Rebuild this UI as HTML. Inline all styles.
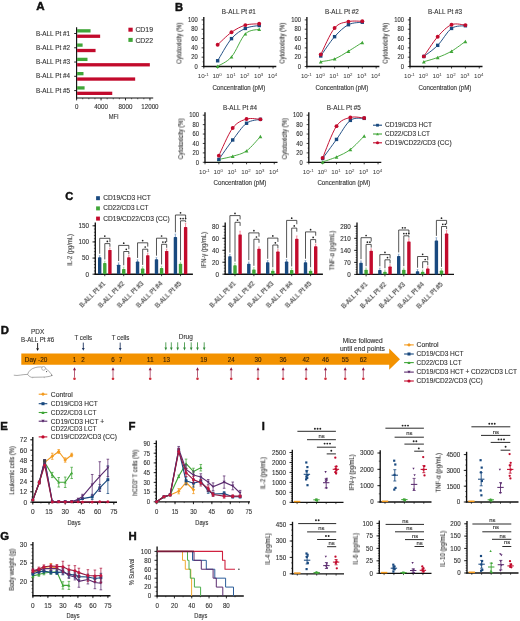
<!DOCTYPE html>
<html><head><meta charset="utf-8"><style>
html,body{margin:0;padding:0;background:#fff;width:520px;height:621px;overflow:hidden}
svg{display:block;filter:blur(0.3px)}
text{filter:url(#gs)}
text.nf{filter:none}
text{font-family:"Liberation Sans", sans-serif}
</style></head><body>
<svg width="520" height="621" viewBox="0 0 520 621">
<defs><filter id="gs" x="-5%" y="-5%" width="110%" height="110%"><feColorMatrix type="saturate" values="0"/></filter></defs>
<rect width="520" height="621" fill="#fff"/>
<text x="36.3" y="9.9" font-size="11.6" font-weight="bold" fill="#111" stroke="#111" stroke-width="0.45">A</text>
<line x1="76.6" y1="27.3" x2="76.6" y2="98.5" stroke="#111" stroke-width="1.15"/>
<line x1="76.1" y1="98" x2="153.2" y2="98" stroke="#111" stroke-width="1.15"/>
<line x1="76.6" y1="98" x2="76.6" y2="100.4" stroke="#111" stroke-width="0.9"/>
<line x1="82.71" y1="98" x2="82.71" y2="99.3" stroke="#111" stroke-width="0.6"/>
<line x1="88.82" y1="98" x2="88.82" y2="99.3" stroke="#111" stroke-width="0.6"/>
<line x1="94.94" y1="98" x2="94.94" y2="99.3" stroke="#111" stroke-width="0.6"/>
<line x1="101.05" y1="98" x2="101.05" y2="100.4" stroke="#111" stroke-width="0.9"/>
<line x1="107.16" y1="98" x2="107.16" y2="99.3" stroke="#111" stroke-width="0.6"/>
<line x1="113.27" y1="98" x2="113.27" y2="99.3" stroke="#111" stroke-width="0.6"/>
<line x1="119.39" y1="98" x2="119.39" y2="99.3" stroke="#111" stroke-width="0.6"/>
<line x1="125.5" y1="98" x2="125.5" y2="100.4" stroke="#111" stroke-width="0.9"/>
<line x1="131.61" y1="98" x2="131.61" y2="99.3" stroke="#111" stroke-width="0.6"/>
<line x1="137.72" y1="98" x2="137.72" y2="99.3" stroke="#111" stroke-width="0.6"/>
<line x1="143.84" y1="98" x2="143.84" y2="99.3" stroke="#111" stroke-width="0.6"/>
<line x1="149.95" y1="98" x2="149.95" y2="100.4" stroke="#111" stroke-width="0.9"/>
<text x="76.6" y="108.7" font-size="6.5" text-anchor="middle" fill="#333" stroke="#333" stroke-width="0.12" textLength="3.45" lengthAdjust="spacingAndGlyphs">0</text>
<text x="101.05" y="108.7" font-size="6.5" text-anchor="middle" fill="#333" stroke="#333" stroke-width="0.12" textLength="13.8" lengthAdjust="spacingAndGlyphs">4000</text>
<text x="125.5" y="108.7" font-size="6.5" text-anchor="middle" fill="#333" stroke="#333" stroke-width="0.12" textLength="13.8" lengthAdjust="spacingAndGlyphs">8000</text>
<text x="149.95" y="108.7" font-size="6.5" text-anchor="middle" fill="#333" stroke="#333" stroke-width="0.12" textLength="17.25" lengthAdjust="spacingAndGlyphs">12000</text>
<text x="113.7" y="119" font-size="6.6" text-anchor="middle" fill="#333" stroke="#333" stroke-width="0.12" textLength="10" lengthAdjust="spacingAndGlyphs">MFI</text>
<rect x="77.1" y="29.2" width="13.45" height="3.3" fill="#40a638"/>
<rect x="77.1" y="34.6" width="23.04" height="3.3" fill="#c20a2c"/>
<line x1="74.2" y1="33.5" x2="76.6" y2="33.5" stroke="#111" stroke-width="0.9"/>
<text x="70" y="35.6" font-size="6.3" text-anchor="end" fill="#333" stroke="#333" stroke-width="0.12" textLength="34" lengthAdjust="spacingAndGlyphs">B-ALL Pt #1</text>
<rect x="77.1" y="43.47" width="5.5" height="3.3" fill="#40a638"/>
<rect x="77.1" y="48.87" width="18.46" height="3.3" fill="#c20a2c"/>
<line x1="74.2" y1="47.77" x2="76.6" y2="47.77" stroke="#111" stroke-width="0.9"/>
<text x="70" y="49.87" font-size="6.3" text-anchor="end" fill="#333" stroke="#333" stroke-width="0.12" textLength="34" lengthAdjust="spacingAndGlyphs">B-ALL Pt #2</text>
<rect x="77.1" y="57.74" width="10.39" height="3.3" fill="#40a638"/>
<rect x="77.1" y="63.14" width="72.74" height="3.3" fill="#c20a2c"/>
<line x1="74.2" y1="62.04" x2="76.6" y2="62.04" stroke="#111" stroke-width="0.9"/>
<text x="70" y="64.14" font-size="6.3" text-anchor="end" fill="#333" stroke="#333" stroke-width="0.12" textLength="34" lengthAdjust="spacingAndGlyphs">B-ALL Pt #3</text>
<rect x="77.1" y="72.01" width="6.39" height="3.3" fill="#40a638"/>
<rect x="77.1" y="77.41" width="58.07" height="3.3" fill="#c20a2c"/>
<line x1="74.2" y1="76.31" x2="76.6" y2="76.31" stroke="#111" stroke-width="0.9"/>
<text x="70" y="78.41" font-size="6.3" text-anchor="end" fill="#333" stroke="#333" stroke-width="0.12" textLength="34" lengthAdjust="spacingAndGlyphs">B-ALL Pt #4</text>
<rect x="77.1" y="86.28" width="7.49" height="3.3" fill="#40a638"/>
<rect x="77.1" y="91.68" width="35.15" height="3.3" fill="#c20a2c"/>
<line x1="74.2" y1="90.58" x2="76.6" y2="90.58" stroke="#111" stroke-width="0.9"/>
<text x="70" y="92.68" font-size="6.3" text-anchor="end" fill="#333" stroke="#333" stroke-width="0.12" textLength="34" lengthAdjust="spacingAndGlyphs">B-ALL Pt #5</text>
<rect x="128.4" y="27.7" width="4.3" height="4" fill="#c20a2c"/>
<text x="135.4" y="32.3" font-size="6.6" text-anchor="start" fill="#333" stroke="#333" stroke-width="0.12" textLength="17.6" lengthAdjust="spacingAndGlyphs">CD19</text>
<rect x="128.4" y="37.9" width="4.3" height="4" fill="#40a638"/>
<text x="135.4" y="42.5" font-size="6.6" text-anchor="start" fill="#333" stroke="#333" stroke-width="0.12" textLength="17.6" lengthAdjust="spacingAndGlyphs">CD22</text>
<text x="175" y="10.7" font-size="11.2" font-weight="bold" fill="#111" stroke="#111" stroke-width="0.45">B</text>
<line x1="203.8" y1="16.9" x2="203.8" y2="67" stroke="#111" stroke-width="1.35"/>
<line x1="203.3" y1="66.5" x2="276.3" y2="66.5" stroke="#111" stroke-width="1.35"/>
<line x1="201.6" y1="66.5" x2="203.8" y2="66.5" stroke="#111" stroke-width="0.8"/>
<text x="197.8" y="68.75" font-size="6.4" text-anchor="end" fill="#333" stroke="#333" stroke-width="0.12" textLength="3.25" lengthAdjust="spacingAndGlyphs">0</text>
<line x1="202.6" y1="61.84" x2="203.8" y2="61.84" stroke="#111" stroke-width="0.6"/>
<line x1="201.6" y1="57.18" x2="203.8" y2="57.18" stroke="#111" stroke-width="0.8"/>
<text x="197.8" y="59.43" font-size="6.4" text-anchor="end" fill="#333" stroke="#333" stroke-width="0.12" textLength="6.5" lengthAdjust="spacingAndGlyphs">20</text>
<line x1="202.6" y1="52.52" x2="203.8" y2="52.52" stroke="#111" stroke-width="0.6"/>
<line x1="201.6" y1="47.86" x2="203.8" y2="47.86" stroke="#111" stroke-width="0.8"/>
<text x="197.8" y="50.11" font-size="6.4" text-anchor="end" fill="#333" stroke="#333" stroke-width="0.12" textLength="6.5" lengthAdjust="spacingAndGlyphs">40</text>
<line x1="202.6" y1="43.2" x2="203.8" y2="43.2" stroke="#111" stroke-width="0.6"/>
<line x1="201.6" y1="38.54" x2="203.8" y2="38.54" stroke="#111" stroke-width="0.8"/>
<text x="197.8" y="40.79" font-size="6.4" text-anchor="end" fill="#333" stroke="#333" stroke-width="0.12" textLength="6.5" lengthAdjust="spacingAndGlyphs">60</text>
<line x1="202.6" y1="33.88" x2="203.8" y2="33.88" stroke="#111" stroke-width="0.6"/>
<line x1="201.6" y1="29.22" x2="203.8" y2="29.22" stroke="#111" stroke-width="0.8"/>
<text x="197.8" y="31.47" font-size="6.4" text-anchor="end" fill="#333" stroke="#333" stroke-width="0.12" textLength="6.5" lengthAdjust="spacingAndGlyphs">80</text>
<line x1="202.6" y1="24.56" x2="203.8" y2="24.56" stroke="#111" stroke-width="0.6"/>
<line x1="201.6" y1="19.9" x2="203.8" y2="19.9" stroke="#111" stroke-width="0.8"/>
<text x="197.8" y="22.15" font-size="6.4" text-anchor="end" fill="#333" stroke="#333" stroke-width="0.12" textLength="9.75" lengthAdjust="spacingAndGlyphs">100</text>
<line x1="203.8" y1="66.5" x2="203.8" y2="68.5" stroke="#111" stroke-width="0.8"/>
<text x="203.2" y="78.4" font-size="6.2" text-anchor="middle" fill="#333">10<tspan font-size="4.34" dy="-2.48">-1</tspan></text>
<line x1="217.65" y1="66.5" x2="217.65" y2="68.5" stroke="#111" stroke-width="0.8"/>
<text x="217.05" y="78.4" font-size="6.2" text-anchor="middle" fill="#333">10<tspan font-size="4.34" dy="-2.48">0</tspan></text>
<line x1="231.5" y1="66.5" x2="231.5" y2="68.5" stroke="#111" stroke-width="0.8"/>
<text x="230.9" y="78.4" font-size="6.2" text-anchor="middle" fill="#333">10<tspan font-size="4.34" dy="-2.48">1</tspan></text>
<line x1="245.35" y1="66.5" x2="245.35" y2="68.5" stroke="#111" stroke-width="0.8"/>
<text x="244.75" y="78.4" font-size="6.2" text-anchor="middle" fill="#333">10<tspan font-size="4.34" dy="-2.48">2</tspan></text>
<line x1="259.2" y1="66.5" x2="259.2" y2="68.5" stroke="#111" stroke-width="0.8"/>
<text x="258.6" y="78.4" font-size="6.2" text-anchor="middle" fill="#333">10<tspan font-size="4.34" dy="-2.48">3</tspan></text>
<line x1="273.05" y1="66.5" x2="273.05" y2="68.5" stroke="#111" stroke-width="0.8"/>
<text x="272.45" y="78.4" font-size="6.2" text-anchor="middle" fill="#333">10<tspan font-size="4.34" dy="-2.48">4</tspan></text>
<text x="238.8" y="14.4" font-size="6.8" text-anchor="middle" fill="#333" stroke="#333" stroke-width="0.12" textLength="34" lengthAdjust="spacingAndGlyphs">B-ALL Pt #1</text>
<text x="238.8" y="89.5" font-size="6.6" text-anchor="middle" fill="#333" stroke="#333" stroke-width="0.12" textLength="52.8" lengthAdjust="spacingAndGlyphs">Concentration (pM)</text>
<text x="181.6" y="43.2" font-size="6.3" text-anchor="middle" fill="#333" stroke="#333" stroke-width="0.12" textLength="41" lengthAdjust="spacingAndGlyphs" transform="rotate(-90 181.6 43.2)">Cytotoxicity (%)</text>
<path d="M217.65,66.27 C219.96,64.71 226.88,62.3 231.5,56.9 C236.12,51.5 240.73,38.48 245.35,33.88 C249.97,29.28 256.89,30.07 259.2,29.31" fill="none" stroke="#40a638" stroke-width="0.95"/>
<path d="M217.65,60.77 C219.96,57.08 226.88,44.02 231.5,38.63 C236.12,33.24 240.73,30.62 245.35,28.43 C249.97,26.24 256.89,25.98 259.2,25.49" fill="none" stroke="#19497f" stroke-width="0.95"/>
<path d="M217.65,44.74 C219.96,42.66 226.88,35.52 231.5,32.25 C236.12,28.98 240.73,26.52 245.35,25.12 C249.97,23.71 256.89,24.03 259.2,23.81" fill="none" stroke="#c20a2c" stroke-width="0.95"/>
<polygon points="215.75,67.98 219.55,67.98 217.65,64.56" fill="#40a638"/>
<polygon points="229.6,58.61 233.4,58.61 231.5,55.19" fill="#40a638"/>
<polygon points="243.45,35.59 247.25,35.59 245.35,32.17" fill="#40a638"/>
<polygon points="257.3,31.02 261.1,31.02 259.2,27.6" fill="#40a638"/>
<rect x="215.95" y="59.07" width="3.4" height="3.4" fill="#19497f"/>
<rect x="229.8" y="36.93" width="3.4" height="3.4" fill="#19497f"/>
<rect x="243.65" y="26.73" width="3.4" height="3.4" fill="#19497f"/>
<rect x="257.5" y="23.79" width="3.4" height="3.4" fill="#19497f"/>
<circle cx="217.65" cy="44.74" r="1.95" fill="#c20a2c"/>
<circle cx="231.5" cy="32.25" r="1.95" fill="#c20a2c"/>
<circle cx="245.35" cy="25.12" r="1.95" fill="#c20a2c"/>
<circle cx="259.2" cy="23.81" r="1.95" fill="#c20a2c"/>
<line x1="306.9" y1="16.9" x2="306.9" y2="67" stroke="#111" stroke-width="1.35"/>
<line x1="306.4" y1="66.5" x2="379.4" y2="66.5" stroke="#111" stroke-width="1.35"/>
<line x1="304.7" y1="66.5" x2="306.9" y2="66.5" stroke="#111" stroke-width="0.8"/>
<text x="300.9" y="68.75" font-size="6.4" text-anchor="end" fill="#333" stroke="#333" stroke-width="0.12" textLength="3.25" lengthAdjust="spacingAndGlyphs">0</text>
<line x1="305.7" y1="61.84" x2="306.9" y2="61.84" stroke="#111" stroke-width="0.6"/>
<line x1="304.7" y1="57.18" x2="306.9" y2="57.18" stroke="#111" stroke-width="0.8"/>
<text x="300.9" y="59.43" font-size="6.4" text-anchor="end" fill="#333" stroke="#333" stroke-width="0.12" textLength="6.5" lengthAdjust="spacingAndGlyphs">20</text>
<line x1="305.7" y1="52.52" x2="306.9" y2="52.52" stroke="#111" stroke-width="0.6"/>
<line x1="304.7" y1="47.86" x2="306.9" y2="47.86" stroke="#111" stroke-width="0.8"/>
<text x="300.9" y="50.11" font-size="6.4" text-anchor="end" fill="#333" stroke="#333" stroke-width="0.12" textLength="6.5" lengthAdjust="spacingAndGlyphs">40</text>
<line x1="305.7" y1="43.2" x2="306.9" y2="43.2" stroke="#111" stroke-width="0.6"/>
<line x1="304.7" y1="38.54" x2="306.9" y2="38.54" stroke="#111" stroke-width="0.8"/>
<text x="300.9" y="40.79" font-size="6.4" text-anchor="end" fill="#333" stroke="#333" stroke-width="0.12" textLength="6.5" lengthAdjust="spacingAndGlyphs">60</text>
<line x1="305.7" y1="33.88" x2="306.9" y2="33.88" stroke="#111" stroke-width="0.6"/>
<line x1="304.7" y1="29.22" x2="306.9" y2="29.22" stroke="#111" stroke-width="0.8"/>
<text x="300.9" y="31.47" font-size="6.4" text-anchor="end" fill="#333" stroke="#333" stroke-width="0.12" textLength="6.5" lengthAdjust="spacingAndGlyphs">80</text>
<line x1="305.7" y1="24.56" x2="306.9" y2="24.56" stroke="#111" stroke-width="0.6"/>
<line x1="304.7" y1="19.9" x2="306.9" y2="19.9" stroke="#111" stroke-width="0.8"/>
<text x="300.9" y="22.15" font-size="6.4" text-anchor="end" fill="#333" stroke="#333" stroke-width="0.12" textLength="9.75" lengthAdjust="spacingAndGlyphs">100</text>
<line x1="306.9" y1="66.5" x2="306.9" y2="68.5" stroke="#111" stroke-width="0.8"/>
<text x="306.3" y="78.4" font-size="6.2" text-anchor="middle" fill="#333">10<tspan font-size="4.34" dy="-2.48">-1</tspan></text>
<line x1="320.75" y1="66.5" x2="320.75" y2="68.5" stroke="#111" stroke-width="0.8"/>
<text x="320.15" y="78.4" font-size="6.2" text-anchor="middle" fill="#333">10<tspan font-size="4.34" dy="-2.48">0</tspan></text>
<line x1="334.6" y1="66.5" x2="334.6" y2="68.5" stroke="#111" stroke-width="0.8"/>
<text x="334" y="78.4" font-size="6.2" text-anchor="middle" fill="#333">10<tspan font-size="4.34" dy="-2.48">1</tspan></text>
<line x1="348.45" y1="66.5" x2="348.45" y2="68.5" stroke="#111" stroke-width="0.8"/>
<text x="347.85" y="78.4" font-size="6.2" text-anchor="middle" fill="#333">10<tspan font-size="4.34" dy="-2.48">2</tspan></text>
<line x1="362.3" y1="66.5" x2="362.3" y2="68.5" stroke="#111" stroke-width="0.8"/>
<text x="361.7" y="78.4" font-size="6.2" text-anchor="middle" fill="#333">10<tspan font-size="4.34" dy="-2.48">3</tspan></text>
<line x1="376.15" y1="66.5" x2="376.15" y2="68.5" stroke="#111" stroke-width="0.8"/>
<text x="375.55" y="78.4" font-size="6.2" text-anchor="middle" fill="#333">10<tspan font-size="4.34" dy="-2.48">4</tspan></text>
<text x="341.9" y="14.4" font-size="6.8" text-anchor="middle" fill="#333" stroke="#333" stroke-width="0.12" textLength="34" lengthAdjust="spacingAndGlyphs">B-ALL Pt #2</text>
<text x="341.9" y="89.5" font-size="6.6" text-anchor="middle" fill="#333" stroke="#333" stroke-width="0.12" textLength="52.8" lengthAdjust="spacingAndGlyphs">Concentration (pM)</text>
<text x="284.7" y="43.2" font-size="6.3" text-anchor="middle" fill="#333" stroke="#333" stroke-width="0.12" textLength="41" lengthAdjust="spacingAndGlyphs" transform="rotate(-90 284.7 43.2)">Cytotoxicity (%)</text>
<path d="M320.75,61.7 C323.06,61.23 329.98,60.66 334.6,58.9 C339.22,57.15 343.83,53.91 348.45,51.17 C353.07,48.43 359.99,43.91 362.3,42.45" fill="none" stroke="#40a638" stroke-width="0.95"/>
<path d="M320.75,55.97 C323.06,52.75 329.98,41.89 334.6,36.68 C339.22,31.46 343.83,27.11 348.45,24.7 C353.07,22.29 359.99,22.64 362.3,22.23" fill="none" stroke="#19497f" stroke-width="0.95"/>
<path d="M320.75,54.57 C323.06,50.14 329.98,33.5 334.6,28.01 C339.22,22.52 343.83,22.74 348.45,21.62 C353.07,20.51 359.99,21.35 362.3,21.3" fill="none" stroke="#c20a2c" stroke-width="0.95"/>
<polygon points="318.85,63.41 322.65,63.41 320.75,59.99" fill="#40a638"/>
<polygon points="332.7,60.61 336.5,60.61 334.6,57.19" fill="#40a638"/>
<polygon points="346.55,52.88 350.35,52.88 348.45,49.46" fill="#40a638"/>
<polygon points="360.4,44.16 364.2,44.16 362.3,40.74" fill="#40a638"/>
<rect x="319.05" y="54.27" width="3.4" height="3.4" fill="#19497f"/>
<rect x="332.9" y="34.98" width="3.4" height="3.4" fill="#19497f"/>
<rect x="346.75" y="23" width="3.4" height="3.4" fill="#19497f"/>
<rect x="360.6" y="20.53" width="3.4" height="3.4" fill="#19497f"/>
<circle cx="320.75" cy="54.57" r="1.95" fill="#c20a2c"/>
<circle cx="334.6" cy="28.01" r="1.95" fill="#c20a2c"/>
<circle cx="348.45" cy="21.62" r="1.95" fill="#c20a2c"/>
<circle cx="362.3" cy="21.3" r="1.95" fill="#c20a2c"/>
<line x1="410" y1="16.9" x2="410" y2="67" stroke="#111" stroke-width="1.35"/>
<line x1="409.5" y1="66.5" x2="482.5" y2="66.5" stroke="#111" stroke-width="1.35"/>
<line x1="407.8" y1="66.5" x2="410" y2="66.5" stroke="#111" stroke-width="0.8"/>
<text x="404" y="68.75" font-size="6.4" text-anchor="end" fill="#333" stroke="#333" stroke-width="0.12" textLength="3.25" lengthAdjust="spacingAndGlyphs">0</text>
<line x1="408.8" y1="61.84" x2="410" y2="61.84" stroke="#111" stroke-width="0.6"/>
<line x1="407.8" y1="57.18" x2="410" y2="57.18" stroke="#111" stroke-width="0.8"/>
<text x="404" y="59.43" font-size="6.4" text-anchor="end" fill="#333" stroke="#333" stroke-width="0.12" textLength="6.5" lengthAdjust="spacingAndGlyphs">20</text>
<line x1="408.8" y1="52.52" x2="410" y2="52.52" stroke="#111" stroke-width="0.6"/>
<line x1="407.8" y1="47.86" x2="410" y2="47.86" stroke="#111" stroke-width="0.8"/>
<text x="404" y="50.11" font-size="6.4" text-anchor="end" fill="#333" stroke="#333" stroke-width="0.12" textLength="6.5" lengthAdjust="spacingAndGlyphs">40</text>
<line x1="408.8" y1="43.2" x2="410" y2="43.2" stroke="#111" stroke-width="0.6"/>
<line x1="407.8" y1="38.54" x2="410" y2="38.54" stroke="#111" stroke-width="0.8"/>
<text x="404" y="40.79" font-size="6.4" text-anchor="end" fill="#333" stroke="#333" stroke-width="0.12" textLength="6.5" lengthAdjust="spacingAndGlyphs">60</text>
<line x1="408.8" y1="33.88" x2="410" y2="33.88" stroke="#111" stroke-width="0.6"/>
<line x1="407.8" y1="29.22" x2="410" y2="29.22" stroke="#111" stroke-width="0.8"/>
<text x="404" y="31.47" font-size="6.4" text-anchor="end" fill="#333" stroke="#333" stroke-width="0.12" textLength="6.5" lengthAdjust="spacingAndGlyphs">80</text>
<line x1="408.8" y1="24.56" x2="410" y2="24.56" stroke="#111" stroke-width="0.6"/>
<line x1="407.8" y1="19.9" x2="410" y2="19.9" stroke="#111" stroke-width="0.8"/>
<text x="404" y="22.15" font-size="6.4" text-anchor="end" fill="#333" stroke="#333" stroke-width="0.12" textLength="9.75" lengthAdjust="spacingAndGlyphs">100</text>
<line x1="410" y1="66.5" x2="410" y2="68.5" stroke="#111" stroke-width="0.8"/>
<text x="409.4" y="78.4" font-size="6.2" text-anchor="middle" fill="#333">10<tspan font-size="4.34" dy="-2.48">-1</tspan></text>
<line x1="423.85" y1="66.5" x2="423.85" y2="68.5" stroke="#111" stroke-width="0.8"/>
<text x="423.25" y="78.4" font-size="6.2" text-anchor="middle" fill="#333">10<tspan font-size="4.34" dy="-2.48">0</tspan></text>
<line x1="437.7" y1="66.5" x2="437.7" y2="68.5" stroke="#111" stroke-width="0.8"/>
<text x="437.1" y="78.4" font-size="6.2" text-anchor="middle" fill="#333">10<tspan font-size="4.34" dy="-2.48">1</tspan></text>
<line x1="451.55" y1="66.5" x2="451.55" y2="68.5" stroke="#111" stroke-width="0.8"/>
<text x="450.95" y="78.4" font-size="6.2" text-anchor="middle" fill="#333">10<tspan font-size="4.34" dy="-2.48">2</tspan></text>
<line x1="465.4" y1="66.5" x2="465.4" y2="68.5" stroke="#111" stroke-width="0.8"/>
<text x="464.8" y="78.4" font-size="6.2" text-anchor="middle" fill="#333">10<tspan font-size="4.34" dy="-2.48">3</tspan></text>
<line x1="479.25" y1="66.5" x2="479.25" y2="68.5" stroke="#111" stroke-width="0.8"/>
<text x="478.65" y="78.4" font-size="6.2" text-anchor="middle" fill="#333">10<tspan font-size="4.34" dy="-2.48">4</tspan></text>
<text x="445" y="14.4" font-size="6.8" text-anchor="middle" fill="#333" stroke="#333" stroke-width="0.12" textLength="34" lengthAdjust="spacingAndGlyphs">B-ALL Pt #3</text>
<text x="445" y="89.5" font-size="6.6" text-anchor="middle" fill="#333" stroke="#333" stroke-width="0.12" textLength="52.8" lengthAdjust="spacingAndGlyphs">Concentration (pM)</text>
<text x="387.8" y="43.2" font-size="6.3" text-anchor="middle" fill="#333" stroke="#333" stroke-width="0.12" textLength="41" lengthAdjust="spacingAndGlyphs" transform="rotate(-90 387.8 43.2)">Cytotoxicity (%)</text>
<path d="M423.85,61.7 C426.16,60.99 433.08,59.21 437.7,57.46 C442.32,55.7 446.93,53.84 451.55,51.17 C456.17,48.5 463.09,43.05 465.4,41.43" fill="none" stroke="#40a638" stroke-width="0.95"/>
<path d="M423.85,56.48 C426.16,54.62 433.08,50.02 437.7,45.34 C442.32,40.67 446.93,31.7 451.55,28.43 C456.17,25.16 463.09,26.18 465.4,25.73" fill="none" stroke="#19497f" stroke-width="0.95"/>
<path d="M423.85,56.39 C426.16,53.1 433.08,41.96 437.7,36.68 C442.32,31.39 446.93,26.63 451.55,24.7 C456.17,22.77 463.09,25.05 465.4,25.12" fill="none" stroke="#c20a2c" stroke-width="0.95"/>
<polygon points="421.95,63.41 425.75,63.41 423.85,59.99" fill="#40a638"/>
<polygon points="435.8,59.17 439.6,59.17 437.7,55.75" fill="#40a638"/>
<polygon points="449.65,52.88 453.45,52.88 451.55,49.46" fill="#40a638"/>
<polygon points="463.5,43.14 467.3,43.14 465.4,39.72" fill="#40a638"/>
<rect x="422.15" y="54.78" width="3.4" height="3.4" fill="#19497f"/>
<rect x="436" y="43.64" width="3.4" height="3.4" fill="#19497f"/>
<rect x="449.85" y="26.73" width="3.4" height="3.4" fill="#19497f"/>
<rect x="463.7" y="24.03" width="3.4" height="3.4" fill="#19497f"/>
<circle cx="423.85" cy="56.39" r="1.95" fill="#c20a2c"/>
<circle cx="437.7" cy="36.68" r="1.95" fill="#c20a2c"/>
<circle cx="451.55" cy="24.7" r="1.95" fill="#c20a2c"/>
<circle cx="465.4" cy="25.12" r="1.95" fill="#c20a2c"/>
<line x1="205" y1="112.2" x2="205" y2="162.8" stroke="#111" stroke-width="1.35"/>
<line x1="204.5" y1="162.3" x2="277.5" y2="162.3" stroke="#111" stroke-width="1.35"/>
<line x1="202.8" y1="162.3" x2="205" y2="162.3" stroke="#111" stroke-width="0.8"/>
<text x="199" y="164.55" font-size="6.4" text-anchor="end" fill="#333" stroke="#333" stroke-width="0.12" textLength="3.25" lengthAdjust="spacingAndGlyphs">0</text>
<line x1="203.8" y1="157.59" x2="205" y2="157.59" stroke="#111" stroke-width="0.6"/>
<line x1="202.8" y1="152.88" x2="205" y2="152.88" stroke="#111" stroke-width="0.8"/>
<text x="199" y="155.13" font-size="6.4" text-anchor="end" fill="#333" stroke="#333" stroke-width="0.12" textLength="6.5" lengthAdjust="spacingAndGlyphs">20</text>
<line x1="203.8" y1="148.17" x2="205" y2="148.17" stroke="#111" stroke-width="0.6"/>
<line x1="202.8" y1="143.46" x2="205" y2="143.46" stroke="#111" stroke-width="0.8"/>
<text x="199" y="145.71" font-size="6.4" text-anchor="end" fill="#333" stroke="#333" stroke-width="0.12" textLength="6.5" lengthAdjust="spacingAndGlyphs">40</text>
<line x1="203.8" y1="138.75" x2="205" y2="138.75" stroke="#111" stroke-width="0.6"/>
<line x1="202.8" y1="134.04" x2="205" y2="134.04" stroke="#111" stroke-width="0.8"/>
<text x="199" y="136.29" font-size="6.4" text-anchor="end" fill="#333" stroke="#333" stroke-width="0.12" textLength="6.5" lengthAdjust="spacingAndGlyphs">60</text>
<line x1="203.8" y1="129.33" x2="205" y2="129.33" stroke="#111" stroke-width="0.6"/>
<line x1="202.8" y1="124.62" x2="205" y2="124.62" stroke="#111" stroke-width="0.8"/>
<text x="199" y="126.87" font-size="6.4" text-anchor="end" fill="#333" stroke="#333" stroke-width="0.12" textLength="6.5" lengthAdjust="spacingAndGlyphs">80</text>
<line x1="203.8" y1="119.91" x2="205" y2="119.91" stroke="#111" stroke-width="0.6"/>
<line x1="202.8" y1="115.2" x2="205" y2="115.2" stroke="#111" stroke-width="0.8"/>
<text x="199" y="117.45" font-size="6.4" text-anchor="end" fill="#333" stroke="#333" stroke-width="0.12" textLength="9.75" lengthAdjust="spacingAndGlyphs">100</text>
<line x1="205" y1="162.3" x2="205" y2="164.3" stroke="#111" stroke-width="0.8"/>
<text x="204.4" y="174.2" font-size="6.2" text-anchor="middle" fill="#333">10<tspan font-size="4.34" dy="-2.48">-1</tspan></text>
<line x1="218.85" y1="162.3" x2="218.85" y2="164.3" stroke="#111" stroke-width="0.8"/>
<text x="218.25" y="174.2" font-size="6.2" text-anchor="middle" fill="#333">10<tspan font-size="4.34" dy="-2.48">0</tspan></text>
<line x1="232.7" y1="162.3" x2="232.7" y2="164.3" stroke="#111" stroke-width="0.8"/>
<text x="232.1" y="174.2" font-size="6.2" text-anchor="middle" fill="#333">10<tspan font-size="4.34" dy="-2.48">1</tspan></text>
<line x1="246.55" y1="162.3" x2="246.55" y2="164.3" stroke="#111" stroke-width="0.8"/>
<text x="245.95" y="174.2" font-size="6.2" text-anchor="middle" fill="#333">10<tspan font-size="4.34" dy="-2.48">2</tspan></text>
<line x1="260.4" y1="162.3" x2="260.4" y2="164.3" stroke="#111" stroke-width="0.8"/>
<text x="259.8" y="174.2" font-size="6.2" text-anchor="middle" fill="#333">10<tspan font-size="4.34" dy="-2.48">3</tspan></text>
<line x1="274.25" y1="162.3" x2="274.25" y2="164.3" stroke="#111" stroke-width="0.8"/>
<text x="273.65" y="174.2" font-size="6.2" text-anchor="middle" fill="#333">10<tspan font-size="4.34" dy="-2.48">4</tspan></text>
<text x="240" y="109.7" font-size="6.8" text-anchor="middle" fill="#333" stroke="#333" stroke-width="0.12" textLength="34" lengthAdjust="spacingAndGlyphs">B-ALL Pt #4</text>
<text x="240" y="185.3" font-size="6.6" text-anchor="middle" fill="#333" stroke="#333" stroke-width="0.12" textLength="52.8" lengthAdjust="spacingAndGlyphs">Concentration (pM)</text>
<text x="182.8" y="138.75" font-size="6.3" text-anchor="middle" fill="#333" stroke="#333" stroke-width="0.12" textLength="41" lengthAdjust="spacingAndGlyphs" transform="rotate(-90 182.8 138.75)">Cytotoxicity (%)</text>
<path d="M218.85,159.43 C221.16,158.9 228.08,157.69 232.7,156.27 C237.32,154.85 241.93,154.19 246.55,150.9 C251.17,147.61 258.09,138.93 260.4,136.54" fill="none" stroke="#40a638" stroke-width="0.95"/>
<path d="M218.85,159.43 C221.16,156.18 228.08,146 232.7,139.97 C237.32,133.95 241.93,126.69 246.55,123.25 C251.17,119.82 258.09,120 260.4,119.34" fill="none" stroke="#19497f" stroke-width="0.95"/>
<path d="M218.85,155.66 C221.16,151.05 228.08,134.11 232.7,128.01 C237.32,121.91 241.93,120.51 246.55,119.06 C251.17,117.62 258.09,119.3 260.4,119.34" fill="none" stroke="#c20a2c" stroke-width="0.95"/>
<polygon points="216.95,161.14 220.75,161.14 218.85,157.72" fill="#40a638"/>
<polygon points="230.8,157.98 234.6,157.98 232.7,154.56" fill="#40a638"/>
<polygon points="244.65,152.61 248.45,152.61 246.55,149.19" fill="#40a638"/>
<polygon points="258.5,138.25 262.3,138.25 260.4,134.83" fill="#40a638"/>
<rect x="217.15" y="157.73" width="3.4" height="3.4" fill="#19497f"/>
<rect x="231" y="138.27" width="3.4" height="3.4" fill="#19497f"/>
<rect x="244.85" y="121.55" width="3.4" height="3.4" fill="#19497f"/>
<rect x="258.7" y="117.64" width="3.4" height="3.4" fill="#19497f"/>
<circle cx="218.85" cy="155.66" r="1.95" fill="#c20a2c"/>
<circle cx="232.7" cy="128.01" r="1.95" fill="#c20a2c"/>
<circle cx="246.55" cy="119.06" r="1.95" fill="#c20a2c"/>
<circle cx="260.4" cy="119.34" r="1.95" fill="#c20a2c"/>
<line x1="308.8" y1="112.2" x2="308.8" y2="162.8" stroke="#111" stroke-width="1.35"/>
<line x1="308.3" y1="162.3" x2="381.3" y2="162.3" stroke="#111" stroke-width="1.35"/>
<line x1="306.6" y1="162.3" x2="308.8" y2="162.3" stroke="#111" stroke-width="0.8"/>
<text x="302.8" y="164.55" font-size="6.4" text-anchor="end" fill="#333" stroke="#333" stroke-width="0.12" textLength="3.25" lengthAdjust="spacingAndGlyphs">0</text>
<line x1="307.6" y1="157.59" x2="308.8" y2="157.59" stroke="#111" stroke-width="0.6"/>
<line x1="306.6" y1="152.88" x2="308.8" y2="152.88" stroke="#111" stroke-width="0.8"/>
<text x="302.8" y="155.13" font-size="6.4" text-anchor="end" fill="#333" stroke="#333" stroke-width="0.12" textLength="6.5" lengthAdjust="spacingAndGlyphs">20</text>
<line x1="307.6" y1="148.17" x2="308.8" y2="148.17" stroke="#111" stroke-width="0.6"/>
<line x1="306.6" y1="143.46" x2="308.8" y2="143.46" stroke="#111" stroke-width="0.8"/>
<text x="302.8" y="145.71" font-size="6.4" text-anchor="end" fill="#333" stroke="#333" stroke-width="0.12" textLength="6.5" lengthAdjust="spacingAndGlyphs">40</text>
<line x1="307.6" y1="138.75" x2="308.8" y2="138.75" stroke="#111" stroke-width="0.6"/>
<line x1="306.6" y1="134.04" x2="308.8" y2="134.04" stroke="#111" stroke-width="0.8"/>
<text x="302.8" y="136.29" font-size="6.4" text-anchor="end" fill="#333" stroke="#333" stroke-width="0.12" textLength="6.5" lengthAdjust="spacingAndGlyphs">60</text>
<line x1="307.6" y1="129.33" x2="308.8" y2="129.33" stroke="#111" stroke-width="0.6"/>
<line x1="306.6" y1="124.62" x2="308.8" y2="124.62" stroke="#111" stroke-width="0.8"/>
<text x="302.8" y="126.87" font-size="6.4" text-anchor="end" fill="#333" stroke="#333" stroke-width="0.12" textLength="6.5" lengthAdjust="spacingAndGlyphs">80</text>
<line x1="307.6" y1="119.91" x2="308.8" y2="119.91" stroke="#111" stroke-width="0.6"/>
<line x1="306.6" y1="115.2" x2="308.8" y2="115.2" stroke="#111" stroke-width="0.8"/>
<text x="302.8" y="117.45" font-size="6.4" text-anchor="end" fill="#333" stroke="#333" stroke-width="0.12" textLength="9.75" lengthAdjust="spacingAndGlyphs">100</text>
<line x1="308.8" y1="162.3" x2="308.8" y2="164.3" stroke="#111" stroke-width="0.8"/>
<text x="308.2" y="174.2" font-size="6.2" text-anchor="middle" fill="#333">10<tspan font-size="4.34" dy="-2.48">-1</tspan></text>
<line x1="322.65" y1="162.3" x2="322.65" y2="164.3" stroke="#111" stroke-width="0.8"/>
<text x="322.05" y="174.2" font-size="6.2" text-anchor="middle" fill="#333">10<tspan font-size="4.34" dy="-2.48">0</tspan></text>
<line x1="336.5" y1="162.3" x2="336.5" y2="164.3" stroke="#111" stroke-width="0.8"/>
<text x="335.9" y="174.2" font-size="6.2" text-anchor="middle" fill="#333">10<tspan font-size="4.34" dy="-2.48">1</tspan></text>
<line x1="350.35" y1="162.3" x2="350.35" y2="164.3" stroke="#111" stroke-width="0.8"/>
<text x="349.75" y="174.2" font-size="6.2" text-anchor="middle" fill="#333">10<tspan font-size="4.34" dy="-2.48">2</tspan></text>
<line x1="364.2" y1="162.3" x2="364.2" y2="164.3" stroke="#111" stroke-width="0.8"/>
<text x="363.6" y="174.2" font-size="6.2" text-anchor="middle" fill="#333">10<tspan font-size="4.34" dy="-2.48">3</tspan></text>
<line x1="378.05" y1="162.3" x2="378.05" y2="164.3" stroke="#111" stroke-width="0.8"/>
<text x="377.45" y="174.2" font-size="6.2" text-anchor="middle" fill="#333">10<tspan font-size="4.34" dy="-2.48">4</tspan></text>
<text x="343.8" y="109.7" font-size="6.8" text-anchor="middle" fill="#333" stroke="#333" stroke-width="0.12" textLength="34" lengthAdjust="spacingAndGlyphs">B-ALL Pt #5</text>
<text x="343.8" y="185.3" font-size="6.6" text-anchor="middle" fill="#333" stroke="#333" stroke-width="0.12" textLength="52.8" lengthAdjust="spacingAndGlyphs">Concentration (pM)</text>
<text x="286.6" y="138.75" font-size="6.3" text-anchor="middle" fill="#333" stroke="#333" stroke-width="0.12" textLength="41" lengthAdjust="spacingAndGlyphs" transform="rotate(-90 286.6 138.75)">Cytotoxicity (%)</text>
<path d="M322.65,161.92 C324.96,161.09 331.88,159 336.5,156.93 C341.12,154.86 345.73,152.97 350.35,149.49 C354.97,146 361.89,138.26 364.2,136.02" fill="none" stroke="#40a638" stroke-width="0.95"/>
<path d="M322.65,158.53 C324.96,155.34 331.88,145.77 336.5,139.41 C341.12,133.05 345.73,123.89 350.35,120.38 C354.97,116.87 361.89,118.69 364.2,118.36" fill="none" stroke="#19497f" stroke-width="0.95"/>
<path d="M322.65,157.92 C324.96,152.62 331.88,132.87 336.5,126.13 C341.12,119.38 345.73,118.8 350.35,117.46 C354.97,116.12 361.89,117.97 364.2,118.07" fill="none" stroke="#c20a2c" stroke-width="0.95"/>
<polygon points="320.75,163.63 324.55,163.63 322.65,160.21" fill="#40a638"/>
<polygon points="334.6,158.64 338.4,158.64 336.5,155.22" fill="#40a638"/>
<polygon points="348.45,151.2 352.25,151.2 350.35,147.78" fill="#40a638"/>
<polygon points="362.3,137.73 366.1,137.73 364.2,134.31" fill="#40a638"/>
<rect x="320.95" y="156.83" width="3.4" height="3.4" fill="#19497f"/>
<rect x="334.8" y="137.71" width="3.4" height="3.4" fill="#19497f"/>
<rect x="348.65" y="118.68" width="3.4" height="3.4" fill="#19497f"/>
<rect x="362.5" y="116.66" width="3.4" height="3.4" fill="#19497f"/>
<circle cx="322.65" cy="157.92" r="1.95" fill="#c20a2c"/>
<circle cx="336.5" cy="126.13" r="1.95" fill="#c20a2c"/>
<circle cx="350.35" cy="117.46" r="1.95" fill="#c20a2c"/>
<circle cx="364.2" cy="118.07" r="1.95" fill="#c20a2c"/>
<line x1="373" y1="125.2" x2="382" y2="125.2" stroke="#19497f" stroke-width="1.1"/>
<rect x="376.1" y="123.8" width="2.8" height="2.8" fill="#19497f"/>
<text x="385" y="127.4" font-size="6.3" text-anchor="start" fill="#333" stroke="#333" stroke-width="0.12" textLength="47" lengthAdjust="spacingAndGlyphs">CD19/CD3 HCT</text>
<line x1="373" y1="134" x2="382" y2="134" stroke="#40a638" stroke-width="1.1"/>
<polygon points="376,135.35 379,135.35 377.5,132.65" fill="#40a638"/>
<text x="385" y="136.2" font-size="6.3" text-anchor="start" fill="#333" stroke="#333" stroke-width="0.12" textLength="45" lengthAdjust="spacingAndGlyphs">CD22/CD3 LCT</text>
<line x1="373" y1="142.8" x2="382" y2="142.8" stroke="#c20a2c" stroke-width="1.1"/>
<circle cx="377.5" cy="142.8" r="1.55" fill="#c20a2c"/>
<text x="385" y="145" font-size="6.3" text-anchor="start" fill="#333" stroke="#333" stroke-width="0.12" textLength="66.6" lengthAdjust="spacingAndGlyphs">CD19/CD22/CD3 (CC)</text>
<text x="65.2" y="200.1" font-size="11.2" font-weight="bold" fill="#111" stroke="#111" stroke-width="0.45">C</text>
<rect x="96.1" y="196.2" width="3.8" height="4" fill="#19497f"/>
<text x="103.3" y="200.2" font-size="6.6" text-anchor="start" fill="#333" stroke="#333" stroke-width="0.12" textLength="47.4" lengthAdjust="spacingAndGlyphs">CD19/CD3 HCT</text>
<rect x="96.1" y="206.4" width="3.8" height="4" fill="#40a638"/>
<text x="103.3" y="210.4" font-size="6.6" text-anchor="start" fill="#333" stroke="#333" stroke-width="0.12" textLength="45.2" lengthAdjust="spacingAndGlyphs">CD22/CD3 LCT</text>
<rect x="96.1" y="216.6" width="3.8" height="4" fill="#c20a2c"/>
<text x="103.3" y="220.6" font-size="6.6" text-anchor="start" fill="#333" stroke="#333" stroke-width="0.12" textLength="66.4" lengthAdjust="spacingAndGlyphs">CD19/CD22/CD3 (CC)</text>
<line x1="95.3" y1="222.6" x2="95.3" y2="274.7" stroke="#111" stroke-width="1.35"/>
<line x1="94.8" y1="274.2" x2="192.9" y2="274.2" stroke="#111" stroke-width="1.35"/>
<line x1="93.9" y1="274.2" x2="95.3" y2="274.2" stroke="#111" stroke-width="0.6"/>
<line x1="93.9" y1="270.97" x2="95.3" y2="270.97" stroke="#111" stroke-width="0.6"/>
<line x1="93.9" y1="267.75" x2="95.3" y2="267.75" stroke="#111" stroke-width="0.6"/>
<line x1="93.9" y1="264.52" x2="95.3" y2="264.52" stroke="#111" stroke-width="0.6"/>
<line x1="93.9" y1="261.29" x2="95.3" y2="261.29" stroke="#111" stroke-width="0.6"/>
<line x1="93.9" y1="258.07" x2="95.3" y2="258.07" stroke="#111" stroke-width="0.6"/>
<line x1="93.9" y1="254.84" x2="95.3" y2="254.84" stroke="#111" stroke-width="0.6"/>
<line x1="93.9" y1="251.61" x2="95.3" y2="251.61" stroke="#111" stroke-width="0.6"/>
<line x1="93.9" y1="248.39" x2="95.3" y2="248.39" stroke="#111" stroke-width="0.6"/>
<line x1="93.9" y1="245.16" x2="95.3" y2="245.16" stroke="#111" stroke-width="0.6"/>
<line x1="93.9" y1="241.93" x2="95.3" y2="241.93" stroke="#111" stroke-width="0.6"/>
<line x1="93.9" y1="238.71" x2="95.3" y2="238.71" stroke="#111" stroke-width="0.6"/>
<line x1="93.9" y1="235.48" x2="95.3" y2="235.48" stroke="#111" stroke-width="0.6"/>
<line x1="93.9" y1="232.25" x2="95.3" y2="232.25" stroke="#111" stroke-width="0.6"/>
<line x1="93.9" y1="229.03" x2="95.3" y2="229.03" stroke="#111" stroke-width="0.6"/>
<line x1="93.9" y1="225.8" x2="95.3" y2="225.8" stroke="#111" stroke-width="0.6"/>
<line x1="92.5" y1="274.2" x2="95.3" y2="274.2" stroke="#111" stroke-width="0.9"/>
<text x="89" y="276.5" font-size="6.6" text-anchor="end" fill="#333" stroke="#333" stroke-width="0.12" textLength="3.5" lengthAdjust="spacingAndGlyphs">0</text>
<line x1="92.5" y1="258.07" x2="95.3" y2="258.07" stroke="#111" stroke-width="0.9"/>
<text x="89" y="260.37" font-size="6.6" text-anchor="end" fill="#333" stroke="#333" stroke-width="0.12" textLength="7" lengthAdjust="spacingAndGlyphs">50</text>
<line x1="92.5" y1="241.93" x2="95.3" y2="241.93" stroke="#111" stroke-width="0.9"/>
<text x="89" y="244.23" font-size="6.6" text-anchor="end" fill="#333" stroke="#333" stroke-width="0.12" textLength="10.5" lengthAdjust="spacingAndGlyphs">100</text>
<line x1="92.5" y1="225.8" x2="95.3" y2="225.8" stroke="#111" stroke-width="0.9"/>
<text x="89" y="228.1" font-size="6.6" text-anchor="end" fill="#333" stroke="#333" stroke-width="0.12" textLength="10.5" lengthAdjust="spacingAndGlyphs">150</text>
<text x="72.1" y="249.9" font-size="6.3" text-anchor="middle" fill="#333" stroke="#333" stroke-width="0.12" textLength="31.6" lengthAdjust="spacingAndGlyphs" transform="rotate(-90 72.1 249.9)">IL-2 (pg/mL)</text>
<line x1="99.65" y1="255.56" x2="99.65" y2="258.36" stroke="#7a9cc4" stroke-width="0.9"/>
<line x1="98.8" y1="255.56" x2="100.5" y2="255.56" stroke="#7a9cc4" stroke-width="0.6"/>
<rect x="98" y="257.36" width="3.4" height="16.84" fill="#19497f" rx="0.7"/>
<line x1="104.75" y1="261.24" x2="104.75" y2="264.04" stroke="#98d492" stroke-width="0.9"/>
<line x1="103.9" y1="261.24" x2="105.6" y2="261.24" stroke="#98d492" stroke-width="0.6"/>
<rect x="103.1" y="263.04" width="3.4" height="11.16" fill="#40a638" rx="0.7"/>
<line x1="109.85" y1="247.96" x2="109.85" y2="250.9" stroke="#ee8494" stroke-width="0.9"/>
<line x1="109" y1="247.96" x2="110.7" y2="247.96" stroke="#ee8494" stroke-width="0.6"/>
<rect x="108.2" y="249.9" width="3.4" height="24.3" fill="#c20a2c" rx="0.7"/>
<line x1="104.8" y1="274.2" x2="104.8" y2="276.2" stroke="#111" stroke-width="0.8"/>
<text x="106.4" y="284.4" font-size="6.6" text-anchor="end" fill="#333" stroke="#333" stroke-width="0.12" textLength="34" lengthAdjust="spacingAndGlyphs" transform="rotate(-45 106.4 284.4)">B-ALL Pt #1</text>
<polyline points="99.7,253.76 99.7,238.3 109.9,238.3 109.9,242.1" fill="none" stroke="#2a2a2a" stroke-width="0.8" stroke-linejoin="round" stroke-linejoin="miter"/>
<polyline points="104.8,259.44 104.8,243.6 109.9,243.6 109.9,246.76" fill="none" stroke="#2a2a2a" stroke-width="0.8" stroke-linejoin="round" stroke-linejoin="miter"/>
<circle cx="104.8" cy="236.1" r="0.85" fill="#222"/>
<circle cx="107.35" cy="241.4" r="0.85" fill="#222"/>
<line x1="118.58" y1="262.85" x2="118.58" y2="265.65" stroke="#7a9cc4" stroke-width="0.9"/>
<line x1="117.73" y1="262.85" x2="119.43" y2="262.85" stroke="#7a9cc4" stroke-width="0.6"/>
<rect x="116.93" y="264.65" width="3.4" height="9.55" fill="#19497f" rx="0.7"/>
<line x1="123.68" y1="267.11" x2="123.68" y2="269.91" stroke="#98d492" stroke-width="0.9"/>
<line x1="122.83" y1="267.11" x2="124.53" y2="267.11" stroke="#98d492" stroke-width="0.6"/>
<rect x="122.03" y="268.91" width="3.4" height="5.29" fill="#40a638" rx="0.7"/>
<line x1="128.78" y1="255.46" x2="128.78" y2="258.26" stroke="#ee8494" stroke-width="0.9"/>
<line x1="127.93" y1="255.46" x2="129.63" y2="255.46" stroke="#ee8494" stroke-width="0.6"/>
<rect x="127.13" y="257.26" width="3.4" height="16.94" fill="#c20a2c" rx="0.7"/>
<line x1="123.73" y1="274.2" x2="123.73" y2="276.2" stroke="#111" stroke-width="0.8"/>
<text x="125.33" y="284.4" font-size="6.6" text-anchor="end" fill="#333" stroke="#333" stroke-width="0.12" textLength="34" lengthAdjust="spacingAndGlyphs" transform="rotate(-45 125.33 284.4)">B-ALL Pt #2</text>
<polyline points="118.63,261.05 118.63,245.4 128.83,245.4 128.83,249.2" fill="none" stroke="#2a2a2a" stroke-width="0.8" stroke-linejoin="round" stroke-linejoin="miter"/>
<polyline points="123.73,265.31 123.73,251.5 128.83,251.5 128.83,254.26" fill="none" stroke="#2a2a2a" stroke-width="0.8" stroke-linejoin="round" stroke-linejoin="miter"/>
<circle cx="123.73" cy="243.2" r="0.85" fill="#222"/>
<circle cx="126.28" cy="249.3" r="0.85" fill="#222"/>
<line x1="137.51" y1="259.75" x2="137.51" y2="262.55" stroke="#7a9cc4" stroke-width="0.9"/>
<line x1="136.66" y1="259.75" x2="138.36" y2="259.75" stroke="#7a9cc4" stroke-width="0.6"/>
<rect x="135.86" y="261.55" width="3.4" height="12.65" fill="#19497f" rx="0.7"/>
<line x1="142.61" y1="266.72" x2="142.61" y2="269.52" stroke="#98d492" stroke-width="0.9"/>
<line x1="141.76" y1="266.72" x2="143.46" y2="266.72" stroke="#98d492" stroke-width="0.6"/>
<rect x="140.96" y="268.52" width="3.4" height="5.68" fill="#40a638" rx="0.7"/>
<line x1="147.71" y1="253.36" x2="147.71" y2="256.16" stroke="#ee8494" stroke-width="0.9"/>
<line x1="146.86" y1="253.36" x2="148.56" y2="253.36" stroke="#ee8494" stroke-width="0.6"/>
<rect x="146.06" y="255.16" width="3.4" height="19.04" fill="#c20a2c" rx="0.7"/>
<line x1="142.66" y1="274.2" x2="142.66" y2="276.2" stroke="#111" stroke-width="0.8"/>
<text x="144.26" y="284.4" font-size="6.6" text-anchor="end" fill="#333" stroke="#333" stroke-width="0.12" textLength="34" lengthAdjust="spacingAndGlyphs" transform="rotate(-45 144.26 284.4)">B-ALL Pt #3</text>
<polyline points="137.56,257.95 137.56,242.8 147.76,242.8 147.76,246.6" fill="none" stroke="#2a2a2a" stroke-width="0.8" stroke-linejoin="round" stroke-linejoin="miter"/>
<polyline points="142.66,264.92 142.66,249.2 147.76,249.2 147.76,252.16" fill="none" stroke="#2a2a2a" stroke-width="0.8" stroke-linejoin="round" stroke-linejoin="miter"/>
<circle cx="142.66" cy="240.6" r="0.85" fill="#222"/>
<circle cx="145.21" cy="247" r="0.85" fill="#222"/>
<line x1="156.44" y1="257.46" x2="156.44" y2="260.26" stroke="#7a9cc4" stroke-width="0.9"/>
<line x1="155.59" y1="257.46" x2="157.29" y2="257.46" stroke="#7a9cc4" stroke-width="0.6"/>
<rect x="154.79" y="259.26" width="3.4" height="14.94" fill="#19497f" rx="0.7"/>
<line x1="161.54" y1="266.24" x2="161.54" y2="269.04" stroke="#98d492" stroke-width="0.9"/>
<line x1="160.69" y1="266.24" x2="162.39" y2="266.24" stroke="#98d492" stroke-width="0.6"/>
<rect x="159.89" y="268.04" width="3.4" height="6.16" fill="#40a638" rx="0.7"/>
<line x1="166.64" y1="249.04" x2="166.64" y2="251.9" stroke="#ee8494" stroke-width="0.9"/>
<line x1="165.79" y1="249.04" x2="167.49" y2="249.04" stroke="#ee8494" stroke-width="0.6"/>
<rect x="164.99" y="250.9" width="3.4" height="23.3" fill="#c20a2c" rx="0.7"/>
<line x1="161.59" y1="274.2" x2="161.59" y2="276.2" stroke="#111" stroke-width="0.8"/>
<text x="163.19" y="284.4" font-size="6.6" text-anchor="end" fill="#333" stroke="#333" stroke-width="0.12" textLength="34" lengthAdjust="spacingAndGlyphs" transform="rotate(-45 163.19 284.4)">B-ALL Pt #4</text>
<polyline points="156.49,255.66 156.49,238.2 166.69,238.2 166.69,242" fill="none" stroke="#2a2a2a" stroke-width="0.8" stroke-linejoin="round" stroke-linejoin="miter"/>
<polyline points="161.59,264.44 161.59,244.3 166.69,244.3 166.69,247.84" fill="none" stroke="#2a2a2a" stroke-width="0.8" stroke-linejoin="round" stroke-linejoin="miter"/>
<circle cx="161.59" cy="236" r="0.85" fill="#222"/>
<circle cx="162.89" cy="242.1" r="0.85" fill="#222"/>
<circle cx="165.39" cy="242.1" r="0.85" fill="#222"/>
<line x1="175.37" y1="234.12" x2="175.37" y2="238.09" stroke="#7a9cc4" stroke-width="0.9"/>
<line x1="174.52" y1="234.12" x2="176.22" y2="234.12" stroke="#7a9cc4" stroke-width="0.6"/>
<rect x="173.72" y="237.09" width="3.4" height="37.11" fill="#19497f" rx="0.7"/>
<line x1="180.47" y1="262.07" x2="180.47" y2="264.87" stroke="#98d492" stroke-width="0.9"/>
<line x1="179.62" y1="262.07" x2="181.32" y2="262.07" stroke="#98d492" stroke-width="0.6"/>
<rect x="178.82" y="263.87" width="3.4" height="10.33" fill="#40a638" rx="0.7"/>
<line x1="185.57" y1="223.32" x2="185.57" y2="228.09" stroke="#ee8494" stroke-width="0.9"/>
<line x1="184.72" y1="223.32" x2="186.42" y2="223.32" stroke="#ee8494" stroke-width="0.6"/>
<rect x="183.92" y="227.09" width="3.4" height="47.11" fill="#c20a2c" rx="0.7"/>
<line x1="180.52" y1="274.2" x2="180.52" y2="276.2" stroke="#111" stroke-width="0.8"/>
<text x="182.12" y="284.4" font-size="6.6" text-anchor="end" fill="#333" stroke="#333" stroke-width="0.12" textLength="34" lengthAdjust="spacingAndGlyphs" transform="rotate(-45 182.12 284.4)">B-ALL Pt #5</text>
<polyline points="175.42,232.32 175.42,215 185.62,215 185.62,218.8" fill="none" stroke="#2a2a2a" stroke-width="0.8" stroke-linejoin="round" stroke-linejoin="miter"/>
<polyline points="180.52,260.27 180.52,220.8 185.62,220.8 185.62,222.12" fill="none" stroke="#2a2a2a" stroke-width="0.8" stroke-linejoin="round" stroke-linejoin="miter"/>
<circle cx="180.52" cy="212.8" r="0.85" fill="#222"/>
<circle cx="180.57" cy="218.6" r="0.85" fill="#222"/>
<circle cx="183.07" cy="218.6" r="0.85" fill="#222"/>
<circle cx="185.57" cy="218.6" r="0.85" fill="#222"/>
<line x1="225.2" y1="222.6" x2="225.2" y2="274.7" stroke="#111" stroke-width="1.35"/>
<line x1="224.7" y1="274.2" x2="322.9" y2="274.2" stroke="#111" stroke-width="1.35"/>
<line x1="223.8" y1="274.2" x2="225.2" y2="274.2" stroke="#111" stroke-width="0.6"/>
<line x1="223.8" y1="271.21" x2="225.2" y2="271.21" stroke="#111" stroke-width="0.6"/>
<line x1="223.8" y1="268.21" x2="225.2" y2="268.21" stroke="#111" stroke-width="0.6"/>
<line x1="223.8" y1="265.22" x2="225.2" y2="265.22" stroke="#111" stroke-width="0.6"/>
<line x1="223.8" y1="262.23" x2="225.2" y2="262.23" stroke="#111" stroke-width="0.6"/>
<line x1="223.8" y1="259.23" x2="225.2" y2="259.23" stroke="#111" stroke-width="0.6"/>
<line x1="223.8" y1="256.24" x2="225.2" y2="256.24" stroke="#111" stroke-width="0.6"/>
<line x1="223.8" y1="253.24" x2="225.2" y2="253.24" stroke="#111" stroke-width="0.6"/>
<line x1="223.8" y1="250.25" x2="225.2" y2="250.25" stroke="#111" stroke-width="0.6"/>
<line x1="223.8" y1="247.26" x2="225.2" y2="247.26" stroke="#111" stroke-width="0.6"/>
<line x1="223.8" y1="244.26" x2="225.2" y2="244.26" stroke="#111" stroke-width="0.6"/>
<line x1="223.8" y1="241.27" x2="225.2" y2="241.27" stroke="#111" stroke-width="0.6"/>
<line x1="223.8" y1="238.28" x2="225.2" y2="238.28" stroke="#111" stroke-width="0.6"/>
<line x1="223.8" y1="235.28" x2="225.2" y2="235.28" stroke="#111" stroke-width="0.6"/>
<line x1="223.8" y1="232.29" x2="225.2" y2="232.29" stroke="#111" stroke-width="0.6"/>
<line x1="223.8" y1="229.29" x2="225.2" y2="229.29" stroke="#111" stroke-width="0.6"/>
<line x1="223.8" y1="226.3" x2="225.2" y2="226.3" stroke="#111" stroke-width="0.6"/>
<line x1="222.4" y1="274.2" x2="225.2" y2="274.2" stroke="#111" stroke-width="0.9"/>
<text x="218.9" y="276.5" font-size="6.6" text-anchor="end" fill="#333" stroke="#333" stroke-width="0.12" textLength="3.5" lengthAdjust="spacingAndGlyphs">0</text>
<line x1="222.4" y1="262.23" x2="225.2" y2="262.23" stroke="#111" stroke-width="0.9"/>
<text x="218.9" y="264.53" font-size="6.6" text-anchor="end" fill="#333" stroke="#333" stroke-width="0.12" textLength="7" lengthAdjust="spacingAndGlyphs">20</text>
<line x1="222.4" y1="250.25" x2="225.2" y2="250.25" stroke="#111" stroke-width="0.9"/>
<text x="218.9" y="252.55" font-size="6.6" text-anchor="end" fill="#333" stroke="#333" stroke-width="0.12" textLength="7" lengthAdjust="spacingAndGlyphs">40</text>
<line x1="222.4" y1="238.28" x2="225.2" y2="238.28" stroke="#111" stroke-width="0.9"/>
<text x="218.9" y="240.58" font-size="6.6" text-anchor="end" fill="#333" stroke="#333" stroke-width="0.12" textLength="7" lengthAdjust="spacingAndGlyphs">60</text>
<line x1="222.4" y1="226.3" x2="225.2" y2="226.3" stroke="#111" stroke-width="0.9"/>
<text x="218.9" y="228.6" font-size="6.6" text-anchor="end" fill="#333" stroke="#333" stroke-width="0.12" textLength="7" lengthAdjust="spacingAndGlyphs">80</text>
<text x="206" y="249.9" font-size="6.3" text-anchor="middle" fill="#333" stroke="#333" stroke-width="0.12" textLength="36" lengthAdjust="spacingAndGlyphs" transform="rotate(-90 206 249.9)">IFN-γ (pg/mL)</text>
<line x1="229.85" y1="254.44" x2="229.85" y2="257.24" stroke="#7a9cc4" stroke-width="0.9"/>
<line x1="229" y1="254.44" x2="230.7" y2="254.44" stroke="#7a9cc4" stroke-width="0.6"/>
<rect x="228.2" y="256.24" width="3.4" height="17.96" fill="#19497f" rx="0.7"/>
<line x1="234.95" y1="263.42" x2="234.95" y2="266.22" stroke="#98d492" stroke-width="0.9"/>
<line x1="234.1" y1="263.42" x2="235.8" y2="263.42" stroke="#98d492" stroke-width="0.6"/>
<rect x="233.3" y="265.22" width="3.4" height="8.98" fill="#40a638" rx="0.7"/>
<line x1="240.05" y1="231.2" x2="240.05" y2="235.38" stroke="#ee8494" stroke-width="0.9"/>
<line x1="239.2" y1="231.2" x2="240.9" y2="231.2" stroke="#ee8494" stroke-width="0.6"/>
<rect x="238.4" y="234.38" width="3.4" height="39.82" fill="#c20a2c" rx="0.7"/>
<line x1="235" y1="274.2" x2="235" y2="276.2" stroke="#111" stroke-width="0.8"/>
<text x="236.6" y="284.4" font-size="6.6" text-anchor="end" fill="#333" stroke="#333" stroke-width="0.12" textLength="34" lengthAdjust="spacingAndGlyphs" transform="rotate(-45 236.6 284.4)">B-ALL Pt #1</text>
<polyline points="229.9,252.64 229.9,215.6 240.1,215.6 240.1,219.4" fill="none" stroke="#2a2a2a" stroke-width="0.8" stroke-linejoin="round" stroke-linejoin="miter"/>
<polyline points="235,261.62 235,222.3 240.1,222.3 240.1,225.9" fill="none" stroke="#2a2a2a" stroke-width="0.8" stroke-linejoin="round" stroke-linejoin="miter"/>
<circle cx="235" cy="213.4" r="0.85" fill="#222"/>
<circle cx="237.55" cy="220.1" r="0.85" fill="#222"/>
<line x1="248.75" y1="261.98" x2="248.75" y2="264.78" stroke="#7a9cc4" stroke-width="0.9"/>
<line x1="247.9" y1="261.98" x2="249.6" y2="261.98" stroke="#7a9cc4" stroke-width="0.6"/>
<rect x="247.1" y="263.78" width="3.4" height="10.42" fill="#19497f" rx="0.7"/>
<line x1="253.85" y1="267.61" x2="253.85" y2="270.41" stroke="#98d492" stroke-width="0.9"/>
<line x1="253" y1="267.61" x2="254.7" y2="267.61" stroke="#98d492" stroke-width="0.6"/>
<rect x="252.2" y="269.41" width="3.4" height="4.79" fill="#40a638" rx="0.7"/>
<line x1="258.95" y1="246.85" x2="258.95" y2="249.87" stroke="#ee8494" stroke-width="0.9"/>
<line x1="258.1" y1="246.85" x2="259.8" y2="246.85" stroke="#ee8494" stroke-width="0.6"/>
<rect x="257.3" y="248.87" width="3.4" height="25.33" fill="#c20a2c" rx="0.7"/>
<line x1="253.9" y1="274.2" x2="253.9" y2="276.2" stroke="#111" stroke-width="0.8"/>
<text x="255.5" y="284.4" font-size="6.6" text-anchor="end" fill="#333" stroke="#333" stroke-width="0.12" textLength="34" lengthAdjust="spacingAndGlyphs" transform="rotate(-45 255.5 284.4)">B-ALL Pt #2</text>
<polyline points="248.8,260.18 248.8,232.9 259,232.9 259,236.7" fill="none" stroke="#2a2a2a" stroke-width="0.8" stroke-linejoin="round" stroke-linejoin="miter"/>
<polyline points="253.9,265.81 253.9,239.2 259,239.2 259,242.8" fill="none" stroke="#2a2a2a" stroke-width="0.8" stroke-linejoin="round" stroke-linejoin="miter"/>
<circle cx="253.9" cy="230.7" r="0.85" fill="#222"/>
<circle cx="256.45" cy="237" r="0.85" fill="#222"/>
<line x1="267.65" y1="260.54" x2="267.65" y2="263.34" stroke="#7a9cc4" stroke-width="0.9"/>
<line x1="266.8" y1="260.54" x2="268.5" y2="260.54" stroke="#7a9cc4" stroke-width="0.6"/>
<rect x="266" y="262.34" width="3.4" height="11.86" fill="#19497f" rx="0.7"/>
<line x1="272.75" y1="269.05" x2="272.75" y2="271.85" stroke="#98d492" stroke-width="0.9"/>
<line x1="271.9" y1="269.05" x2="273.6" y2="269.05" stroke="#98d492" stroke-width="0.6"/>
<rect x="271.1" y="270.85" width="3.4" height="3.35" fill="#40a638" rx="0.7"/>
<line x1="277.85" y1="249.63" x2="277.85" y2="252.45" stroke="#ee8494" stroke-width="0.9"/>
<line x1="277" y1="249.63" x2="278.7" y2="249.63" stroke="#ee8494" stroke-width="0.6"/>
<rect x="276.2" y="251.45" width="3.4" height="22.75" fill="#c20a2c" rx="0.7"/>
<line x1="272.8" y1="274.2" x2="272.8" y2="276.2" stroke="#111" stroke-width="0.8"/>
<text x="274.4" y="284.4" font-size="6.6" text-anchor="end" fill="#333" stroke="#333" stroke-width="0.12" textLength="34" lengthAdjust="spacingAndGlyphs" transform="rotate(-45 274.4 284.4)">B-ALL Pt #3</text>
<polyline points="267.7,258.74 267.7,238.1 277.9,238.1 277.9,241.9" fill="none" stroke="#2a2a2a" stroke-width="0.8" stroke-linejoin="round" stroke-linejoin="miter"/>
<polyline points="272.8,267.25 272.8,245 277.9,245 277.9,248.43" fill="none" stroke="#2a2a2a" stroke-width="0.8" stroke-linejoin="round" stroke-linejoin="miter"/>
<circle cx="272.8" cy="235.9" r="0.85" fill="#222"/>
<circle cx="275.35" cy="242.8" r="0.85" fill="#222"/>
<line x1="286.55" y1="259.65" x2="286.55" y2="262.45" stroke="#7a9cc4" stroke-width="0.9"/>
<line x1="285.7" y1="259.65" x2="287.4" y2="259.65" stroke="#7a9cc4" stroke-width="0.6"/>
<rect x="284.9" y="261.45" width="3.4" height="12.75" fill="#19497f" rx="0.7"/>
<line x1="291.65" y1="268.21" x2="291.65" y2="271.01" stroke="#98d492" stroke-width="0.9"/>
<line x1="290.8" y1="268.21" x2="292.5" y2="268.21" stroke="#98d492" stroke-width="0.6"/>
<rect x="290" y="270.01" width="3.4" height="4.19" fill="#40a638" rx="0.7"/>
<line x1="296.75" y1="235.92" x2="296.75" y2="239.75" stroke="#ee8494" stroke-width="0.9"/>
<line x1="295.9" y1="235.92" x2="297.6" y2="235.92" stroke="#ee8494" stroke-width="0.6"/>
<rect x="295.1" y="238.75" width="3.4" height="35.45" fill="#c20a2c" rx="0.7"/>
<line x1="291.7" y1="274.2" x2="291.7" y2="276.2" stroke="#111" stroke-width="0.8"/>
<text x="293.3" y="284.4" font-size="6.6" text-anchor="end" fill="#333" stroke="#333" stroke-width="0.12" textLength="34" lengthAdjust="spacingAndGlyphs" transform="rotate(-45 293.3 284.4)">B-ALL Pt #4</text>
<polyline points="286.6,257.85 286.6,220.4 296.8,220.4 296.8,224.2" fill="none" stroke="#2a2a2a" stroke-width="0.8" stroke-linejoin="round" stroke-linejoin="miter"/>
<polyline points="291.7,266.41 291.7,228.1 296.8,228.1 296.8,231.7" fill="none" stroke="#2a2a2a" stroke-width="0.8" stroke-linejoin="round" stroke-linejoin="miter"/>
<circle cx="291.7" cy="218.2" r="0.85" fill="#222"/>
<circle cx="294.25" cy="225.9" r="0.85" fill="#222"/>
<line x1="305.45" y1="260.54" x2="305.45" y2="263.34" stroke="#7a9cc4" stroke-width="0.9"/>
<line x1="304.6" y1="260.54" x2="306.3" y2="260.54" stroke="#7a9cc4" stroke-width="0.6"/>
<rect x="303.8" y="262.34" width="3.4" height="11.86" fill="#19497f" rx="0.7"/>
<line x1="310.55" y1="269.05" x2="310.55" y2="271.85" stroke="#98d492" stroke-width="0.9"/>
<line x1="309.7" y1="269.05" x2="311.4" y2="269.05" stroke="#98d492" stroke-width="0.6"/>
<rect x="308.9" y="270.85" width="3.4" height="3.35" fill="#40a638" rx="0.7"/>
<line x1="315.65" y1="244.07" x2="315.65" y2="247.3" stroke="#ee8494" stroke-width="0.9"/>
<line x1="314.8" y1="244.07" x2="316.5" y2="244.07" stroke="#ee8494" stroke-width="0.6"/>
<rect x="314" y="246.3" width="3.4" height="27.9" fill="#c20a2c" rx="0.7"/>
<line x1="310.6" y1="274.2" x2="310.6" y2="276.2" stroke="#111" stroke-width="0.8"/>
<text x="312.2" y="284.4" font-size="6.6" text-anchor="end" fill="#333" stroke="#333" stroke-width="0.12" textLength="34" lengthAdjust="spacingAndGlyphs" transform="rotate(-45 312.2 284.4)">B-ALL Pt #5</text>
<polyline points="305.5,258.74 305.5,231.9 315.7,231.9 315.7,235.7" fill="none" stroke="#2a2a2a" stroke-width="0.8" stroke-linejoin="round" stroke-linejoin="miter"/>
<polyline points="310.6,267.25 310.6,239.6 315.7,239.6 315.7,242.87" fill="none" stroke="#2a2a2a" stroke-width="0.8" stroke-linejoin="round" stroke-linejoin="miter"/>
<circle cx="310.6" cy="229.7" r="0.85" fill="#222"/>
<circle cx="313.15" cy="237.4" r="0.85" fill="#222"/>
<line x1="357" y1="222.6" x2="357" y2="274.9" stroke="#111" stroke-width="1.35"/>
<line x1="356.5" y1="274.4" x2="454" y2="274.4" stroke="#111" stroke-width="1.35"/>
<line x1="355.6" y1="274.4" x2="357" y2="274.4" stroke="#111" stroke-width="0.6"/>
<line x1="355.6" y1="272" x2="357" y2="272" stroke="#111" stroke-width="0.6"/>
<line x1="355.6" y1="269.59" x2="357" y2="269.59" stroke="#111" stroke-width="0.6"/>
<line x1="355.6" y1="267.19" x2="357" y2="267.19" stroke="#111" stroke-width="0.6"/>
<line x1="355.6" y1="264.78" x2="357" y2="264.78" stroke="#111" stroke-width="0.6"/>
<line x1="355.6" y1="262.38" x2="357" y2="262.38" stroke="#111" stroke-width="0.6"/>
<line x1="355.6" y1="259.97" x2="357" y2="259.97" stroke="#111" stroke-width="0.6"/>
<line x1="355.6" y1="257.56" x2="357" y2="257.56" stroke="#111" stroke-width="0.6"/>
<line x1="355.6" y1="255.16" x2="357" y2="255.16" stroke="#111" stroke-width="0.6"/>
<line x1="355.6" y1="252.75" x2="357" y2="252.75" stroke="#111" stroke-width="0.6"/>
<line x1="355.6" y1="250.35" x2="357" y2="250.35" stroke="#111" stroke-width="0.6"/>
<line x1="355.6" y1="247.94" x2="357" y2="247.94" stroke="#111" stroke-width="0.6"/>
<line x1="355.6" y1="245.54" x2="357" y2="245.54" stroke="#111" stroke-width="0.6"/>
<line x1="355.6" y1="243.13" x2="357" y2="243.13" stroke="#111" stroke-width="0.6"/>
<line x1="355.6" y1="240.73" x2="357" y2="240.73" stroke="#111" stroke-width="0.6"/>
<line x1="355.6" y1="238.32" x2="357" y2="238.32" stroke="#111" stroke-width="0.6"/>
<line x1="355.6" y1="235.92" x2="357" y2="235.92" stroke="#111" stroke-width="0.6"/>
<line x1="355.6" y1="233.52" x2="357" y2="233.52" stroke="#111" stroke-width="0.6"/>
<line x1="355.6" y1="231.11" x2="357" y2="231.11" stroke="#111" stroke-width="0.6"/>
<line x1="355.6" y1="228.71" x2="357" y2="228.71" stroke="#111" stroke-width="0.6"/>
<line x1="355.6" y1="226.3" x2="357" y2="226.3" stroke="#111" stroke-width="0.6"/>
<line x1="354.2" y1="274.4" x2="357" y2="274.4" stroke="#111" stroke-width="0.9"/>
<text x="350.7" y="276.7" font-size="6.6" text-anchor="end" fill="#333" stroke="#333" stroke-width="0.12" textLength="3.5" lengthAdjust="spacingAndGlyphs">0</text>
<line x1="354.2" y1="262.38" x2="357" y2="262.38" stroke="#111" stroke-width="0.9"/>
<text x="350.7" y="264.68" font-size="6.6" text-anchor="end" fill="#333" stroke="#333" stroke-width="0.12" textLength="7" lengthAdjust="spacingAndGlyphs">70</text>
<line x1="354.2" y1="250.35" x2="357" y2="250.35" stroke="#111" stroke-width="0.9"/>
<text x="350.7" y="252.65" font-size="6.6" text-anchor="end" fill="#333" stroke="#333" stroke-width="0.12" textLength="10.5" lengthAdjust="spacingAndGlyphs">140</text>
<line x1="354.2" y1="238.32" x2="357" y2="238.32" stroke="#111" stroke-width="0.9"/>
<text x="350.7" y="240.62" font-size="6.6" text-anchor="end" fill="#333" stroke="#333" stroke-width="0.12" textLength="10.5" lengthAdjust="spacingAndGlyphs">210</text>
<line x1="354.2" y1="226.3" x2="357" y2="226.3" stroke="#111" stroke-width="0.9"/>
<text x="350.7" y="228.6" font-size="6.6" text-anchor="end" fill="#333" stroke="#333" stroke-width="0.12" textLength="10.5" lengthAdjust="spacingAndGlyphs">280</text>
<text x="333.8" y="250.5" font-size="6.3" text-anchor="middle" fill="#333" stroke="#333" stroke-width="0.12" textLength="39.4" lengthAdjust="spacingAndGlyphs" transform="rotate(-90 333.8 250.5)">TNF-α (pg/mL)</text>
<line x1="360.95" y1="260.92" x2="360.95" y2="263.72" stroke="#7a9cc4" stroke-width="0.9"/>
<line x1="360.1" y1="260.92" x2="361.8" y2="260.92" stroke="#7a9cc4" stroke-width="0.6"/>
<rect x="359.3" y="262.72" width="3.4" height="11.68" fill="#19497f" rx="0.7"/>
<line x1="366.05" y1="267.96" x2="366.05" y2="270.76" stroke="#98d492" stroke-width="0.9"/>
<line x1="365.2" y1="267.96" x2="366.9" y2="267.96" stroke="#98d492" stroke-width="0.6"/>
<rect x="364.4" y="269.76" width="3.4" height="4.64" fill="#40a638" rx="0.7"/>
<line x1="371.15" y1="248.8" x2="371.15" y2="251.69" stroke="#ee8494" stroke-width="0.9"/>
<line x1="370.3" y1="248.8" x2="372" y2="248.8" stroke="#ee8494" stroke-width="0.6"/>
<rect x="369.5" y="250.69" width="3.4" height="23.71" fill="#c20a2c" rx="0.7"/>
<line x1="366.1" y1="274.4" x2="366.1" y2="276.4" stroke="#111" stroke-width="0.8"/>
<text x="367.7" y="284.6" font-size="6.6" text-anchor="end" fill="#333" stroke="#333" stroke-width="0.12" textLength="34" lengthAdjust="spacingAndGlyphs" transform="rotate(-45 367.7 284.6)">B-ALL Pt #1</text>
<polyline points="361,259.12 361,237.7 371.2,237.7 371.2,241.5" fill="none" stroke="#2a2a2a" stroke-width="0.8" stroke-linejoin="round" stroke-linejoin="miter"/>
<polyline points="366.1,266.16 366.1,244.4 371.2,244.4 371.2,247.6" fill="none" stroke="#2a2a2a" stroke-width="0.8" stroke-linejoin="round" stroke-linejoin="miter"/>
<circle cx="366.1" cy="235.5" r="0.85" fill="#222"/>
<circle cx="367.4" cy="242.2" r="0.85" fill="#222"/>
<circle cx="369.9" cy="242.2" r="0.85" fill="#222"/>
<line x1="379.8" y1="268.13" x2="379.8" y2="270.93" stroke="#7a9cc4" stroke-width="0.9"/>
<line x1="378.95" y1="268.13" x2="380.65" y2="268.13" stroke="#7a9cc4" stroke-width="0.6"/>
<rect x="378.15" y="269.93" width="3.4" height="4.47" fill="#19497f" rx="0.7"/>
<line x1="384.9" y1="270.02" x2="384.9" y2="272.82" stroke="#98d492" stroke-width="0.9"/>
<line x1="384.05" y1="270.02" x2="385.75" y2="270.02" stroke="#98d492" stroke-width="0.6"/>
<rect x="383.25" y="271.82" width="3.4" height="2.58" fill="#40a638" rx="0.7"/>
<line x1="390" y1="264.7" x2="390" y2="267.5" stroke="#ee8494" stroke-width="0.9"/>
<line x1="389.15" y1="264.7" x2="390.85" y2="264.7" stroke="#ee8494" stroke-width="0.6"/>
<rect x="388.35" y="266.5" width="3.4" height="7.9" fill="#c20a2c" rx="0.7"/>
<line x1="384.95" y1="274.4" x2="384.95" y2="276.4" stroke="#111" stroke-width="0.8"/>
<text x="386.55" y="284.6" font-size="6.6" text-anchor="end" fill="#333" stroke="#333" stroke-width="0.12" textLength="34" lengthAdjust="spacingAndGlyphs" transform="rotate(-45 386.55 284.6)">B-ALL Pt #2</text>
<polyline points="379.85,266.33 379.85,254.6 390.05,254.6 390.05,258.4" fill="none" stroke="#2a2a2a" stroke-width="0.8" stroke-linejoin="round" stroke-linejoin="miter"/>
<polyline points="384.95,268.22 384.95,259.8 390.05,259.8 390.05,263.4" fill="none" stroke="#2a2a2a" stroke-width="0.8" stroke-linejoin="round" stroke-linejoin="miter"/>
<circle cx="384.95" cy="252.4" r="0.85" fill="#222"/>
<circle cx="387.5" cy="257.6" r="0.85" fill="#222"/>
<line x1="398.65" y1="254.22" x2="398.65" y2="257.02" stroke="#7a9cc4" stroke-width="0.9"/>
<line x1="397.8" y1="254.22" x2="399.5" y2="254.22" stroke="#7a9cc4" stroke-width="0.6"/>
<rect x="397" y="256.02" width="3.4" height="18.38" fill="#19497f" rx="0.7"/>
<line x1="403.75" y1="267.96" x2="403.75" y2="270.76" stroke="#98d492" stroke-width="0.9"/>
<line x1="402.9" y1="267.96" x2="404.6" y2="267.96" stroke="#98d492" stroke-width="0.6"/>
<rect x="402.1" y="269.76" width="3.4" height="4.64" fill="#40a638" rx="0.7"/>
<line x1="408.85" y1="238.78" x2="408.85" y2="242.42" stroke="#ee8494" stroke-width="0.9"/>
<line x1="408" y1="238.78" x2="409.7" y2="238.78" stroke="#ee8494" stroke-width="0.6"/>
<rect x="407.2" y="241.42" width="3.4" height="32.98" fill="#c20a2c" rx="0.7"/>
<line x1="403.8" y1="274.4" x2="403.8" y2="276.4" stroke="#111" stroke-width="0.8"/>
<text x="405.4" y="284.6" font-size="6.6" text-anchor="end" fill="#333" stroke="#333" stroke-width="0.12" textLength="34" lengthAdjust="spacingAndGlyphs" transform="rotate(-45 405.4 284.6)">B-ALL Pt #3</text>
<polyline points="398.7,252.42 398.7,230 408.9,230 408.9,233.8" fill="none" stroke="#2a2a2a" stroke-width="0.8" stroke-linejoin="round" stroke-linejoin="miter"/>
<polyline points="403.8,266.16 403.8,235.8 408.9,235.8 408.9,237.58" fill="none" stroke="#2a2a2a" stroke-width="0.8" stroke-linejoin="round" stroke-linejoin="miter"/>
<circle cx="402.55" cy="227.8" r="0.85" fill="#222"/>
<circle cx="405.05" cy="227.8" r="0.85" fill="#222"/>
<circle cx="403.85" cy="233.6" r="0.85" fill="#222"/>
<circle cx="406.35" cy="233.6" r="0.85" fill="#222"/>
<circle cx="408.85" cy="233.6" r="0.85" fill="#222"/>
<line x1="417.5" y1="269.51" x2="417.5" y2="272.31" stroke="#7a9cc4" stroke-width="0.9"/>
<line x1="416.65" y1="269.51" x2="418.35" y2="269.51" stroke="#7a9cc4" stroke-width="0.6"/>
<rect x="415.85" y="271.31" width="3.4" height="3.09" fill="#19497f" rx="0.7"/>
<line x1="422.6" y1="270.02" x2="422.6" y2="272.82" stroke="#98d492" stroke-width="0.9"/>
<line x1="421.75" y1="270.02" x2="423.45" y2="270.02" stroke="#98d492" stroke-width="0.6"/>
<rect x="420.95" y="271.82" width="3.4" height="2.58" fill="#40a638" rx="0.7"/>
<line x1="427.7" y1="266.76" x2="427.7" y2="269.56" stroke="#ee8494" stroke-width="0.9"/>
<line x1="426.85" y1="266.76" x2="428.55" y2="266.76" stroke="#ee8494" stroke-width="0.6"/>
<rect x="426.05" y="268.56" width="3.4" height="5.84" fill="#c20a2c" rx="0.7"/>
<line x1="422.65" y1="274.4" x2="422.65" y2="276.4" stroke="#111" stroke-width="0.8"/>
<text x="424.25" y="284.6" font-size="6.6" text-anchor="end" fill="#333" stroke="#333" stroke-width="0.12" textLength="34" lengthAdjust="spacingAndGlyphs" transform="rotate(-45 424.25 284.6)">B-ALL Pt #4</text>
<polyline points="417.55,267.71 417.55,256.5 427.75,256.5 427.75,260.3" fill="none" stroke="#2a2a2a" stroke-width="0.8" stroke-linejoin="round" stroke-linejoin="miter"/>
<polyline points="422.65,268.22 422.65,261.7 427.75,261.7 427.75,265.3" fill="none" stroke="#2a2a2a" stroke-width="0.8" stroke-linejoin="round" stroke-linejoin="miter"/>
<circle cx="422.65" cy="254.3" r="0.85" fill="#222"/>
<circle cx="425.2" cy="259.5" r="0.85" fill="#222"/>
<line x1="436.35" y1="237.67" x2="436.35" y2="241.39" stroke="#7a9cc4" stroke-width="0.9"/>
<line x1="435.5" y1="237.67" x2="437.2" y2="237.67" stroke="#7a9cc4" stroke-width="0.6"/>
<rect x="434.7" y="240.39" width="3.4" height="34.01" fill="#19497f" rx="0.7"/>
<line x1="441.45" y1="268.65" x2="441.45" y2="271.45" stroke="#98d492" stroke-width="0.9"/>
<line x1="440.6" y1="268.65" x2="442.3" y2="268.65" stroke="#98d492" stroke-width="0.6"/>
<rect x="439.8" y="270.45" width="3.4" height="3.95" fill="#40a638" rx="0.7"/>
<line x1="446.55" y1="230.24" x2="446.55" y2="234.52" stroke="#ee8494" stroke-width="0.9"/>
<line x1="445.7" y1="230.24" x2="447.4" y2="230.24" stroke="#ee8494" stroke-width="0.6"/>
<rect x="444.9" y="233.52" width="3.4" height="40.88" fill="#c20a2c" rx="0.7"/>
<line x1="441.5" y1="274.4" x2="441.5" y2="276.4" stroke="#111" stroke-width="0.8"/>
<text x="443.1" y="284.6" font-size="6.6" text-anchor="end" fill="#333" stroke="#333" stroke-width="0.12" textLength="34" lengthAdjust="spacingAndGlyphs" transform="rotate(-45 443.1 284.6)">B-ALL Pt #5</text>
<polyline points="436.4,235.87 436.4,220.4 446.6,220.4 446.6,224.2" fill="none" stroke="#2a2a2a" stroke-width="0.8" stroke-linejoin="round" stroke-linejoin="miter"/>
<polyline points="441.5,266.85 441.5,226.5 446.6,226.5 446.6,229.04" fill="none" stroke="#2a2a2a" stroke-width="0.8" stroke-linejoin="round" stroke-linejoin="miter"/>
<circle cx="441.5" cy="218.2" r="0.85" fill="#222"/>
<circle cx="442.8" cy="224.3" r="0.85" fill="#222"/>
<circle cx="445.3" cy="224.3" r="0.85" fill="#222"/>
<text x="0.8" y="333.5" font-size="11.3" font-weight="bold" fill="#111" stroke="#111" stroke-width="0.45">D</text>
<text x="37.6" y="333.5" font-size="6.4" text-anchor="middle" fill="#333" stroke="#333" stroke-width="0.12" textLength="13.2" lengthAdjust="spacingAndGlyphs">PDX</text>
<text x="37.6" y="341.9" font-size="6.4" text-anchor="middle" fill="#333" stroke="#333" stroke-width="0.12" textLength="33" lengthAdjust="spacingAndGlyphs">B-ALL Pt #6</text>
<line x1="37.6" y1="343" x2="37.6" y2="348.5" stroke="#111" stroke-width="0.9"/>
<polygon points="36.2,348.2 39,348.2 37.6,351" fill="#111"/>
<polygon points="21.3,353.6 389.2,353.6 389.2,348.5 400.0,359.2 389.2,369.8 389.2,364.7 21.3,364.7" fill="#f39200"/>
<text x="24.8" y="361.5" font-size="6.5" text-anchor="start" fill="#3b2306" stroke="#3b2306" stroke-width="0.12" textLength="22.5" lengthAdjust="spacingAndGlyphs" class="nf">Day -20</text>
<text x="74.5" y="361.6" font-size="6.5" text-anchor="middle" fill="#3b2306" stroke="#3b2306" stroke-width="0.12" textLength="3.5" lengthAdjust="spacingAndGlyphs" class="nf">1</text>
<text x="83" y="361.6" font-size="6.5" text-anchor="middle" fill="#3b2306" stroke="#3b2306" stroke-width="0.12" textLength="3.5" lengthAdjust="spacingAndGlyphs" class="nf">2</text>
<text x="113" y="361.6" font-size="6.5" text-anchor="middle" fill="#3b2306" stroke="#3b2306" stroke-width="0.12" textLength="3.5" lengthAdjust="spacingAndGlyphs" class="nf">6</text>
<text x="120.6" y="361.6" font-size="6.5" text-anchor="middle" fill="#3b2306" stroke="#3b2306" stroke-width="0.12" textLength="3.5" lengthAdjust="spacingAndGlyphs" class="nf">7</text>
<text x="150.2" y="361.6" font-size="6.5" text-anchor="middle" fill="#3b2306" stroke="#3b2306" stroke-width="0.12" textLength="7" lengthAdjust="spacingAndGlyphs" class="nf">11</text>
<text x="166.4" y="361.6" font-size="6.5" text-anchor="middle" fill="#3b2306" stroke="#3b2306" stroke-width="0.12" textLength="7" lengthAdjust="spacingAndGlyphs" class="nf">13</text>
<text x="203.7" y="361.6" font-size="6.5" text-anchor="middle" fill="#3b2306" stroke="#3b2306" stroke-width="0.12" textLength="7" lengthAdjust="spacingAndGlyphs" class="nf">19</text>
<text x="231.2" y="361.6" font-size="6.5" text-anchor="middle" fill="#3b2306" stroke="#3b2306" stroke-width="0.12" textLength="7" lengthAdjust="spacingAndGlyphs" class="nf">24</text>
<text x="258" y="361.6" font-size="6.5" text-anchor="middle" fill="#3b2306" stroke="#3b2306" stroke-width="0.12" textLength="7" lengthAdjust="spacingAndGlyphs" class="nf">30</text>
<text x="283.1" y="361.6" font-size="6.5" text-anchor="middle" fill="#3b2306" stroke="#3b2306" stroke-width="0.12" textLength="7" lengthAdjust="spacingAndGlyphs" class="nf">36</text>
<text x="306.1" y="361.6" font-size="6.5" text-anchor="middle" fill="#3b2306" stroke="#3b2306" stroke-width="0.12" textLength="7" lengthAdjust="spacingAndGlyphs" class="nf">42</text>
<text x="325.5" y="361.6" font-size="6.5" text-anchor="middle" fill="#3b2306" stroke="#3b2306" stroke-width="0.12" textLength="7" lengthAdjust="spacingAndGlyphs" class="nf">46</text>
<text x="345.2" y="361.6" font-size="6.5" text-anchor="middle" fill="#3b2306" stroke="#3b2306" stroke-width="0.12" textLength="7" lengthAdjust="spacingAndGlyphs" class="nf">55</text>
<text x="363.3" y="361.6" font-size="6.5" text-anchor="middle" fill="#3b2306" stroke="#3b2306" stroke-width="0.12" textLength="7" lengthAdjust="spacingAndGlyphs" class="nf">62</text>
<line x1="74.5" y1="369.5" x2="74.5" y2="377.5" stroke="#b0506e" stroke-width="0.9"/>
<polygon points="73,370.3 76,370.3 74.5,367.2" fill="#8e1b3c"/>
<circle cx="74.5" cy="378.8" r="1.3" fill="#cf2d3a"/>
<line x1="113" y1="369.5" x2="113" y2="377.5" stroke="#b0506e" stroke-width="0.9"/>
<polygon points="111.5,370.3 114.5,370.3 113,367.2" fill="#8e1b3c"/>
<circle cx="113" cy="378.8" r="1.3" fill="#cf2d3a"/>
<line x1="150.2" y1="369.5" x2="150.2" y2="377.5" stroke="#b0506e" stroke-width="0.9"/>
<polygon points="148.7,370.3 151.7,370.3 150.2,367.2" fill="#8e1b3c"/>
<circle cx="150.2" cy="378.8" r="1.3" fill="#cf2d3a"/>
<line x1="197.5" y1="369.5" x2="197.5" y2="377.5" stroke="#b0506e" stroke-width="0.9"/>
<polygon points="196,370.3 199,370.3 197.5,367.2" fill="#8e1b3c"/>
<circle cx="197.5" cy="378.8" r="1.3" fill="#cf2d3a"/>
<line x1="231.2" y1="369.5" x2="231.2" y2="377.5" stroke="#b0506e" stroke-width="0.9"/>
<polygon points="229.7,370.3 232.7,370.3 231.2,367.2" fill="#8e1b3c"/>
<circle cx="231.2" cy="378.8" r="1.3" fill="#cf2d3a"/>
<line x1="258" y1="369.5" x2="258" y2="377.5" stroke="#b0506e" stroke-width="0.9"/>
<polygon points="256.5,370.3 259.5,370.3 258,367.2" fill="#8e1b3c"/>
<circle cx="258" cy="378.8" r="1.3" fill="#cf2d3a"/>
<line x1="283.1" y1="369.5" x2="283.1" y2="377.5" stroke="#b0506e" stroke-width="0.9"/>
<polygon points="281.6,370.3 284.6,370.3 283.1,367.2" fill="#8e1b3c"/>
<circle cx="283.1" cy="378.8" r="1.3" fill="#cf2d3a"/>
<line x1="306.1" y1="369.5" x2="306.1" y2="377.5" stroke="#b0506e" stroke-width="0.9"/>
<polygon points="304.6,370.3 307.6,370.3 306.1,367.2" fill="#8e1b3c"/>
<circle cx="306.1" cy="378.8" r="1.3" fill="#cf2d3a"/>
<line x1="325.5" y1="369.5" x2="325.5" y2="377.5" stroke="#b0506e" stroke-width="0.9"/>
<polygon points="324,370.3 327,370.3 325.5,367.2" fill="#8e1b3c"/>
<circle cx="325.5" cy="378.8" r="1.3" fill="#cf2d3a"/>
<line x1="345.2" y1="369.5" x2="345.2" y2="377.5" stroke="#b0506e" stroke-width="0.9"/>
<polygon points="343.7,370.3 346.7,370.3 345.2,367.2" fill="#8e1b3c"/>
<circle cx="345.2" cy="378.8" r="1.3" fill="#cf2d3a"/>
<line x1="363.3" y1="369.5" x2="363.3" y2="377.5" stroke="#b0506e" stroke-width="0.9"/>
<polygon points="361.8,370.3 364.8,370.3 363.3,367.2" fill="#8e1b3c"/>
<circle cx="363.3" cy="378.8" r="1.3" fill="#cf2d3a"/>
<line x1="83.3" y1="342.6" x2="83.3" y2="348.3" stroke="#1f3560" stroke-width="0.9"/>
<polygon points="81.9,348 84.7,348 83.3,350.8" fill="#1f3560"/>
<line x1="120.2" y1="342.6" x2="120.2" y2="348.3" stroke="#1f3560" stroke-width="0.9"/>
<polygon points="118.8,348 121.6,348 120.2,350.8" fill="#1f3560"/>
<text x="83.3" y="339.5" font-size="6.4" text-anchor="middle" fill="#333" stroke="#333" stroke-width="0.12" textLength="17.7" lengthAdjust="spacingAndGlyphs">T cells</text>
<text x="120.6" y="339.5" font-size="6.4" text-anchor="middle" fill="#333" stroke="#333" stroke-width="0.12" textLength="17.7" lengthAdjust="spacingAndGlyphs">T cells</text>
<line x1="165.8" y1="342.3" x2="165.8" y2="347.9" stroke="#2e8b34" stroke-width="0.8"/>
<polygon points="164.45,347.6 167.15,347.6 165.8,350.4" fill="#2e8b34"/>
<line x1="171.3" y1="342.3" x2="171.3" y2="347.9" stroke="#2e8b34" stroke-width="0.8"/>
<polygon points="169.95,347.6 172.65,347.6 171.3,350.4" fill="#2e8b34"/>
<line x1="177.7" y1="342.3" x2="177.7" y2="347.9" stroke="#2e8b34" stroke-width="0.8"/>
<polygon points="176.35,347.6 179.05,347.6 177.7,350.4" fill="#2e8b34"/>
<line x1="184.5" y1="342.3" x2="184.5" y2="347.9" stroke="#2e8b34" stroke-width="0.8"/>
<polygon points="183.15,347.6 185.85,347.6 184.5,350.4" fill="#2e8b34"/>
<line x1="191.2" y1="342.3" x2="191.2" y2="347.9" stroke="#2e8b34" stroke-width="0.8"/>
<polygon points="189.85,347.6 192.55,347.6 191.2,350.4" fill="#2e8b34"/>
<line x1="197.5" y1="342.3" x2="197.5" y2="347.9" stroke="#2e8b34" stroke-width="0.8"/>
<polygon points="196.15,347.6 198.85,347.6 197.5,350.4" fill="#2e8b34"/>
<line x1="204.2" y1="342.3" x2="204.2" y2="347.9" stroke="#2e8b34" stroke-width="0.8"/>
<polygon points="202.85,347.6 205.55,347.6 204.2,350.4" fill="#2e8b34"/>
<text x="185.8" y="339.2" font-size="6.5" text-anchor="middle" fill="#333" stroke="#333" stroke-width="0.12" textLength="14" lengthAdjust="spacingAndGlyphs">Drug</text>
<text x="362.7" y="343" font-size="6.4" text-anchor="middle" fill="#333" stroke="#333" stroke-width="0.12" textLength="40" lengthAdjust="spacingAndGlyphs">Mice followed</text>
<text x="362.4" y="351.3" font-size="6.4" text-anchor="middle" fill="#333" stroke="#333" stroke-width="0.12" textLength="45" lengthAdjust="spacingAndGlyphs">until end points</text>
<path d="M13.8,375.2 C18,376.2 22.5,374.2 27.6,374.4 C28.4,371.2 31.2,368.6 35.2,367.6 C39,366.6 42.5,366.6 45.6,368.4 C48.2,370 50.4,373 52.2,375.4 C50,376.6 46.5,377 42.5,377.1 L31.5,377.3 C29.8,376.8 28.4,375.6 27.6,374.4" fill="none" stroke="#666" stroke-width="0.55"/>
<circle cx="43.6" cy="368.4" r="1.9" fill="#fff" stroke="#777" stroke-width="0.5"/>
<circle cx="46.6" cy="371.6" r="0.55" fill="#333"/>
<circle cx="51.8" cy="375.3" r="0.5" fill="#555"/>
<line x1="33" y1="377.2" x2="32.5" y2="378.2" stroke="#888" stroke-width="0.5"/>
<line x1="44" y1="377" x2="44.6" y2="378.1" stroke="#888" stroke-width="0.5"/>
<line x1="404.1" y1="344.9" x2="413.8" y2="344.9" stroke="#f39a1e" stroke-width="1.1"/>
<polygon points="407.08,344.9 409,342.98 410.92,344.9 409,346.82" fill="#f39a1e"/>
<text x="416.6" y="347.1" font-size="6.4" text-anchor="start" fill="#333" stroke="#333" stroke-width="0.12" textLength="22" lengthAdjust="spacingAndGlyphs">Control</text>
<line x1="404.1" y1="354" x2="413.8" y2="354" stroke="#19497f" stroke-width="1.1"/>
<rect x="407.48" y="352.48" width="3.04" height="3.04" fill="#19497f"/>
<text x="416.6" y="356.2" font-size="6.4" text-anchor="start" fill="#333" stroke="#333" stroke-width="0.12" textLength="47" lengthAdjust="spacingAndGlyphs">CD19/CD3 HCT</text>
<line x1="404.1" y1="362.6" x2="413.8" y2="362.6" stroke="#40a638" stroke-width="1.1"/>
<polygon points="407.4,364.04 410.6,364.04 409,361.16" fill="#40a638"/>
<text x="416.6" y="364.8" font-size="6.4" text-anchor="start" fill="#333" stroke="#333" stroke-width="0.12" textLength="45" lengthAdjust="spacingAndGlyphs">CD22/CD3 LCT</text>
<line x1="404.1" y1="372.1" x2="413.8" y2="372.1" stroke="#5b2c6f" stroke-width="1.1"/>
<polygon points="407.4,370.66 410.6,370.66 409,373.54" fill="#5b2c6f"/>
<text x="416.6" y="374.3" font-size="6.4" text-anchor="start" fill="#333" stroke="#333" stroke-width="0.12" textLength="100.5" lengthAdjust="spacingAndGlyphs">CD19/CD3 HCT + CD22/CD3 LCT</text>
<line x1="404.1" y1="381" x2="413.8" y2="381" stroke="#c20a2c" stroke-width="1.1"/>
<circle cx="409" cy="381" r="1.6" fill="#c20a2c"/>
<text x="416.6" y="383.2" font-size="6.4" text-anchor="start" fill="#333" stroke="#333" stroke-width="0.12" textLength="66.2" lengthAdjust="spacingAndGlyphs">CD19/CD22/CD3 (CC)</text>
<line x1="38.7" y1="394.2" x2="47.3" y2="394.2" stroke="#f39a1e" stroke-width="1.1"/>
<polygon points="41.08,394.2 43,392.28 44.92,394.2 43,396.12" fill="#f39a1e"/>
<text x="50.8" y="396.5" font-size="6.6" text-anchor="start" fill="#333" stroke="#333" stroke-width="0.12" textLength="21.9" lengthAdjust="spacingAndGlyphs">Control</text>
<line x1="38.7" y1="403.7" x2="47.3" y2="403.7" stroke="#19497f" stroke-width="1.1"/>
<rect x="41.48" y="402.18" width="3.04" height="3.04" fill="#19497f"/>
<text x="50.8" y="406" font-size="6.6" text-anchor="start" fill="#333" stroke="#333" stroke-width="0.12" textLength="46.9" lengthAdjust="spacingAndGlyphs">CD19/CD3 HCT</text>
<line x1="38.7" y1="412.5" x2="47.3" y2="412.5" stroke="#40a638" stroke-width="1.1"/>
<polygon points="41.4,413.94 44.6,413.94 43,411.06" fill="#40a638"/>
<text x="50.8" y="414.8" font-size="6.6" text-anchor="start" fill="#333" stroke="#333" stroke-width="0.12" textLength="45.6" lengthAdjust="spacingAndGlyphs">CD22/CD3 LCT</text>
<line x1="38.7" y1="421.2" x2="47.3" y2="421.2" stroke="#5b2c6f" stroke-width="1.1"/>
<polygon points="41.4,419.76 44.6,419.76 43,422.64" fill="#5b2c6f"/>
<text x="50.8" y="423.5" font-size="6.6" text-anchor="start" fill="#333" stroke="#333" stroke-width="0.12" textLength="53.3" lengthAdjust="spacingAndGlyphs">CD19/CD3 HCT +</text>
<text x="50.8" y="431.1" font-size="6.6" text-anchor="start" fill="#333" stroke="#333" stroke-width="0.12" textLength="45.6" lengthAdjust="spacingAndGlyphs">CD22/CD3 LCT</text>
<line x1="38.7" y1="436.9" x2="47.3" y2="436.9" stroke="#c20a2c" stroke-width="1.1"/>
<circle cx="43" cy="436.9" r="1.6" fill="#c20a2c"/>
<text x="50.8" y="439.2" font-size="6.6" text-anchor="start" fill="#333" stroke="#333" stroke-width="0.12" textLength="66.2" lengthAdjust="spacingAndGlyphs">CD19/CD22/CD3 (CC)</text>
<text x="0.3" y="430" font-size="11.4" font-weight="bold" fill="#111" stroke="#111" stroke-width="0.45">E</text>
<text x="128.6" y="430" font-size="11.4" font-weight="bold" fill="#111" stroke="#111" stroke-width="0.45">F</text>
<text x="0.3" y="540.4" font-size="11.3" font-weight="bold" fill="#111" stroke="#111" stroke-width="0.45">G</text>
<text x="128.4" y="540.1" font-size="11.4" font-weight="bold" fill="#111" stroke="#111" stroke-width="0.45">H</text>
<text x="261.7" y="429.8" font-size="11" font-weight="bold" fill="#111" stroke="#111" stroke-width="0.45">I</text>
<line x1="32.8" y1="437" x2="32.8" y2="502.7" stroke="#111" stroke-width="1.35"/>
<line x1="32.3" y1="502.2" x2="117" y2="502.2" stroke="#111" stroke-width="1.35"/>
<line x1="31.4" y1="502.2" x2="32.8" y2="502.2" stroke="#111" stroke-width="0.6"/>
<line x1="31.4" y1="497" x2="32.8" y2="497" stroke="#111" stroke-width="0.6"/>
<line x1="31.4" y1="491.8" x2="32.8" y2="491.8" stroke="#111" stroke-width="0.6"/>
<line x1="31.4" y1="486.6" x2="32.8" y2="486.6" stroke="#111" stroke-width="0.6"/>
<line x1="31.4" y1="481.4" x2="32.8" y2="481.4" stroke="#111" stroke-width="0.6"/>
<line x1="31.4" y1="476.2" x2="32.8" y2="476.2" stroke="#111" stroke-width="0.6"/>
<line x1="31.4" y1="471" x2="32.8" y2="471" stroke="#111" stroke-width="0.6"/>
<line x1="31.4" y1="465.8" x2="32.8" y2="465.8" stroke="#111" stroke-width="0.6"/>
<line x1="31.4" y1="460.6" x2="32.8" y2="460.6" stroke="#111" stroke-width="0.6"/>
<line x1="31.4" y1="455.4" x2="32.8" y2="455.4" stroke="#111" stroke-width="0.6"/>
<line x1="31.4" y1="450.2" x2="32.8" y2="450.2" stroke="#111" stroke-width="0.6"/>
<line x1="31.4" y1="445" x2="32.8" y2="445" stroke="#111" stroke-width="0.6"/>
<line x1="31.4" y1="439.8" x2="32.8" y2="439.8" stroke="#111" stroke-width="0.6"/>
<line x1="30.2" y1="502.2" x2="32.8" y2="502.2" stroke="#111" stroke-width="0.9"/>
<text x="27.1" y="504.5" font-size="6.6" text-anchor="end" fill="#333" stroke="#333" stroke-width="0.12" textLength="3.65" lengthAdjust="spacingAndGlyphs">0</text>
<line x1="30.2" y1="491.8" x2="32.8" y2="491.8" stroke="#111" stroke-width="0.9"/>
<text x="27.1" y="494.1" font-size="6.6" text-anchor="end" fill="#333" stroke="#333" stroke-width="0.12" textLength="7.3" lengthAdjust="spacingAndGlyphs">12</text>
<line x1="30.2" y1="481.4" x2="32.8" y2="481.4" stroke="#111" stroke-width="0.9"/>
<text x="27.1" y="483.7" font-size="6.6" text-anchor="end" fill="#333" stroke="#333" stroke-width="0.12" textLength="7.3" lengthAdjust="spacingAndGlyphs">24</text>
<line x1="30.2" y1="471" x2="32.8" y2="471" stroke="#111" stroke-width="0.9"/>
<text x="27.1" y="473.3" font-size="6.6" text-anchor="end" fill="#333" stroke="#333" stroke-width="0.12" textLength="7.3" lengthAdjust="spacingAndGlyphs">36</text>
<line x1="30.2" y1="460.6" x2="32.8" y2="460.6" stroke="#111" stroke-width="0.9"/>
<text x="27.1" y="462.9" font-size="6.6" text-anchor="end" fill="#333" stroke="#333" stroke-width="0.12" textLength="7.3" lengthAdjust="spacingAndGlyphs">48</text>
<line x1="30.2" y1="450.2" x2="32.8" y2="450.2" stroke="#111" stroke-width="0.9"/>
<text x="27.1" y="452.5" font-size="6.6" text-anchor="end" fill="#333" stroke="#333" stroke-width="0.12" textLength="7.3" lengthAdjust="spacingAndGlyphs">60</text>
<line x1="30.2" y1="439.8" x2="32.8" y2="439.8" stroke="#111" stroke-width="0.9"/>
<text x="27.1" y="442.1" font-size="6.6" text-anchor="end" fill="#333" stroke="#333" stroke-width="0.12" textLength="7.3" lengthAdjust="spacingAndGlyphs">72</text>
<line x1="32.8" y1="502.2" x2="32.8" y2="503.5" stroke="#111" stroke-width="0.6"/>
<line x1="40.9" y1="502.2" x2="40.9" y2="503.5" stroke="#111" stroke-width="0.6"/>
<line x1="49" y1="502.2" x2="49" y2="503.5" stroke="#111" stroke-width="0.6"/>
<line x1="57.1" y1="502.2" x2="57.1" y2="503.5" stroke="#111" stroke-width="0.6"/>
<line x1="65.2" y1="502.2" x2="65.2" y2="503.5" stroke="#111" stroke-width="0.6"/>
<line x1="73.3" y1="502.2" x2="73.3" y2="503.5" stroke="#111" stroke-width="0.6"/>
<line x1="81.4" y1="502.2" x2="81.4" y2="503.5" stroke="#111" stroke-width="0.6"/>
<line x1="89.5" y1="502.2" x2="89.5" y2="503.5" stroke="#111" stroke-width="0.6"/>
<line x1="97.6" y1="502.2" x2="97.6" y2="503.5" stroke="#111" stroke-width="0.6"/>
<line x1="105.7" y1="502.2" x2="105.7" y2="503.5" stroke="#111" stroke-width="0.6"/>
<line x1="113.8" y1="502.2" x2="113.8" y2="503.5" stroke="#111" stroke-width="0.6"/>
<line x1="32.8" y1="502.2" x2="32.8" y2="504.6" stroke="#111" stroke-width="0.9"/>
<text x="32.8" y="514.3" font-size="6.6" text-anchor="middle" fill="#333" stroke="#333" stroke-width="0.12" textLength="3.65" lengthAdjust="spacingAndGlyphs">0</text>
<line x1="49" y1="502.2" x2="49" y2="504.6" stroke="#111" stroke-width="0.9"/>
<text x="49" y="514.3" font-size="6.6" text-anchor="middle" fill="#333" stroke="#333" stroke-width="0.12" textLength="7.3" lengthAdjust="spacingAndGlyphs">15</text>
<line x1="65.2" y1="502.2" x2="65.2" y2="504.6" stroke="#111" stroke-width="0.9"/>
<text x="65.2" y="514.3" font-size="6.6" text-anchor="middle" fill="#333" stroke="#333" stroke-width="0.12" textLength="7.3" lengthAdjust="spacingAndGlyphs">30</text>
<line x1="81.4" y1="502.2" x2="81.4" y2="504.6" stroke="#111" stroke-width="0.9"/>
<text x="81.4" y="514.3" font-size="6.6" text-anchor="middle" fill="#333" stroke="#333" stroke-width="0.12" textLength="7.3" lengthAdjust="spacingAndGlyphs">45</text>
<line x1="97.6" y1="502.2" x2="97.6" y2="504.6" stroke="#111" stroke-width="0.9"/>
<text x="97.6" y="514.3" font-size="6.6" text-anchor="middle" fill="#333" stroke="#333" stroke-width="0.12" textLength="7.3" lengthAdjust="spacingAndGlyphs">60</text>
<line x1="113.8" y1="502.2" x2="113.8" y2="504.6" stroke="#111" stroke-width="0.9"/>
<text x="113.8" y="514.3" font-size="6.6" text-anchor="middle" fill="#333" stroke="#333" stroke-width="0.12" textLength="7.3" lengthAdjust="spacingAndGlyphs">75</text>
<text x="74" y="524.7" font-size="6.3" text-anchor="middle" fill="#333" stroke="#333" stroke-width="0.12" textLength="13" lengthAdjust="spacingAndGlyphs">Days</text>
<text x="13.7" y="470.5" font-size="6.6" text-anchor="middle" fill="#333" stroke="#333" stroke-width="0.12" textLength="48.4" lengthAdjust="spacingAndGlyphs" transform="rotate(-90 13.7 470.5)">Leukemic cells (%)</text>
<polyline points="32.8,500.12 39.28,482.44 44.68,462.33 52.24,456.26 58.72,451.5 65.2,459.99 71.68,454.96" fill="none" stroke="#f39a1e" stroke-width="1.15" stroke-linejoin="round"/>
<line x1="52.24" y1="453.23" x2="52.24" y2="459.3" stroke="#f39a1e" stroke-width="0.75"/>
<line x1="50.94" y1="453.23" x2="53.54" y2="453.23" stroke="#f39a1e" stroke-width="0.75"/>
<line x1="50.94" y1="459.3" x2="53.54" y2="459.3" stroke="#f39a1e" stroke-width="0.75"/>
<line x1="58.72" y1="449.59" x2="58.72" y2="453.4" stroke="#f39a1e" stroke-width="0.75"/>
<line x1="57.42" y1="449.59" x2="60.02" y2="449.59" stroke="#f39a1e" stroke-width="0.75"/>
<line x1="57.42" y1="453.4" x2="60.02" y2="453.4" stroke="#f39a1e" stroke-width="0.75"/>
<line x1="65.2" y1="457.82" x2="65.2" y2="462.16" stroke="#f39a1e" stroke-width="0.75"/>
<line x1="63.9" y1="457.82" x2="66.5" y2="457.82" stroke="#f39a1e" stroke-width="0.75"/>
<line x1="63.9" y1="462.16" x2="66.5" y2="462.16" stroke="#f39a1e" stroke-width="0.75"/>
<line x1="71.68" y1="453.23" x2="71.68" y2="456.7" stroke="#f39a1e" stroke-width="0.75"/>
<line x1="70.38" y1="453.23" x2="72.98" y2="453.23" stroke="#f39a1e" stroke-width="0.75"/>
<line x1="70.38" y1="456.7" x2="72.98" y2="456.7" stroke="#f39a1e" stroke-width="0.75"/>
<polygon points="31,500.12 32.8,498.32 34.6,500.12 32.8,501.92" fill="#f39a1e"/>
<polygon points="37.48,482.44 39.28,480.64 41.08,482.44 39.28,484.24" fill="#f39a1e"/>
<polygon points="42.88,462.33 44.68,460.53 46.48,462.33 44.68,464.13" fill="#f39a1e"/>
<polygon points="50.44,456.26 52.24,454.46 54.04,456.26 52.24,458.06" fill="#f39a1e"/>
<polygon points="56.92,451.5 58.72,449.7 60.52,451.5 58.72,453.3" fill="#f39a1e"/>
<polygon points="63.4,459.99 65.2,458.19 67,459.99 65.2,461.79" fill="#f39a1e"/>
<polygon points="69.88,454.96 71.68,453.16 73.48,454.96 71.68,456.76" fill="#f39a1e"/>
<polyline points="32.8,500.12 39.28,482.44 44.68,462.33 52.24,474.99 58.72,482.27 65.2,482.27 71.68,472.91" fill="none" stroke="#40a638" stroke-width="1.15" stroke-linejoin="round"/>
<line x1="52.24" y1="472.39" x2="52.24" y2="477.59" stroke="#40a638" stroke-width="0.75"/>
<line x1="50.94" y1="472.39" x2="53.54" y2="472.39" stroke="#40a638" stroke-width="0.75"/>
<line x1="50.94" y1="477.59" x2="53.54" y2="477.59" stroke="#40a638" stroke-width="0.75"/>
<line x1="58.72" y1="477.5" x2="58.72" y2="487.03" stroke="#40a638" stroke-width="0.75"/>
<line x1="57.42" y1="477.5" x2="60.02" y2="477.5" stroke="#40a638" stroke-width="0.75"/>
<line x1="57.42" y1="487.03" x2="60.02" y2="487.03" stroke="#40a638" stroke-width="0.75"/>
<line x1="65.2" y1="477.07" x2="65.2" y2="487.47" stroke="#40a638" stroke-width="0.75"/>
<line x1="63.9" y1="477.07" x2="66.5" y2="477.07" stroke="#40a638" stroke-width="0.75"/>
<line x1="63.9" y1="487.47" x2="66.5" y2="487.47" stroke="#40a638" stroke-width="0.75"/>
<line x1="71.68" y1="467.27" x2="71.68" y2="478.54" stroke="#40a638" stroke-width="0.75"/>
<line x1="70.38" y1="467.27" x2="72.98" y2="467.27" stroke="#40a638" stroke-width="0.75"/>
<line x1="70.38" y1="478.54" x2="72.98" y2="478.54" stroke="#40a638" stroke-width="0.75"/>
<polygon points="31.3,501.47 34.3,501.47 32.8,498.77" fill="#40a638"/>
<polygon points="37.78,483.79 40.78,483.79 39.28,481.09" fill="#40a638"/>
<polygon points="43.18,463.68 46.18,463.68 44.68,460.98" fill="#40a638"/>
<polygon points="50.74,476.34 53.74,476.34 52.24,473.64" fill="#40a638"/>
<polygon points="57.22,483.62 60.22,483.62 58.72,480.92" fill="#40a638"/>
<polygon points="63.7,483.62 66.7,483.62 65.2,480.92" fill="#40a638"/>
<polygon points="70.18,474.26 73.18,474.26 71.68,471.56" fill="#40a638"/>
<polyline points="32.8,500.12 39.28,482.44 44.68,460.6 52.24,501.68 58.72,501.68 65.2,501.68 71.68,501.68 78.16,500.47 82.48,498.56 92.2,496.91 99.76,487.9 107.86,479.67" fill="none" stroke="#19497f" stroke-width="1.15" stroke-linejoin="round"/>
<line x1="92.2" y1="494.31" x2="92.2" y2="499.51" stroke="#19497f" stroke-width="0.75"/>
<line x1="90.9" y1="494.31" x2="93.5" y2="494.31" stroke="#19497f" stroke-width="0.75"/>
<line x1="90.9" y1="499.51" x2="93.5" y2="499.51" stroke="#19497f" stroke-width="0.75"/>
<line x1="99.76" y1="484.43" x2="99.76" y2="491.37" stroke="#19497f" stroke-width="0.75"/>
<line x1="98.46" y1="484.43" x2="101.06" y2="484.43" stroke="#19497f" stroke-width="0.75"/>
<line x1="98.46" y1="491.37" x2="101.06" y2="491.37" stroke="#19497f" stroke-width="0.75"/>
<line x1="107.86" y1="465.8" x2="107.86" y2="493.53" stroke="#19497f" stroke-width="0.75"/>
<line x1="106.56" y1="465.8" x2="109.16" y2="465.8" stroke="#19497f" stroke-width="0.75"/>
<line x1="106.56" y1="493.53" x2="109.16" y2="493.53" stroke="#19497f" stroke-width="0.75"/>
<rect x="31.37" y="498.69" width="2.85" height="2.85" fill="#19497f"/>
<rect x="37.86" y="481.01" width="2.85" height="2.85" fill="#19497f"/>
<rect x="43.26" y="459.17" width="2.85" height="2.85" fill="#19497f"/>
<rect x="50.81" y="500.25" width="2.85" height="2.85" fill="#19497f"/>
<rect x="57.3" y="500.25" width="2.85" height="2.85" fill="#19497f"/>
<rect x="63.78" y="500.25" width="2.85" height="2.85" fill="#19497f"/>
<rect x="70.26" y="500.25" width="2.85" height="2.85" fill="#19497f"/>
<rect x="76.73" y="499.04" width="2.85" height="2.85" fill="#19497f"/>
<rect x="81.06" y="497.13" width="2.85" height="2.85" fill="#19497f"/>
<rect x="90.78" y="495.49" width="2.85" height="2.85" fill="#19497f"/>
<rect x="98.34" y="486.47" width="2.85" height="2.85" fill="#19497f"/>
<rect x="106.44" y="478.24" width="2.85" height="2.85" fill="#19497f"/>
<polyline points="32.8,500.12 39.28,482.44 44.68,460.6 52.24,501.68 58.72,501.68 65.2,501.68 71.68,501.68 78.16,499.17 82.48,496.48 92.2,484.87 99.76,476.46 107.86,467.88" fill="none" stroke="#5b2c6f" stroke-width="1.15" stroke-linejoin="round"/>
<line x1="82.48" y1="494.31" x2="82.48" y2="498.65" stroke="#5b2c6f" stroke-width="0.75"/>
<line x1="81.18" y1="494.31" x2="83.78" y2="494.31" stroke="#5b2c6f" stroke-width="0.75"/>
<line x1="81.18" y1="498.65" x2="83.78" y2="498.65" stroke="#5b2c6f" stroke-width="0.75"/>
<line x1="92.2" y1="474.47" x2="92.2" y2="495.27" stroke="#5b2c6f" stroke-width="0.75"/>
<line x1="90.9" y1="474.47" x2="93.5" y2="474.47" stroke="#5b2c6f" stroke-width="0.75"/>
<line x1="90.9" y1="495.27" x2="93.5" y2="495.27" stroke="#5b2c6f" stroke-width="0.75"/>
<line x1="99.76" y1="461.73" x2="99.76" y2="491.19" stroke="#5b2c6f" stroke-width="0.75"/>
<line x1="98.46" y1="461.73" x2="101.06" y2="461.73" stroke="#5b2c6f" stroke-width="0.75"/>
<line x1="98.46" y1="491.19" x2="101.06" y2="491.19" stroke="#5b2c6f" stroke-width="0.75"/>
<line x1="107.86" y1="459.21" x2="107.86" y2="476.55" stroke="#5b2c6f" stroke-width="0.75"/>
<line x1="106.56" y1="459.21" x2="109.16" y2="459.21" stroke="#5b2c6f" stroke-width="0.75"/>
<line x1="106.56" y1="476.55" x2="109.16" y2="476.55" stroke="#5b2c6f" stroke-width="0.75"/>
<polygon points="31.3,498.77 34.3,498.77 32.8,501.47" fill="#5b2c6f"/>
<polygon points="37.78,481.09 40.78,481.09 39.28,483.79" fill="#5b2c6f"/>
<polygon points="43.18,459.25 46.18,459.25 44.68,461.95" fill="#5b2c6f"/>
<polygon points="50.74,500.33 53.74,500.33 52.24,503.03" fill="#5b2c6f"/>
<polygon points="57.22,500.33 60.22,500.33 58.72,503.03" fill="#5b2c6f"/>
<polygon points="63.7,500.33 66.7,500.33 65.2,503.03" fill="#5b2c6f"/>
<polygon points="70.18,500.33 73.18,500.33 71.68,503.03" fill="#5b2c6f"/>
<polygon points="76.66,497.82 79.66,497.82 78.16,500.52" fill="#5b2c6f"/>
<polygon points="80.98,495.13 83.98,495.13 82.48,497.83" fill="#5b2c6f"/>
<polygon points="90.7,483.52 93.7,483.52 92.2,486.22" fill="#5b2c6f"/>
<polygon points="98.26,475.11 101.26,475.11 99.76,477.81" fill="#5b2c6f"/>
<polygon points="106.36,466.53 109.36,466.53 107.86,469.23" fill="#5b2c6f"/>
<polyline points="32.8,500.12 39.28,482.44 44.68,465.37 52.24,501.94 58.72,501.68 65.2,501.94 71.68,501.77 78.16,501.77 82.48,501.94 92.2,501.94 99.76,501.77 107.86,501.77" fill="none" stroke="#951b43" stroke-width="1.15" stroke-linejoin="round"/>
<line x1="39.28" y1="480.71" x2="39.28" y2="484.17" stroke="#b01840" stroke-width="0.75"/>
<line x1="37.98" y1="480.71" x2="40.58" y2="480.71" stroke="#b01840" stroke-width="0.75"/>
<line x1="37.98" y1="484.17" x2="40.58" y2="484.17" stroke="#b01840" stroke-width="0.75"/>
<circle cx="32.8" cy="500.12" r="1.5" fill="#c4163e"/>
<circle cx="39.28" cy="482.44" r="1.5" fill="#c4163e"/>
<circle cx="44.68" cy="465.37" r="1.5" fill="#c4163e"/>
<circle cx="52.24" cy="501.94" r="1.5" fill="#c4163e"/>
<circle cx="58.72" cy="501.68" r="1.5" fill="#c4163e"/>
<circle cx="65.2" cy="501.94" r="1.5" fill="#c4163e"/>
<circle cx="71.68" cy="501.77" r="1.5" fill="#c4163e"/>
<circle cx="78.16" cy="501.77" r="1.5" fill="#c4163e"/>
<circle cx="82.48" cy="501.94" r="1.5" fill="#c4163e"/>
<circle cx="92.2" cy="501.94" r="1.5" fill="#c4163e"/>
<circle cx="99.76" cy="501.77" r="1.5" fill="#c4163e"/>
<circle cx="107.86" cy="501.77" r="1.5" fill="#c4163e"/>
<rect x="43.1" y="459.5" width="3" height="3" fill="#444"/>
<line x1="156.3" y1="440.4" x2="156.3" y2="502.3" stroke="#111" stroke-width="1.35"/>
<line x1="155.8" y1="501.8" x2="250" y2="501.8" stroke="#111" stroke-width="1.35"/>
<line x1="154.9" y1="501.8" x2="156.3" y2="501.8" stroke="#111" stroke-width="0.6"/>
<line x1="154.9" y1="498.56" x2="156.3" y2="498.56" stroke="#111" stroke-width="0.6"/>
<line x1="154.9" y1="495.32" x2="156.3" y2="495.32" stroke="#111" stroke-width="0.6"/>
<line x1="154.9" y1="492.08" x2="156.3" y2="492.08" stroke="#111" stroke-width="0.6"/>
<line x1="154.9" y1="488.84" x2="156.3" y2="488.84" stroke="#111" stroke-width="0.6"/>
<line x1="154.9" y1="485.6" x2="156.3" y2="485.6" stroke="#111" stroke-width="0.6"/>
<line x1="154.9" y1="482.36" x2="156.3" y2="482.36" stroke="#111" stroke-width="0.6"/>
<line x1="154.9" y1="479.12" x2="156.3" y2="479.12" stroke="#111" stroke-width="0.6"/>
<line x1="154.9" y1="475.88" x2="156.3" y2="475.88" stroke="#111" stroke-width="0.6"/>
<line x1="154.9" y1="472.64" x2="156.3" y2="472.64" stroke="#111" stroke-width="0.6"/>
<line x1="154.9" y1="469.4" x2="156.3" y2="469.4" stroke="#111" stroke-width="0.6"/>
<line x1="154.9" y1="466.16" x2="156.3" y2="466.16" stroke="#111" stroke-width="0.6"/>
<line x1="154.9" y1="462.92" x2="156.3" y2="462.92" stroke="#111" stroke-width="0.6"/>
<line x1="154.9" y1="459.68" x2="156.3" y2="459.68" stroke="#111" stroke-width="0.6"/>
<line x1="154.9" y1="456.44" x2="156.3" y2="456.44" stroke="#111" stroke-width="0.6"/>
<line x1="154.9" y1="453.2" x2="156.3" y2="453.2" stroke="#111" stroke-width="0.6"/>
<line x1="154.9" y1="449.96" x2="156.3" y2="449.96" stroke="#111" stroke-width="0.6"/>
<line x1="154.9" y1="446.72" x2="156.3" y2="446.72" stroke="#111" stroke-width="0.6"/>
<line x1="154.9" y1="443.48" x2="156.3" y2="443.48" stroke="#111" stroke-width="0.6"/>
<line x1="153.7" y1="501.8" x2="156.3" y2="501.8" stroke="#111" stroke-width="0.9"/>
<text x="150" y="504.1" font-size="6.6" text-anchor="end" fill="#333" stroke="#333" stroke-width="0.12" textLength="3.3" lengthAdjust="spacingAndGlyphs">0</text>
<line x1="153.7" y1="492.08" x2="156.3" y2="492.08" stroke="#111" stroke-width="0.9"/>
<text x="150" y="494.38" font-size="6.6" text-anchor="end" fill="#333" stroke="#333" stroke-width="0.12" textLength="6.6" lengthAdjust="spacingAndGlyphs">15</text>
<line x1="153.7" y1="482.36" x2="156.3" y2="482.36" stroke="#111" stroke-width="0.9"/>
<text x="150" y="484.66" font-size="6.6" text-anchor="end" fill="#333" stroke="#333" stroke-width="0.12" textLength="6.6" lengthAdjust="spacingAndGlyphs">30</text>
<line x1="153.7" y1="472.64" x2="156.3" y2="472.64" stroke="#111" stroke-width="0.9"/>
<text x="150" y="474.94" font-size="6.6" text-anchor="end" fill="#333" stroke="#333" stroke-width="0.12" textLength="6.6" lengthAdjust="spacingAndGlyphs">45</text>
<line x1="153.7" y1="462.92" x2="156.3" y2="462.92" stroke="#111" stroke-width="0.9"/>
<text x="150" y="465.22" font-size="6.6" text-anchor="end" fill="#333" stroke="#333" stroke-width="0.12" textLength="6.6" lengthAdjust="spacingAndGlyphs">60</text>
<line x1="153.7" y1="453.2" x2="156.3" y2="453.2" stroke="#111" stroke-width="0.9"/>
<text x="150" y="455.5" font-size="6.6" text-anchor="end" fill="#333" stroke="#333" stroke-width="0.12" textLength="6.6" lengthAdjust="spacingAndGlyphs">75</text>
<line x1="153.7" y1="443.48" x2="156.3" y2="443.48" stroke="#111" stroke-width="0.9"/>
<text x="150" y="445.78" font-size="6.6" text-anchor="end" fill="#333" stroke="#333" stroke-width="0.12" textLength="6.6" lengthAdjust="spacingAndGlyphs">90</text>
<line x1="156.6" y1="501.8" x2="156.6" y2="503.1" stroke="#111" stroke-width="0.6"/>
<line x1="165.81" y1="501.8" x2="165.81" y2="503.1" stroke="#111" stroke-width="0.6"/>
<line x1="175.02" y1="501.8" x2="175.02" y2="503.1" stroke="#111" stroke-width="0.6"/>
<line x1="184.23" y1="501.8" x2="184.23" y2="503.1" stroke="#111" stroke-width="0.6"/>
<line x1="193.44" y1="501.8" x2="193.44" y2="503.1" stroke="#111" stroke-width="0.6"/>
<line x1="202.65" y1="501.8" x2="202.65" y2="503.1" stroke="#111" stroke-width="0.6"/>
<line x1="211.86" y1="501.8" x2="211.86" y2="503.1" stroke="#111" stroke-width="0.6"/>
<line x1="221.07" y1="501.8" x2="221.07" y2="503.1" stroke="#111" stroke-width="0.6"/>
<line x1="230.28" y1="501.8" x2="230.28" y2="503.1" stroke="#111" stroke-width="0.6"/>
<line x1="239.49" y1="501.8" x2="239.49" y2="503.1" stroke="#111" stroke-width="0.6"/>
<line x1="248.7" y1="501.8" x2="248.7" y2="503.1" stroke="#111" stroke-width="0.6"/>
<line x1="156.6" y1="501.8" x2="156.6" y2="504.2" stroke="#111" stroke-width="0.9"/>
<text x="156.6" y="513.9" font-size="6.6" text-anchor="middle" fill="#333" stroke="#333" stroke-width="0.12" textLength="3.3" lengthAdjust="spacingAndGlyphs">0</text>
<line x1="175.02" y1="501.8" x2="175.02" y2="504.2" stroke="#111" stroke-width="0.9"/>
<text x="175.02" y="513.9" font-size="6.6" text-anchor="middle" fill="#333" stroke="#333" stroke-width="0.12" textLength="6.6" lengthAdjust="spacingAndGlyphs">15</text>
<line x1="193.44" y1="501.8" x2="193.44" y2="504.2" stroke="#111" stroke-width="0.9"/>
<text x="193.44" y="513.9" font-size="6.6" text-anchor="middle" fill="#333" stroke="#333" stroke-width="0.12" textLength="6.6" lengthAdjust="spacingAndGlyphs">30</text>
<line x1="211.86" y1="501.8" x2="211.86" y2="504.2" stroke="#111" stroke-width="0.9"/>
<text x="211.86" y="513.9" font-size="6.6" text-anchor="middle" fill="#333" stroke="#333" stroke-width="0.12" textLength="6.6" lengthAdjust="spacingAndGlyphs">45</text>
<line x1="230.28" y1="501.8" x2="230.28" y2="504.2" stroke="#111" stroke-width="0.9"/>
<text x="230.28" y="513.9" font-size="6.6" text-anchor="middle" fill="#333" stroke="#333" stroke-width="0.12" textLength="6.6" lengthAdjust="spacingAndGlyphs">60</text>
<line x1="248.7" y1="501.8" x2="248.7" y2="504.2" stroke="#111" stroke-width="0.9"/>
<text x="248.7" y="513.9" font-size="6.6" text-anchor="middle" fill="#333" stroke="#333" stroke-width="0.12" textLength="6.6" lengthAdjust="spacingAndGlyphs">75</text>
<text x="201.8" y="524.7" font-size="6.3" text-anchor="middle" fill="#333" stroke="#333" stroke-width="0.12" textLength="13" lengthAdjust="spacingAndGlyphs">Days</text>
<text x="137" y="472.7" font-size="6.6" text-anchor="middle" fill="#333" stroke="#333" stroke-width="0.12" textLength="46" lengthAdjust="spacingAndGlyphs" transform="rotate(-90 137 472.7)">hCD3⁺ T cells (%)</text>
<polyline points="156.6,501.8 163.97,496.81 170.11,494.93 178.7,491.24 186.07,482.36 193.44,489.75" fill="none" stroke="#f39a1e" stroke-width="1.15" stroke-linejoin="round"/>
<line x1="178.7" y1="488.65" x2="178.7" y2="493.83" stroke="#f39a1e" stroke-width="0.75"/>
<line x1="177.4" y1="488.65" x2="180" y2="488.65" stroke="#f39a1e" stroke-width="0.75"/>
<line x1="177.4" y1="493.83" x2="180" y2="493.83" stroke="#f39a1e" stroke-width="0.75"/>
<line x1="186.07" y1="479.77" x2="186.07" y2="484.95" stroke="#f39a1e" stroke-width="0.75"/>
<line x1="184.77" y1="479.77" x2="187.37" y2="479.77" stroke="#f39a1e" stroke-width="0.75"/>
<line x1="184.77" y1="484.95" x2="187.37" y2="484.95" stroke="#f39a1e" stroke-width="0.75"/>
<line x1="193.44" y1="485.86" x2="193.44" y2="493.64" stroke="#f39a1e" stroke-width="0.75"/>
<line x1="192.14" y1="485.86" x2="194.74" y2="485.86" stroke="#f39a1e" stroke-width="0.75"/>
<line x1="192.14" y1="493.64" x2="194.74" y2="493.64" stroke="#f39a1e" stroke-width="0.75"/>
<polygon points="154.8,501.8 156.6,500 158.4,501.8 156.6,503.6" fill="#f39a1e"/>
<polygon points="162.17,496.81 163.97,495.01 165.77,496.81 163.97,498.61" fill="#f39a1e"/>
<polygon points="168.31,494.93 170.11,493.13 171.91,494.93 170.11,496.73" fill="#f39a1e"/>
<polygon points="176.9,491.24 178.7,489.44 180.5,491.24 178.7,493.04" fill="#f39a1e"/>
<polygon points="184.27,482.36 186.07,480.56 187.87,482.36 186.07,484.16" fill="#f39a1e"/>
<polygon points="191.64,489.75 193.44,487.95 195.24,489.75 193.44,491.55" fill="#f39a1e"/>
<polyline points="156.6,501.8 163.97,496.81 170.11,494.93 178.7,476.33 186.07,463.63 193.44,471.47 200.81,467.72" fill="none" stroke="#40a638" stroke-width="1.15" stroke-linejoin="round"/>
<line x1="178.7" y1="475.04" x2="178.7" y2="477.63" stroke="#40a638" stroke-width="0.75"/>
<line x1="177.4" y1="475.04" x2="180" y2="475.04" stroke="#40a638" stroke-width="0.75"/>
<line x1="177.4" y1="477.63" x2="180" y2="477.63" stroke="#40a638" stroke-width="0.75"/>
<line x1="186.07" y1="459.1" x2="186.07" y2="468.17" stroke="#40a638" stroke-width="0.75"/>
<line x1="184.77" y1="459.1" x2="187.37" y2="459.1" stroke="#40a638" stroke-width="0.75"/>
<line x1="184.77" y1="468.17" x2="187.37" y2="468.17" stroke="#40a638" stroke-width="0.75"/>
<line x1="193.44" y1="468.23" x2="193.44" y2="474.71" stroke="#40a638" stroke-width="0.75"/>
<line x1="192.14" y1="468.23" x2="194.74" y2="468.23" stroke="#40a638" stroke-width="0.75"/>
<line x1="192.14" y1="474.71" x2="194.74" y2="474.71" stroke="#40a638" stroke-width="0.75"/>
<line x1="200.81" y1="464.48" x2="200.81" y2="470.96" stroke="#40a638" stroke-width="0.75"/>
<line x1="199.51" y1="464.48" x2="202.11" y2="464.48" stroke="#40a638" stroke-width="0.75"/>
<line x1="199.51" y1="470.96" x2="202.11" y2="470.96" stroke="#40a638" stroke-width="0.75"/>
<polygon points="155.1,503.15 158.1,503.15 156.6,500.45" fill="#40a638"/>
<polygon points="162.47,498.16 165.47,498.16 163.97,495.46" fill="#40a638"/>
<polygon points="168.61,496.28 171.61,496.28 170.11,493.58" fill="#40a638"/>
<polygon points="177.2,477.68 180.2,477.68 178.7,474.98" fill="#40a638"/>
<polygon points="184.57,464.98 187.57,464.98 186.07,462.28" fill="#40a638"/>
<polygon points="191.94,472.82 194.94,472.82 193.44,470.12" fill="#40a638"/>
<polygon points="199.31,469.07 202.31,469.07 200.81,466.37" fill="#40a638"/>
<polyline points="156.6,501.8 163.97,496.81 170.11,494.93 178.7,449.96 186.07,480.8 193.44,483.2 200.81,481.13 208.18,490.78 213.09,494.02 224.14,493.57 232.74,496.75 240.1,496.75" fill="none" stroke="#19497f" stroke-width="1.15" stroke-linejoin="round"/>
<line x1="186.07" y1="476.92" x2="186.07" y2="484.69" stroke="#19497f" stroke-width="0.75"/>
<line x1="184.77" y1="476.92" x2="187.37" y2="476.92" stroke="#19497f" stroke-width="0.75"/>
<line x1="184.77" y1="484.69" x2="187.37" y2="484.69" stroke="#19497f" stroke-width="0.75"/>
<line x1="193.44" y1="479.31" x2="193.44" y2="487.09" stroke="#19497f" stroke-width="0.75"/>
<line x1="192.14" y1="479.31" x2="194.74" y2="479.31" stroke="#19497f" stroke-width="0.75"/>
<line x1="192.14" y1="487.09" x2="194.74" y2="487.09" stroke="#19497f" stroke-width="0.75"/>
<line x1="200.81" y1="477.89" x2="200.81" y2="484.37" stroke="#19497f" stroke-width="0.75"/>
<line x1="199.51" y1="477.89" x2="202.11" y2="477.89" stroke="#19497f" stroke-width="0.75"/>
<line x1="199.51" y1="484.37" x2="202.11" y2="484.37" stroke="#19497f" stroke-width="0.75"/>
<line x1="208.18" y1="488.19" x2="208.18" y2="493.38" stroke="#19497f" stroke-width="0.75"/>
<line x1="206.88" y1="488.19" x2="209.48" y2="488.19" stroke="#19497f" stroke-width="0.75"/>
<line x1="206.88" y1="493.38" x2="209.48" y2="493.38" stroke="#19497f" stroke-width="0.75"/>
<line x1="213.09" y1="492.08" x2="213.09" y2="495.97" stroke="#19497f" stroke-width="0.75"/>
<line x1="211.79" y1="492.08" x2="214.39" y2="492.08" stroke="#19497f" stroke-width="0.75"/>
<line x1="211.79" y1="495.97" x2="214.39" y2="495.97" stroke="#19497f" stroke-width="0.75"/>
<line x1="224.14" y1="491.63" x2="224.14" y2="495.51" stroke="#19497f" stroke-width="0.75"/>
<line x1="222.84" y1="491.63" x2="225.44" y2="491.63" stroke="#19497f" stroke-width="0.75"/>
<line x1="222.84" y1="495.51" x2="225.44" y2="495.51" stroke="#19497f" stroke-width="0.75"/>
<line x1="232.74" y1="495.45" x2="232.74" y2="498.04" stroke="#19497f" stroke-width="0.75"/>
<line x1="231.44" y1="495.45" x2="234.04" y2="495.45" stroke="#19497f" stroke-width="0.75"/>
<line x1="231.44" y1="498.04" x2="234.04" y2="498.04" stroke="#19497f" stroke-width="0.75"/>
<line x1="240.1" y1="495.45" x2="240.1" y2="498.04" stroke="#19497f" stroke-width="0.75"/>
<line x1="238.8" y1="495.45" x2="241.4" y2="495.45" stroke="#19497f" stroke-width="0.75"/>
<line x1="238.8" y1="498.04" x2="241.4" y2="498.04" stroke="#19497f" stroke-width="0.75"/>
<rect x="155.17" y="500.38" width="2.85" height="2.85" fill="#19497f"/>
<rect x="162.54" y="495.39" width="2.85" height="2.85" fill="#19497f"/>
<rect x="168.68" y="493.51" width="2.85" height="2.85" fill="#19497f"/>
<rect x="177.28" y="448.54" width="2.85" height="2.85" fill="#19497f"/>
<rect x="184.65" y="479.38" width="2.85" height="2.85" fill="#19497f"/>
<rect x="192.01" y="481.78" width="2.85" height="2.85" fill="#19497f"/>
<rect x="199.38" y="479.7" width="2.85" height="2.85" fill="#19497f"/>
<rect x="206.75" y="489.36" width="2.85" height="2.85" fill="#19497f"/>
<rect x="211.66" y="492.6" width="2.85" height="2.85" fill="#19497f"/>
<rect x="222.71" y="492.15" width="2.85" height="2.85" fill="#19497f"/>
<rect x="231.31" y="495.32" width="2.85" height="2.85" fill="#19497f"/>
<rect x="238.68" y="495.32" width="2.85" height="2.85" fill="#19497f"/>
<polyline points="156.6,501.8 163.97,496.81 170.11,494.93 178.7,449.05 186.07,469.4 193.44,475.04 200.81,476.98 208.18,482.1 213.09,486.77 224.14,482.1 232.74,485.92 240.1,492.99" fill="none" stroke="#5b2c6f" stroke-width="1.15" stroke-linejoin="round"/>
<line x1="178.7" y1="446.46" x2="178.7" y2="451.64" stroke="#5b2c6f" stroke-width="0.75"/>
<line x1="177.4" y1="446.46" x2="180" y2="446.46" stroke="#5b2c6f" stroke-width="0.75"/>
<line x1="177.4" y1="451.64" x2="180" y2="451.64" stroke="#5b2c6f" stroke-width="0.75"/>
<line x1="186.07" y1="464.86" x2="186.07" y2="473.94" stroke="#5b2c6f" stroke-width="0.75"/>
<line x1="184.77" y1="464.86" x2="187.37" y2="464.86" stroke="#5b2c6f" stroke-width="0.75"/>
<line x1="184.77" y1="473.94" x2="187.37" y2="473.94" stroke="#5b2c6f" stroke-width="0.75"/>
<line x1="193.44" y1="471.15" x2="193.44" y2="478.93" stroke="#5b2c6f" stroke-width="0.75"/>
<line x1="192.14" y1="471.15" x2="194.74" y2="471.15" stroke="#5b2c6f" stroke-width="0.75"/>
<line x1="192.14" y1="478.93" x2="194.74" y2="478.93" stroke="#5b2c6f" stroke-width="0.75"/>
<line x1="200.81" y1="473.74" x2="200.81" y2="480.22" stroke="#5b2c6f" stroke-width="0.75"/>
<line x1="199.51" y1="473.74" x2="202.11" y2="473.74" stroke="#5b2c6f" stroke-width="0.75"/>
<line x1="199.51" y1="480.22" x2="202.11" y2="480.22" stroke="#5b2c6f" stroke-width="0.75"/>
<line x1="208.18" y1="479.51" x2="208.18" y2="484.69" stroke="#5b2c6f" stroke-width="0.75"/>
<line x1="206.88" y1="479.51" x2="209.48" y2="479.51" stroke="#5b2c6f" stroke-width="0.75"/>
<line x1="206.88" y1="484.69" x2="209.48" y2="484.69" stroke="#5b2c6f" stroke-width="0.75"/>
<line x1="213.09" y1="482.88" x2="213.09" y2="490.65" stroke="#5b2c6f" stroke-width="0.75"/>
<line x1="211.79" y1="482.88" x2="214.39" y2="482.88" stroke="#5b2c6f" stroke-width="0.75"/>
<line x1="211.79" y1="490.65" x2="214.39" y2="490.65" stroke="#5b2c6f" stroke-width="0.75"/>
<line x1="224.14" y1="475.94" x2="224.14" y2="488.26" stroke="#5b2c6f" stroke-width="0.75"/>
<line x1="222.84" y1="475.94" x2="225.44" y2="475.94" stroke="#5b2c6f" stroke-width="0.75"/>
<line x1="222.84" y1="488.26" x2="225.44" y2="488.26" stroke="#5b2c6f" stroke-width="0.75"/>
<line x1="232.74" y1="482.04" x2="232.74" y2="489.81" stroke="#5b2c6f" stroke-width="0.75"/>
<line x1="231.44" y1="482.04" x2="234.04" y2="482.04" stroke="#5b2c6f" stroke-width="0.75"/>
<line x1="231.44" y1="489.81" x2="234.04" y2="489.81" stroke="#5b2c6f" stroke-width="0.75"/>
<line x1="240.1" y1="490.4" x2="240.1" y2="495.58" stroke="#5b2c6f" stroke-width="0.75"/>
<line x1="238.8" y1="490.4" x2="241.4" y2="490.4" stroke="#5b2c6f" stroke-width="0.75"/>
<line x1="238.8" y1="495.58" x2="241.4" y2="495.58" stroke="#5b2c6f" stroke-width="0.75"/>
<polygon points="155.1,500.45 158.1,500.45 156.6,503.15" fill="#5b2c6f"/>
<polygon points="162.47,495.46 165.47,495.46 163.97,498.16" fill="#5b2c6f"/>
<polygon points="168.61,493.58 171.61,493.58 170.11,496.28" fill="#5b2c6f"/>
<polygon points="177.2,447.7 180.2,447.7 178.7,450.4" fill="#5b2c6f"/>
<polygon points="184.57,468.05 187.57,468.05 186.07,470.75" fill="#5b2c6f"/>
<polygon points="191.94,473.69 194.94,473.69 193.44,476.39" fill="#5b2c6f"/>
<polygon points="199.31,475.63 202.31,475.63 200.81,478.33" fill="#5b2c6f"/>
<polygon points="206.68,480.75 209.68,480.75 208.18,483.45" fill="#5b2c6f"/>
<polygon points="211.59,485.42 214.59,485.42 213.09,488.12" fill="#5b2c6f"/>
<polygon points="222.64,480.75 225.64,480.75 224.14,483.45" fill="#5b2c6f"/>
<polygon points="231.24,484.57 234.24,484.57 232.74,487.27" fill="#5b2c6f"/>
<polygon points="238.6,491.64 241.6,491.64 240.1,494.34" fill="#5b2c6f"/>
<polyline points="156.6,501.8 163.97,496.81 170.11,494.93 178.7,451.52 186.07,472.64 193.44,479.64 200.81,482.75 208.18,488.52 213.09,494.54 224.14,496.16 232.74,496.16 240.1,496.16" fill="none" stroke="#951b43" stroke-width="1.15" stroke-linejoin="round"/>
<line x1="163.97" y1="496.16" x2="163.97" y2="497.46" stroke="#b01840" stroke-width="0.75"/>
<line x1="162.67" y1="496.16" x2="165.27" y2="496.16" stroke="#b01840" stroke-width="0.75"/>
<line x1="162.67" y1="497.46" x2="165.27" y2="497.46" stroke="#b01840" stroke-width="0.75"/>
<line x1="170.11" y1="494.28" x2="170.11" y2="495.58" stroke="#b01840" stroke-width="0.75"/>
<line x1="168.81" y1="494.28" x2="171.41" y2="494.28" stroke="#b01840" stroke-width="0.75"/>
<line x1="168.81" y1="495.58" x2="171.41" y2="495.58" stroke="#b01840" stroke-width="0.75"/>
<line x1="178.7" y1="448.92" x2="178.7" y2="454.11" stroke="#b01840" stroke-width="0.75"/>
<line x1="177.4" y1="448.92" x2="180" y2="448.92" stroke="#b01840" stroke-width="0.75"/>
<line x1="177.4" y1="454.11" x2="180" y2="454.11" stroke="#b01840" stroke-width="0.75"/>
<line x1="186.07" y1="468.75" x2="186.07" y2="476.53" stroke="#b01840" stroke-width="0.75"/>
<line x1="184.77" y1="468.75" x2="187.37" y2="468.75" stroke="#b01840" stroke-width="0.75"/>
<line x1="184.77" y1="476.53" x2="187.37" y2="476.53" stroke="#b01840" stroke-width="0.75"/>
<line x1="193.44" y1="476.4" x2="193.44" y2="482.88" stroke="#b01840" stroke-width="0.75"/>
<line x1="192.14" y1="476.4" x2="194.74" y2="476.4" stroke="#b01840" stroke-width="0.75"/>
<line x1="192.14" y1="482.88" x2="194.74" y2="482.88" stroke="#b01840" stroke-width="0.75"/>
<line x1="200.81" y1="479.51" x2="200.81" y2="485.99" stroke="#b01840" stroke-width="0.75"/>
<line x1="199.51" y1="479.51" x2="202.11" y2="479.51" stroke="#b01840" stroke-width="0.75"/>
<line x1="199.51" y1="485.99" x2="202.11" y2="485.99" stroke="#b01840" stroke-width="0.75"/>
<line x1="208.18" y1="485.92" x2="208.18" y2="491.11" stroke="#b01840" stroke-width="0.75"/>
<line x1="206.88" y1="485.92" x2="209.48" y2="485.92" stroke="#b01840" stroke-width="0.75"/>
<line x1="206.88" y1="491.11" x2="209.48" y2="491.11" stroke="#b01840" stroke-width="0.75"/>
<line x1="213.09" y1="492.6" x2="213.09" y2="496.49" stroke="#b01840" stroke-width="0.75"/>
<line x1="211.79" y1="492.6" x2="214.39" y2="492.6" stroke="#b01840" stroke-width="0.75"/>
<line x1="211.79" y1="496.49" x2="214.39" y2="496.49" stroke="#b01840" stroke-width="0.75"/>
<line x1="224.14" y1="494.22" x2="224.14" y2="498.11" stroke="#b01840" stroke-width="0.75"/>
<line x1="222.84" y1="494.22" x2="225.44" y2="494.22" stroke="#b01840" stroke-width="0.75"/>
<line x1="222.84" y1="498.11" x2="225.44" y2="498.11" stroke="#b01840" stroke-width="0.75"/>
<line x1="232.74" y1="494.87" x2="232.74" y2="497.46" stroke="#b01840" stroke-width="0.75"/>
<line x1="231.44" y1="494.87" x2="234.04" y2="494.87" stroke="#b01840" stroke-width="0.75"/>
<line x1="231.44" y1="497.46" x2="234.04" y2="497.46" stroke="#b01840" stroke-width="0.75"/>
<line x1="240.1" y1="494.87" x2="240.1" y2="497.46" stroke="#b01840" stroke-width="0.75"/>
<line x1="238.8" y1="494.87" x2="241.4" y2="494.87" stroke="#b01840" stroke-width="0.75"/>
<line x1="238.8" y1="497.46" x2="241.4" y2="497.46" stroke="#b01840" stroke-width="0.75"/>
<circle cx="156.6" cy="501.8" r="1.5" fill="#c4163e"/>
<circle cx="163.97" cy="496.81" r="1.5" fill="#c4163e"/>
<circle cx="170.11" cy="494.93" r="1.5" fill="#c4163e"/>
<circle cx="178.7" cy="451.52" r="1.5" fill="#c4163e"/>
<circle cx="186.07" cy="472.64" r="1.5" fill="#c4163e"/>
<circle cx="193.44" cy="479.64" r="1.5" fill="#c4163e"/>
<circle cx="200.81" cy="482.75" r="1.5" fill="#c4163e"/>
<circle cx="208.18" cy="488.52" r="1.5" fill="#c4163e"/>
<circle cx="213.09" cy="494.54" r="1.5" fill="#c4163e"/>
<circle cx="224.14" cy="496.16" r="1.5" fill="#c4163e"/>
<circle cx="232.74" cy="496.16" r="1.5" fill="#c4163e"/>
<circle cx="240.1" cy="496.16" r="1.5" fill="#c4163e"/>
<line x1="32.9" y1="541.9" x2="32.9" y2="596.2" stroke="#111" stroke-width="1.35"/>
<line x1="32.4" y1="595.7" x2="110.5" y2="595.7" stroke="#111" stroke-width="1.35"/>
<line x1="31.5" y1="592.37" x2="32.9" y2="592.37" stroke="#111" stroke-width="0.6"/>
<line x1="31.5" y1="588.71" x2="32.9" y2="588.71" stroke="#111" stroke-width="0.6"/>
<line x1="31.5" y1="585.05" x2="32.9" y2="585.05" stroke="#111" stroke-width="0.6"/>
<line x1="31.5" y1="581.39" x2="32.9" y2="581.39" stroke="#111" stroke-width="0.6"/>
<line x1="31.5" y1="577.73" x2="32.9" y2="577.73" stroke="#111" stroke-width="0.6"/>
<line x1="31.5" y1="574.07" x2="32.9" y2="574.07" stroke="#111" stroke-width="0.6"/>
<line x1="31.5" y1="570.41" x2="32.9" y2="570.41" stroke="#111" stroke-width="0.6"/>
<line x1="31.5" y1="566.75" x2="32.9" y2="566.75" stroke="#111" stroke-width="0.6"/>
<line x1="31.5" y1="563.09" x2="32.9" y2="563.09" stroke="#111" stroke-width="0.6"/>
<line x1="31.5" y1="559.43" x2="32.9" y2="559.43" stroke="#111" stroke-width="0.6"/>
<line x1="31.5" y1="555.77" x2="32.9" y2="555.77" stroke="#111" stroke-width="0.6"/>
<line x1="31.5" y1="552.11" x2="32.9" y2="552.11" stroke="#111" stroke-width="0.6"/>
<line x1="31.5" y1="548.45" x2="32.9" y2="548.45" stroke="#111" stroke-width="0.6"/>
<line x1="31.5" y1="544.79" x2="32.9" y2="544.79" stroke="#111" stroke-width="0.6"/>
<line x1="30.3" y1="581.39" x2="32.9" y2="581.39" stroke="#111" stroke-width="0.9"/>
<text x="27" y="583.69" font-size="6.6" text-anchor="end" fill="#333" stroke="#333" stroke-width="0.12" textLength="7.2" lengthAdjust="spacingAndGlyphs">20</text>
<line x1="30.3" y1="563.09" x2="32.9" y2="563.09" stroke="#111" stroke-width="0.9"/>
<text x="27" y="565.39" font-size="6.6" text-anchor="end" fill="#333" stroke="#333" stroke-width="0.12" textLength="7.2" lengthAdjust="spacingAndGlyphs">25</text>
<line x1="30.3" y1="544.79" x2="32.9" y2="544.79" stroke="#111" stroke-width="0.9"/>
<text x="27" y="547.09" font-size="6.6" text-anchor="end" fill="#333" stroke="#333" stroke-width="0.12" textLength="7.2" lengthAdjust="spacingAndGlyphs">30</text>
<line x1="32.9" y1="595.7" x2="32.9" y2="597" stroke="#111" stroke-width="0.6"/>
<line x1="40.4" y1="595.7" x2="40.4" y2="597" stroke="#111" stroke-width="0.6"/>
<line x1="47.9" y1="595.7" x2="47.9" y2="597" stroke="#111" stroke-width="0.6"/>
<line x1="55.4" y1="595.7" x2="55.4" y2="597" stroke="#111" stroke-width="0.6"/>
<line x1="62.9" y1="595.7" x2="62.9" y2="597" stroke="#111" stroke-width="0.6"/>
<line x1="70.4" y1="595.7" x2="70.4" y2="597" stroke="#111" stroke-width="0.6"/>
<line x1="77.9" y1="595.7" x2="77.9" y2="597" stroke="#111" stroke-width="0.6"/>
<line x1="85.4" y1="595.7" x2="85.4" y2="597" stroke="#111" stroke-width="0.6"/>
<line x1="92.9" y1="595.7" x2="92.9" y2="597" stroke="#111" stroke-width="0.6"/>
<line x1="100.4" y1="595.7" x2="100.4" y2="597" stroke="#111" stroke-width="0.6"/>
<line x1="107.9" y1="595.7" x2="107.9" y2="597" stroke="#111" stroke-width="0.6"/>
<line x1="32.9" y1="595.7" x2="32.9" y2="598.1" stroke="#111" stroke-width="0.9"/>
<text x="32.9" y="608.2" font-size="6.6" text-anchor="middle" fill="#333" stroke="#333" stroke-width="0.12" textLength="3.6" lengthAdjust="spacingAndGlyphs">0</text>
<line x1="47.9" y1="595.7" x2="47.9" y2="598.1" stroke="#111" stroke-width="0.9"/>
<text x="47.9" y="608.2" font-size="6.6" text-anchor="middle" fill="#333" stroke="#333" stroke-width="0.12" textLength="7.2" lengthAdjust="spacingAndGlyphs">15</text>
<line x1="62.9" y1="595.7" x2="62.9" y2="598.1" stroke="#111" stroke-width="0.9"/>
<text x="62.9" y="608.2" font-size="6.6" text-anchor="middle" fill="#333" stroke="#333" stroke-width="0.12" textLength="7.2" lengthAdjust="spacingAndGlyphs">30</text>
<line x1="77.9" y1="595.7" x2="77.9" y2="598.1" stroke="#111" stroke-width="0.9"/>
<text x="77.9" y="608.2" font-size="6.6" text-anchor="middle" fill="#333" stroke="#333" stroke-width="0.12" textLength="7.2" lengthAdjust="spacingAndGlyphs">45</text>
<line x1="92.9" y1="595.7" x2="92.9" y2="598.1" stroke="#111" stroke-width="0.9"/>
<text x="92.9" y="608.2" font-size="6.6" text-anchor="middle" fill="#333" stroke="#333" stroke-width="0.12" textLength="7.2" lengthAdjust="spacingAndGlyphs">60</text>
<line x1="107.9" y1="595.7" x2="107.9" y2="598.1" stroke="#111" stroke-width="0.9"/>
<text x="107.9" y="608.2" font-size="6.6" text-anchor="middle" fill="#333" stroke="#333" stroke-width="0.12" textLength="7.2" lengthAdjust="spacingAndGlyphs">75</text>
<text x="73" y="618.4" font-size="6.3" text-anchor="middle" fill="#333" stroke="#333" stroke-width="0.12" textLength="13" lengthAdjust="spacingAndGlyphs">Days</text>
<text x="13.7" y="569.8" font-size="6.6" text-anchor="middle" fill="#333" stroke="#333" stroke-width="0.12" textLength="42" lengthAdjust="spacingAndGlyphs" transform="rotate(-90 13.7 569.8)">Body weight (g)</text>
<polyline points="32.9,572.24 38.9,570.41 43.9,567.48 50.9,566.38 56.9,568.58" fill="none" stroke="#f39a1e" stroke-width="1.15" stroke-linejoin="round"/>
<line x1="50.9" y1="563.46" x2="50.9" y2="569.31" stroke="#f39a1e" stroke-width="0.75"/>
<line x1="49.6" y1="563.46" x2="52.2" y2="563.46" stroke="#f39a1e" stroke-width="0.75"/>
<line x1="49.6" y1="569.31" x2="52.2" y2="569.31" stroke="#f39a1e" stroke-width="0.75"/>
<polygon points="31.1,572.24 32.9,570.44 34.7,572.24 32.9,574.04" fill="#f39a1e"/>
<polygon points="37.1,570.41 38.9,568.61 40.7,570.41 38.9,572.21" fill="#f39a1e"/>
<polygon points="42.1,567.48 43.9,565.68 45.7,567.48 43.9,569.28" fill="#f39a1e"/>
<polygon points="49.1,566.38 50.9,564.58 52.7,566.38 50.9,568.18" fill="#f39a1e"/>
<polygon points="55.1,568.58 56.9,566.78 58.7,568.58 56.9,570.38" fill="#f39a1e"/>
<polyline points="32.9,575.9 38.9,574.44 43.9,572.97 50.9,572.24 56.9,571.87 62.9,585.42 68.9,585.42" fill="none" stroke="#40a638" stroke-width="1.15" stroke-linejoin="round"/>
<line x1="32.9" y1="574.07" x2="32.9" y2="577.73" stroke="#40a638" stroke-width="0.75"/>
<line x1="31.6" y1="574.07" x2="34.2" y2="574.07" stroke="#40a638" stroke-width="0.75"/>
<line x1="31.6" y1="577.73" x2="34.2" y2="577.73" stroke="#40a638" stroke-width="0.75"/>
<line x1="38.9" y1="572.61" x2="38.9" y2="576.27" stroke="#40a638" stroke-width="0.75"/>
<line x1="37.6" y1="572.61" x2="40.2" y2="572.61" stroke="#40a638" stroke-width="0.75"/>
<line x1="37.6" y1="576.27" x2="40.2" y2="576.27" stroke="#40a638" stroke-width="0.75"/>
<line x1="43.9" y1="571.14" x2="43.9" y2="574.8" stroke="#40a638" stroke-width="0.75"/>
<line x1="42.6" y1="571.14" x2="45.2" y2="571.14" stroke="#40a638" stroke-width="0.75"/>
<line x1="42.6" y1="574.8" x2="45.2" y2="574.8" stroke="#40a638" stroke-width="0.75"/>
<line x1="50.9" y1="570.41" x2="50.9" y2="574.07" stroke="#40a638" stroke-width="0.75"/>
<line x1="49.6" y1="570.41" x2="52.2" y2="570.41" stroke="#40a638" stroke-width="0.75"/>
<line x1="49.6" y1="574.07" x2="52.2" y2="574.07" stroke="#40a638" stroke-width="0.75"/>
<line x1="56.9" y1="569.68" x2="56.9" y2="574.07" stroke="#40a638" stroke-width="0.75"/>
<line x1="55.6" y1="569.68" x2="58.2" y2="569.68" stroke="#40a638" stroke-width="0.75"/>
<line x1="55.6" y1="574.07" x2="58.2" y2="574.07" stroke="#40a638" stroke-width="0.75"/>
<line x1="62.9" y1="581.76" x2="62.9" y2="589.08" stroke="#40a638" stroke-width="0.75"/>
<line x1="61.6" y1="581.76" x2="64.2" y2="581.76" stroke="#40a638" stroke-width="0.75"/>
<line x1="61.6" y1="589.08" x2="64.2" y2="589.08" stroke="#40a638" stroke-width="0.75"/>
<line x1="68.9" y1="581.39" x2="68.9" y2="589.44" stroke="#40a638" stroke-width="0.75"/>
<line x1="67.6" y1="581.39" x2="70.2" y2="581.39" stroke="#40a638" stroke-width="0.75"/>
<line x1="67.6" y1="589.44" x2="70.2" y2="589.44" stroke="#40a638" stroke-width="0.75"/>
<polygon points="31.4,577.25 34.4,577.25 32.9,574.55" fill="#40a638"/>
<polygon points="37.4,575.79 40.4,575.79 38.9,573.09" fill="#40a638"/>
<polygon points="42.4,574.32 45.4,574.32 43.9,571.62" fill="#40a638"/>
<polygon points="49.4,573.59 52.4,573.59 50.9,570.89" fill="#40a638"/>
<polygon points="55.4,573.22 58.4,573.22 56.9,570.52" fill="#40a638"/>
<polygon points="61.4,586.77 64.4,586.77 62.9,584.07" fill="#40a638"/>
<polygon points="67.4,586.77 70.4,586.77 68.9,584.07" fill="#40a638"/>
<polyline points="32.9,573.7 38.9,571.87 43.9,571.14 50.9,572.24 56.9,572.61 62.9,571.87 68.9,574.44 74.9,575.17 78.9,576.63 87.9,577 94.9,578.46 100.9,577.73" fill="none" stroke="#19497f" stroke-width="1.15" stroke-linejoin="round"/>
<line x1="32.9" y1="571.87" x2="32.9" y2="575.53" stroke="#19497f" stroke-width="0.75"/>
<line x1="31.6" y1="571.87" x2="34.2" y2="571.87" stroke="#19497f" stroke-width="0.75"/>
<line x1="31.6" y1="575.53" x2="34.2" y2="575.53" stroke="#19497f" stroke-width="0.75"/>
<line x1="38.9" y1="570.04" x2="38.9" y2="573.7" stroke="#19497f" stroke-width="0.75"/>
<line x1="37.6" y1="570.04" x2="40.2" y2="570.04" stroke="#19497f" stroke-width="0.75"/>
<line x1="37.6" y1="573.7" x2="40.2" y2="573.7" stroke="#19497f" stroke-width="0.75"/>
<line x1="43.9" y1="569.31" x2="43.9" y2="572.97" stroke="#19497f" stroke-width="0.75"/>
<line x1="42.6" y1="569.31" x2="45.2" y2="569.31" stroke="#19497f" stroke-width="0.75"/>
<line x1="42.6" y1="572.97" x2="45.2" y2="572.97" stroke="#19497f" stroke-width="0.75"/>
<line x1="50.9" y1="570.41" x2="50.9" y2="574.07" stroke="#19497f" stroke-width="0.75"/>
<line x1="49.6" y1="570.41" x2="52.2" y2="570.41" stroke="#19497f" stroke-width="0.75"/>
<line x1="49.6" y1="574.07" x2="52.2" y2="574.07" stroke="#19497f" stroke-width="0.75"/>
<line x1="56.9" y1="570.78" x2="56.9" y2="574.44" stroke="#19497f" stroke-width="0.75"/>
<line x1="55.6" y1="570.78" x2="58.2" y2="570.78" stroke="#19497f" stroke-width="0.75"/>
<line x1="55.6" y1="574.44" x2="58.2" y2="574.44" stroke="#19497f" stroke-width="0.75"/>
<line x1="62.9" y1="568.95" x2="62.9" y2="574.8" stroke="#19497f" stroke-width="0.75"/>
<line x1="61.6" y1="568.95" x2="64.2" y2="568.95" stroke="#19497f" stroke-width="0.75"/>
<line x1="61.6" y1="574.8" x2="64.2" y2="574.8" stroke="#19497f" stroke-width="0.75"/>
<line x1="68.9" y1="571.51" x2="68.9" y2="577.36" stroke="#19497f" stroke-width="0.75"/>
<line x1="67.6" y1="571.51" x2="70.2" y2="571.51" stroke="#19497f" stroke-width="0.75"/>
<line x1="67.6" y1="577.36" x2="70.2" y2="577.36" stroke="#19497f" stroke-width="0.75"/>
<line x1="74.9" y1="572.24" x2="74.9" y2="578.1" stroke="#19497f" stroke-width="0.75"/>
<line x1="73.6" y1="572.24" x2="76.2" y2="572.24" stroke="#19497f" stroke-width="0.75"/>
<line x1="73.6" y1="578.1" x2="76.2" y2="578.1" stroke="#19497f" stroke-width="0.75"/>
<line x1="78.9" y1="573.7" x2="78.9" y2="579.56" stroke="#19497f" stroke-width="0.75"/>
<line x1="77.6" y1="573.7" x2="80.2" y2="573.7" stroke="#19497f" stroke-width="0.75"/>
<line x1="77.6" y1="579.56" x2="80.2" y2="579.56" stroke="#19497f" stroke-width="0.75"/>
<line x1="87.9" y1="574.07" x2="87.9" y2="579.93" stroke="#19497f" stroke-width="0.75"/>
<line x1="86.6" y1="574.07" x2="89.2" y2="574.07" stroke="#19497f" stroke-width="0.75"/>
<line x1="86.6" y1="579.93" x2="89.2" y2="579.93" stroke="#19497f" stroke-width="0.75"/>
<line x1="94.9" y1="575.53" x2="94.9" y2="581.39" stroke="#19497f" stroke-width="0.75"/>
<line x1="93.6" y1="575.53" x2="96.2" y2="575.53" stroke="#19497f" stroke-width="0.75"/>
<line x1="93.6" y1="581.39" x2="96.2" y2="581.39" stroke="#19497f" stroke-width="0.75"/>
<line x1="100.9" y1="573.34" x2="100.9" y2="582.12" stroke="#19497f" stroke-width="0.75"/>
<line x1="99.6" y1="573.34" x2="102.2" y2="573.34" stroke="#19497f" stroke-width="0.75"/>
<line x1="99.6" y1="582.12" x2="102.2" y2="582.12" stroke="#19497f" stroke-width="0.75"/>
<rect x="31.47" y="572.28" width="2.85" height="2.85" fill="#19497f"/>
<rect x="37.48" y="570.45" width="2.85" height="2.85" fill="#19497f"/>
<rect x="42.48" y="569.72" width="2.85" height="2.85" fill="#19497f"/>
<rect x="49.48" y="570.81" width="2.85" height="2.85" fill="#19497f"/>
<rect x="55.48" y="571.18" width="2.85" height="2.85" fill="#19497f"/>
<rect x="61.48" y="570.45" width="2.85" height="2.85" fill="#19497f"/>
<rect x="67.48" y="573.01" width="2.85" height="2.85" fill="#19497f"/>
<rect x="73.48" y="573.74" width="2.85" height="2.85" fill="#19497f"/>
<rect x="77.48" y="575.21" width="2.85" height="2.85" fill="#19497f"/>
<rect x="86.48" y="575.57" width="2.85" height="2.85" fill="#19497f"/>
<rect x="93.48" y="577.04" width="2.85" height="2.85" fill="#19497f"/>
<rect x="99.48" y="576.3" width="2.85" height="2.85" fill="#19497f"/>
<polyline points="32.9,571.14 38.9,570.41 43.9,568.58 50.9,568.58 56.9,568.58 62.9,571.14 68.9,575.53 74.9,577 78.9,581.39 87.9,579.56 94.9,582.49 100.9,583.22" fill="none" stroke="#5b2c6f" stroke-width="1.15" stroke-linejoin="round"/>
<line x1="32.9" y1="569.31" x2="32.9" y2="572.97" stroke="#5b2c6f" stroke-width="0.75"/>
<line x1="31.6" y1="569.31" x2="34.2" y2="569.31" stroke="#5b2c6f" stroke-width="0.75"/>
<line x1="31.6" y1="572.97" x2="34.2" y2="572.97" stroke="#5b2c6f" stroke-width="0.75"/>
<line x1="38.9" y1="568.58" x2="38.9" y2="572.24" stroke="#5b2c6f" stroke-width="0.75"/>
<line x1="37.6" y1="568.58" x2="40.2" y2="568.58" stroke="#5b2c6f" stroke-width="0.75"/>
<line x1="37.6" y1="572.24" x2="40.2" y2="572.24" stroke="#5b2c6f" stroke-width="0.75"/>
<line x1="43.9" y1="566.75" x2="43.9" y2="570.41" stroke="#5b2c6f" stroke-width="0.75"/>
<line x1="42.6" y1="566.75" x2="45.2" y2="566.75" stroke="#5b2c6f" stroke-width="0.75"/>
<line x1="42.6" y1="570.41" x2="45.2" y2="570.41" stroke="#5b2c6f" stroke-width="0.75"/>
<line x1="50.9" y1="566.75" x2="50.9" y2="570.41" stroke="#5b2c6f" stroke-width="0.75"/>
<line x1="49.6" y1="566.75" x2="52.2" y2="566.75" stroke="#5b2c6f" stroke-width="0.75"/>
<line x1="49.6" y1="570.41" x2="52.2" y2="570.41" stroke="#5b2c6f" stroke-width="0.75"/>
<line x1="56.9" y1="566.75" x2="56.9" y2="570.41" stroke="#5b2c6f" stroke-width="0.75"/>
<line x1="55.6" y1="566.75" x2="58.2" y2="566.75" stroke="#5b2c6f" stroke-width="0.75"/>
<line x1="55.6" y1="570.41" x2="58.2" y2="570.41" stroke="#5b2c6f" stroke-width="0.75"/>
<line x1="62.9" y1="568.21" x2="62.9" y2="574.07" stroke="#5b2c6f" stroke-width="0.75"/>
<line x1="61.6" y1="568.21" x2="64.2" y2="568.21" stroke="#5b2c6f" stroke-width="0.75"/>
<line x1="61.6" y1="574.07" x2="64.2" y2="574.07" stroke="#5b2c6f" stroke-width="0.75"/>
<line x1="68.9" y1="572.61" x2="68.9" y2="578.46" stroke="#5b2c6f" stroke-width="0.75"/>
<line x1="67.6" y1="572.61" x2="70.2" y2="572.61" stroke="#5b2c6f" stroke-width="0.75"/>
<line x1="67.6" y1="578.46" x2="70.2" y2="578.46" stroke="#5b2c6f" stroke-width="0.75"/>
<line x1="74.9" y1="574.07" x2="74.9" y2="579.93" stroke="#5b2c6f" stroke-width="0.75"/>
<line x1="73.6" y1="574.07" x2="76.2" y2="574.07" stroke="#5b2c6f" stroke-width="0.75"/>
<line x1="73.6" y1="579.93" x2="76.2" y2="579.93" stroke="#5b2c6f" stroke-width="0.75"/>
<line x1="78.9" y1="575.53" x2="78.9" y2="587.25" stroke="#5b2c6f" stroke-width="0.75"/>
<line x1="77.6" y1="575.53" x2="80.2" y2="575.53" stroke="#5b2c6f" stroke-width="0.75"/>
<line x1="77.6" y1="587.25" x2="80.2" y2="587.25" stroke="#5b2c6f" stroke-width="0.75"/>
<line x1="87.9" y1="575.17" x2="87.9" y2="583.95" stroke="#5b2c6f" stroke-width="0.75"/>
<line x1="86.6" y1="575.17" x2="89.2" y2="575.17" stroke="#5b2c6f" stroke-width="0.75"/>
<line x1="86.6" y1="583.95" x2="89.2" y2="583.95" stroke="#5b2c6f" stroke-width="0.75"/>
<line x1="94.9" y1="576.27" x2="94.9" y2="588.71" stroke="#5b2c6f" stroke-width="0.75"/>
<line x1="93.6" y1="576.27" x2="96.2" y2="576.27" stroke="#5b2c6f" stroke-width="0.75"/>
<line x1="93.6" y1="588.71" x2="96.2" y2="588.71" stroke="#5b2c6f" stroke-width="0.75"/>
<line x1="100.9" y1="576.63" x2="100.9" y2="589.81" stroke="#5b2c6f" stroke-width="0.75"/>
<line x1="99.6" y1="576.63" x2="102.2" y2="576.63" stroke="#5b2c6f" stroke-width="0.75"/>
<line x1="99.6" y1="589.81" x2="102.2" y2="589.81" stroke="#5b2c6f" stroke-width="0.75"/>
<polygon points="31.4,569.79 34.4,569.79 32.9,572.49" fill="#5b2c6f"/>
<polygon points="37.4,569.06 40.4,569.06 38.9,571.76" fill="#5b2c6f"/>
<polygon points="42.4,567.23 45.4,567.23 43.9,569.93" fill="#5b2c6f"/>
<polygon points="49.4,567.23 52.4,567.23 50.9,569.93" fill="#5b2c6f"/>
<polygon points="55.4,567.23 58.4,567.23 56.9,569.93" fill="#5b2c6f"/>
<polygon points="61.4,569.79 64.4,569.79 62.9,572.49" fill="#5b2c6f"/>
<polygon points="67.4,574.18 70.4,574.18 68.9,576.88" fill="#5b2c6f"/>
<polygon points="73.4,575.65 76.4,575.65 74.9,578.35" fill="#5b2c6f"/>
<polygon points="77.4,580.04 80.4,580.04 78.9,582.74" fill="#5b2c6f"/>
<polygon points="86.4,578.21 89.4,578.21 87.9,580.91" fill="#5b2c6f"/>
<polygon points="93.4,581.14 96.4,581.14 94.9,583.84" fill="#5b2c6f"/>
<polygon points="99.4,581.87 102.4,581.87 100.9,584.57" fill="#5b2c6f"/>
<polyline points="32.9,570.78 38.9,568.95 43.9,566.75 50.9,566.02 56.9,566.38 62.9,566.75 68.9,569.68 74.9,570.78 78.9,572.61 87.9,575.53 94.9,575.9 100.9,575.53" fill="none" stroke="#951b43" stroke-width="1.15" stroke-linejoin="round"/>
<line x1="32.9" y1="568.95" x2="32.9" y2="572.61" stroke="#b01840" stroke-width="0.75"/>
<line x1="31.6" y1="568.95" x2="34.2" y2="568.95" stroke="#b01840" stroke-width="0.75"/>
<line x1="31.6" y1="572.61" x2="34.2" y2="572.61" stroke="#b01840" stroke-width="0.75"/>
<line x1="38.9" y1="567.12" x2="38.9" y2="570.78" stroke="#b01840" stroke-width="0.75"/>
<line x1="37.6" y1="567.12" x2="40.2" y2="567.12" stroke="#b01840" stroke-width="0.75"/>
<line x1="37.6" y1="570.78" x2="40.2" y2="570.78" stroke="#b01840" stroke-width="0.75"/>
<line x1="43.9" y1="564.92" x2="43.9" y2="568.58" stroke="#b01840" stroke-width="0.75"/>
<line x1="42.6" y1="564.92" x2="45.2" y2="564.92" stroke="#b01840" stroke-width="0.75"/>
<line x1="42.6" y1="568.58" x2="45.2" y2="568.58" stroke="#b01840" stroke-width="0.75"/>
<line x1="50.9" y1="564.19" x2="50.9" y2="567.85" stroke="#b01840" stroke-width="0.75"/>
<line x1="49.6" y1="564.19" x2="52.2" y2="564.19" stroke="#b01840" stroke-width="0.75"/>
<line x1="49.6" y1="567.85" x2="52.2" y2="567.85" stroke="#b01840" stroke-width="0.75"/>
<line x1="56.9" y1="564.55" x2="56.9" y2="568.21" stroke="#b01840" stroke-width="0.75"/>
<line x1="55.6" y1="564.55" x2="58.2" y2="564.55" stroke="#b01840" stroke-width="0.75"/>
<line x1="55.6" y1="568.21" x2="58.2" y2="568.21" stroke="#b01840" stroke-width="0.75"/>
<line x1="62.9" y1="561.26" x2="62.9" y2="572.24" stroke="#b01840" stroke-width="0.75"/>
<line x1="61.6" y1="561.26" x2="64.2" y2="561.26" stroke="#b01840" stroke-width="0.75"/>
<line x1="61.6" y1="572.24" x2="64.2" y2="572.24" stroke="#b01840" stroke-width="0.75"/>
<line x1="68.9" y1="565.29" x2="68.9" y2="574.07" stroke="#b01840" stroke-width="0.75"/>
<line x1="67.6" y1="565.29" x2="70.2" y2="565.29" stroke="#b01840" stroke-width="0.75"/>
<line x1="67.6" y1="574.07" x2="70.2" y2="574.07" stroke="#b01840" stroke-width="0.75"/>
<line x1="74.9" y1="565.65" x2="74.9" y2="575.9" stroke="#b01840" stroke-width="0.75"/>
<line x1="73.6" y1="565.65" x2="76.2" y2="565.65" stroke="#b01840" stroke-width="0.75"/>
<line x1="73.6" y1="575.9" x2="76.2" y2="575.9" stroke="#b01840" stroke-width="0.75"/>
<line x1="78.9" y1="568.21" x2="78.9" y2="577" stroke="#b01840" stroke-width="0.75"/>
<line x1="77.6" y1="568.21" x2="80.2" y2="568.21" stroke="#b01840" stroke-width="0.75"/>
<line x1="77.6" y1="577" x2="80.2" y2="577" stroke="#b01840" stroke-width="0.75"/>
<line x1="87.9" y1="569.68" x2="87.9" y2="581.39" stroke="#b01840" stroke-width="0.75"/>
<line x1="86.6" y1="569.68" x2="89.2" y2="569.68" stroke="#b01840" stroke-width="0.75"/>
<line x1="86.6" y1="581.39" x2="89.2" y2="581.39" stroke="#b01840" stroke-width="0.75"/>
<line x1="94.9" y1="570.04" x2="94.9" y2="581.76" stroke="#b01840" stroke-width="0.75"/>
<line x1="93.6" y1="570.04" x2="96.2" y2="570.04" stroke="#b01840" stroke-width="0.75"/>
<line x1="93.6" y1="581.76" x2="96.2" y2="581.76" stroke="#b01840" stroke-width="0.75"/>
<line x1="100.9" y1="568.21" x2="100.9" y2="582.85" stroke="#b01840" stroke-width="0.75"/>
<line x1="99.6" y1="568.21" x2="102.2" y2="568.21" stroke="#b01840" stroke-width="0.75"/>
<line x1="99.6" y1="582.85" x2="102.2" y2="582.85" stroke="#b01840" stroke-width="0.75"/>
<circle cx="32.9" cy="570.78" r="1.5" fill="#c4163e"/>
<circle cx="38.9" cy="568.95" r="1.5" fill="#c4163e"/>
<circle cx="43.9" cy="566.75" r="1.5" fill="#c4163e"/>
<circle cx="50.9" cy="566.02" r="1.5" fill="#c4163e"/>
<circle cx="56.9" cy="566.38" r="1.5" fill="#c4163e"/>
<circle cx="62.9" cy="566.75" r="1.5" fill="#c4163e"/>
<circle cx="68.9" cy="569.68" r="1.5" fill="#c4163e"/>
<circle cx="74.9" cy="570.78" r="1.5" fill="#c4163e"/>
<circle cx="78.9" cy="572.61" r="1.5" fill="#c4163e"/>
<circle cx="87.9" cy="575.53" r="1.5" fill="#c4163e"/>
<circle cx="94.9" cy="575.9" r="1.5" fill="#c4163e"/>
<circle cx="100.9" cy="575.53" r="1.5" fill="#c4163e"/>
<line x1="157.1" y1="546.4" x2="157.1" y2="596.5" stroke="#111" stroke-width="1.35"/>
<line x1="156.6" y1="596" x2="243.8" y2="596" stroke="#111" stroke-width="1.35"/>
<line x1="154.5" y1="596" x2="157.1" y2="596" stroke="#111" stroke-width="0.9"/>
<text x="151.1" y="598.3" font-size="6.6" text-anchor="end" fill="#333" stroke="#333" stroke-width="0.12" textLength="3.43" lengthAdjust="spacingAndGlyphs">0</text>
<line x1="155.7" y1="591.54" x2="157.1" y2="591.54" stroke="#111" stroke-width="0.6"/>
<line x1="154.5" y1="587.08" x2="157.1" y2="587.08" stroke="#111" stroke-width="0.9"/>
<text x="151.1" y="589.38" font-size="6.6" text-anchor="end" fill="#333" stroke="#333" stroke-width="0.12" textLength="6.86" lengthAdjust="spacingAndGlyphs">20</text>
<line x1="155.7" y1="582.62" x2="157.1" y2="582.62" stroke="#111" stroke-width="0.6"/>
<line x1="154.5" y1="578.16" x2="157.1" y2="578.16" stroke="#111" stroke-width="0.9"/>
<text x="151.1" y="580.46" font-size="6.6" text-anchor="end" fill="#333" stroke="#333" stroke-width="0.12" textLength="6.86" lengthAdjust="spacingAndGlyphs">40</text>
<line x1="155.7" y1="573.7" x2="157.1" y2="573.7" stroke="#111" stroke-width="0.6"/>
<line x1="154.5" y1="569.24" x2="157.1" y2="569.24" stroke="#111" stroke-width="0.9"/>
<text x="151.1" y="571.54" font-size="6.6" text-anchor="end" fill="#333" stroke="#333" stroke-width="0.12" textLength="6.86" lengthAdjust="spacingAndGlyphs">60</text>
<line x1="155.7" y1="564.78" x2="157.1" y2="564.78" stroke="#111" stroke-width="0.6"/>
<line x1="154.5" y1="560.32" x2="157.1" y2="560.32" stroke="#111" stroke-width="0.9"/>
<text x="151.1" y="562.62" font-size="6.6" text-anchor="end" fill="#333" stroke="#333" stroke-width="0.12" textLength="6.86" lengthAdjust="spacingAndGlyphs">80</text>
<line x1="155.7" y1="555.86" x2="157.1" y2="555.86" stroke="#111" stroke-width="0.6"/>
<line x1="154.5" y1="551.4" x2="157.1" y2="551.4" stroke="#111" stroke-width="0.9"/>
<text x="151.1" y="553.7" font-size="6.6" text-anchor="end" fill="#333" stroke="#333" stroke-width="0.12" textLength="10.29" lengthAdjust="spacingAndGlyphs">100</text>
<line x1="157.1" y1="596" x2="157.1" y2="598.4" stroke="#111" stroke-width="0.9"/>
<text x="157.1" y="608.1" font-size="6.6" text-anchor="middle" fill="#333" stroke="#333" stroke-width="0.12" textLength="3.45" lengthAdjust="spacingAndGlyphs">0</text>
<line x1="165.76" y1="596" x2="165.76" y2="597.3" stroke="#111" stroke-width="0.6"/>
<line x1="174.42" y1="596" x2="174.42" y2="598.4" stroke="#111" stroke-width="0.9"/>
<text x="174.42" y="608.1" font-size="6.6" text-anchor="middle" fill="#333" stroke="#333" stroke-width="0.12" textLength="6.9" lengthAdjust="spacingAndGlyphs">20</text>
<line x1="183.08" y1="596" x2="183.08" y2="597.3" stroke="#111" stroke-width="0.6"/>
<line x1="191.74" y1="596" x2="191.74" y2="598.4" stroke="#111" stroke-width="0.9"/>
<text x="191.74" y="608.1" font-size="6.6" text-anchor="middle" fill="#333" stroke="#333" stroke-width="0.12" textLength="6.9" lengthAdjust="spacingAndGlyphs">40</text>
<line x1="200.4" y1="596" x2="200.4" y2="597.3" stroke="#111" stroke-width="0.6"/>
<line x1="209.06" y1="596" x2="209.06" y2="598.4" stroke="#111" stroke-width="0.9"/>
<text x="209.06" y="608.1" font-size="6.6" text-anchor="middle" fill="#333" stroke="#333" stroke-width="0.12" textLength="6.9" lengthAdjust="spacingAndGlyphs">60</text>
<line x1="217.72" y1="596" x2="217.72" y2="597.3" stroke="#111" stroke-width="0.6"/>
<line x1="226.38" y1="596" x2="226.38" y2="598.4" stroke="#111" stroke-width="0.9"/>
<text x="226.38" y="608.1" font-size="6.6" text-anchor="middle" fill="#333" stroke="#333" stroke-width="0.12" textLength="6.9" lengthAdjust="spacingAndGlyphs">80</text>
<line x1="235.04" y1="596" x2="235.04" y2="597.3" stroke="#111" stroke-width="0.6"/>
<text x="200.8" y="618.3" font-size="6.3" text-anchor="middle" fill="#333" stroke="#333" stroke-width="0.12" textLength="13" lengthAdjust="spacingAndGlyphs">Days</text>
<text x="134" y="572" font-size="6.4" text-anchor="middle" fill="#333" stroke="#333" stroke-width="0.12" textLength="26.5" lengthAdjust="spacingAndGlyphs" transform="rotate(-90 134 572)">% Survival</text>
<polyline points="157.1,551.4 182.5,551.4 182.5,560.32 185.3,560.32 185.3,569.24 190.8,569.24 190.8,578.16 191.6,578.16 191.6,596" fill="none" stroke="#f0a830" stroke-width="1" stroke-linejoin="round" stroke-linejoin="miter"/>
<polyline points="157.1,551.4 187.5,551.4 187.5,560.32 189,560.32 189,569.24 190.3,569.24 190.3,578.16 194.4,578.16 194.4,587.08 200.6,587.08 200.6,596" fill="none" stroke="#4cae4c" stroke-width="1" stroke-linejoin="round" stroke-linejoin="miter"/>
<polyline points="157.1,551.4 192.5,551.4 192.5,560.32 206.3,560.32 206.3,569.24 214.8,569.24 214.8,578.16 225.6,578.16 225.6,587.08 233.5,587.08 233.5,596" fill="none" stroke="#2c5d9a" stroke-width="1" stroke-linejoin="round" stroke-linejoin="miter"/>
<polyline points="157.1,551.4 194,551.4 194,560.32 201.3,560.32 201.3,569.24 213.1,569.24 213.1,578.16 216.3,578.16 216.3,587.08 222.8,587.08 222.8,596" fill="none" stroke="#5b2c6f" stroke-width="1" stroke-linejoin="round" stroke-linejoin="miter"/>
<polyline points="157.1,551.4 222.5,551.4 222.5,560.32 225,560.32 225,569.24 235,569.24" fill="none" stroke="#d0213f" stroke-width="1.1" stroke-linejoin="round" stroke-linejoin="miter"/>
<line x1="157.1" y1="551.4" x2="194" y2="551.4" stroke="#7a1a3a" stroke-width="1.5"/>
<circle cx="238.9" cy="569.24" r="0.7" fill="#222"/>
<line x1="292.3" y1="449.7" x2="292.3" y2="502.8" stroke="#111" stroke-width="1.35"/>
<line x1="291.8" y1="502.3" x2="343.5" y2="502.3" stroke="#111" stroke-width="1.35"/>
<line x1="290.9" y1="502.3" x2="292.3" y2="502.3" stroke="#111" stroke-width="0.6"/>
<line x1="290.9" y1="500.31" x2="292.3" y2="500.31" stroke="#111" stroke-width="0.6"/>
<line x1="290.9" y1="498.32" x2="292.3" y2="498.32" stroke="#111" stroke-width="0.6"/>
<line x1="290.9" y1="496.32" x2="292.3" y2="496.32" stroke="#111" stroke-width="0.6"/>
<line x1="290.9" y1="494.33" x2="292.3" y2="494.33" stroke="#111" stroke-width="0.6"/>
<line x1="290.9" y1="492.34" x2="292.3" y2="492.34" stroke="#111" stroke-width="0.6"/>
<line x1="290.9" y1="490.35" x2="292.3" y2="490.35" stroke="#111" stroke-width="0.6"/>
<line x1="290.9" y1="488.36" x2="292.3" y2="488.36" stroke="#111" stroke-width="0.6"/>
<line x1="290.9" y1="486.36" x2="292.3" y2="486.36" stroke="#111" stroke-width="0.6"/>
<line x1="290.9" y1="484.37" x2="292.3" y2="484.37" stroke="#111" stroke-width="0.6"/>
<line x1="290.9" y1="482.38" x2="292.3" y2="482.38" stroke="#111" stroke-width="0.6"/>
<line x1="290.9" y1="480.39" x2="292.3" y2="480.39" stroke="#111" stroke-width="0.6"/>
<line x1="290.9" y1="478.4" x2="292.3" y2="478.4" stroke="#111" stroke-width="0.6"/>
<line x1="290.9" y1="476.4" x2="292.3" y2="476.4" stroke="#111" stroke-width="0.6"/>
<line x1="290.9" y1="474.41" x2="292.3" y2="474.41" stroke="#111" stroke-width="0.6"/>
<line x1="290.9" y1="472.42" x2="292.3" y2="472.42" stroke="#111" stroke-width="0.6"/>
<line x1="290.9" y1="470.43" x2="292.3" y2="470.43" stroke="#111" stroke-width="0.6"/>
<line x1="290.9" y1="468.44" x2="292.3" y2="468.44" stroke="#111" stroke-width="0.6"/>
<line x1="290.9" y1="466.44" x2="292.3" y2="466.44" stroke="#111" stroke-width="0.6"/>
<line x1="290.9" y1="464.45" x2="292.3" y2="464.45" stroke="#111" stroke-width="0.6"/>
<line x1="290.9" y1="462.46" x2="292.3" y2="462.46" stroke="#111" stroke-width="0.6"/>
<line x1="290.9" y1="460.47" x2="292.3" y2="460.47" stroke="#111" stroke-width="0.6"/>
<line x1="290.9" y1="458.48" x2="292.3" y2="458.48" stroke="#111" stroke-width="0.6"/>
<line x1="290.9" y1="456.48" x2="292.3" y2="456.48" stroke="#111" stroke-width="0.6"/>
<line x1="290.9" y1="454.49" x2="292.3" y2="454.49" stroke="#111" stroke-width="0.6"/>
<line x1="290.9" y1="452.5" x2="292.3" y2="452.5" stroke="#111" stroke-width="0.6"/>
<line x1="289.5" y1="502.3" x2="292.3" y2="502.3" stroke="#111" stroke-width="0.9"/>
<text x="285.9" y="504.6" font-size="6.5" text-anchor="end" fill="#333" stroke="#333" stroke-width="0.12" textLength="3.45" lengthAdjust="spacingAndGlyphs">0</text>
<line x1="289.5" y1="492.34" x2="292.3" y2="492.34" stroke="#111" stroke-width="0.9"/>
<text x="285.9" y="494.64" font-size="6.5" text-anchor="end" fill="#333" stroke="#333" stroke-width="0.12" textLength="10.35" lengthAdjust="spacingAndGlyphs">500</text>
<line x1="289.5" y1="482.38" x2="292.3" y2="482.38" stroke="#111" stroke-width="0.9"/>
<text x="285.9" y="484.68" font-size="6.5" text-anchor="end" fill="#333" stroke="#333" stroke-width="0.12" textLength="13.8" lengthAdjust="spacingAndGlyphs">1000</text>
<line x1="289.5" y1="472.42" x2="292.3" y2="472.42" stroke="#111" stroke-width="0.9"/>
<text x="285.9" y="474.72" font-size="6.5" text-anchor="end" fill="#333" stroke="#333" stroke-width="0.12" textLength="13.8" lengthAdjust="spacingAndGlyphs">1500</text>
<line x1="289.5" y1="462.46" x2="292.3" y2="462.46" stroke="#111" stroke-width="0.9"/>
<text x="285.9" y="464.76" font-size="6.5" text-anchor="end" fill="#333" stroke="#333" stroke-width="0.12" textLength="13.8" lengthAdjust="spacingAndGlyphs">2000</text>
<line x1="289.5" y1="452.5" x2="292.3" y2="452.5" stroke="#111" stroke-width="0.9"/>
<text x="285.9" y="454.8" font-size="6.5" text-anchor="end" fill="#333" stroke="#333" stroke-width="0.12" textLength="13.8" lengthAdjust="spacingAndGlyphs">2500</text>
<line x1="297.1" y1="502.3" x2="297.1" y2="504.1" stroke="#111" stroke-width="0.7"/>
<line x1="306.9" y1="502.3" x2="306.9" y2="504.1" stroke="#111" stroke-width="0.7"/>
<line x1="316.5" y1="502.3" x2="316.5" y2="504.1" stroke="#111" stroke-width="0.7"/>
<line x1="326.2" y1="502.3" x2="326.2" y2="504.1" stroke="#111" stroke-width="0.7"/>
<line x1="335.9" y1="502.3" x2="335.9" y2="504.1" stroke="#111" stroke-width="0.7"/>
<text x="265.3" y="473" font-size="6.3" text-anchor="middle" fill="#333" stroke="#333" stroke-width="0.12" textLength="32" lengthAdjust="spacingAndGlyphs" transform="rotate(-90 265.3 473)">IL-2 (pg/mL)</text>
<line x1="297.4" y1="431.3" x2="335.9" y2="431.3" stroke="#2a2a2a" stroke-width="1"/>
<circle cx="314.9" cy="428.7" r="0.95" fill="#222"/>
<circle cx="317.6" cy="428.7" r="0.95" fill="#222"/>
<circle cx="320.3" cy="428.7" r="0.95" fill="#222"/>
<line x1="307" y1="439.7" x2="335.9" y2="439.7" stroke="#2a2a2a" stroke-width="1"/>
<text x="321.7" y="437.6" font-size="6.1" text-anchor="middle" fill="#2a2a2a" stroke="#2a2a2a" stroke-width="0.12" textLength="6.2" lengthAdjust="spacingAndGlyphs">ns</text>
<line x1="316.9" y1="447.2" x2="335.9" y2="447.2" stroke="#2a2a2a" stroke-width="1"/>
<circle cx="324.6" cy="443.6" r="0.95" fill="#222"/>
<circle cx="327.3" cy="443.6" r="0.95" fill="#222"/>
<circle cx="330" cy="443.6" r="0.95" fill="#222"/>
<line x1="326.7" y1="453.9" x2="335.9" y2="453.9" stroke="#2a2a2a" stroke-width="1"/>
<circle cx="331.3" cy="450.8" r="0.95" fill="#222"/>
<line x1="293.9" y1="501.6" x2="300.3" y2="501.6" stroke="#f39a1e" stroke-width="1.5"/>
<rect x="305.21" y="461.41" width="2.18" height="2.18" fill="#19497f"/>
<rect x="306.31" y="466.01" width="2.18" height="2.18" fill="#19497f"/>
<rect x="305.51" y="470.31" width="2.18" height="2.18" fill="#19497f"/>
<rect x="306.51" y="474.01" width="2.18" height="2.18" fill="#19497f"/>
<rect x="305.31" y="475.41" width="2.18" height="2.18" fill="#19497f"/>
<rect x="306.01" y="476.91" width="2.18" height="2.18" fill="#19497f"/>
<rect x="305.01" y="478.31" width="2.18" height="2.18" fill="#19497f"/>
<rect x="306.41" y="484.11" width="2.18" height="2.18" fill="#19497f"/>
<line x1="306.9" y1="470.4" x2="306.9" y2="478" stroke="#19497f" stroke-width="0.9"/>
<line x1="305.4" y1="470.4" x2="308.4" y2="470.4" stroke="#19497f" stroke-width="0.8"/>
<line x1="305.4" y1="478" x2="308.4" y2="478" stroke="#19497f" stroke-width="0.8"/>
<line x1="303.7" y1="474.3" x2="310.1" y2="474.3" stroke="#19497f" stroke-width="1.05"/>
<polygon points="314.75,500.64 317.05,500.64 315.9,498.56" fill="#40a638"/>
<polygon points="315.85,501.24 318.15,501.24 317,499.16" fill="#40a638"/>
<polygon points="315.05,500.04 317.35,500.04 316.2,497.96" fill="#40a638"/>
<polygon points="316.05,501.64 318.35,501.64 317.2,499.56" fill="#40a638"/>
<polygon points="314.85,500.84 317.15,500.84 316,498.76" fill="#40a638"/>
<line x1="316.5" y1="499" x2="316.5" y2="500.6" stroke="#40a638" stroke-width="0.9"/>
<line x1="315" y1="499" x2="318" y2="499" stroke="#40a638" stroke-width="0.8"/>
<line x1="315" y1="500.6" x2="318" y2="500.6" stroke="#40a638" stroke-width="0.8"/>
<line x1="313.3" y1="499.8" x2="319.7" y2="499.8" stroke="#40a638" stroke-width="1.05"/>
<polygon points="324.45,471.06 326.75,471.06 325.6,473.14" fill="#5b2c6f"/>
<polygon points="325.55,477.76 327.85,477.76 326.7,479.84" fill="#5b2c6f"/>
<polygon points="324.75,478.76 327.05,478.76 325.9,480.84" fill="#5b2c6f"/>
<polygon points="325.75,479.56 328.05,479.56 326.9,481.64" fill="#5b2c6f"/>
<polygon points="324.55,480.46 326.85,480.46 325.7,482.54" fill="#5b2c6f"/>
<polygon points="325.25,487.06 327.55,487.06 326.4,489.14" fill="#5b2c6f"/>
<line x1="326.2" y1="478.8" x2="326.2" y2="488.1" stroke="#5b2c6f" stroke-width="0.9"/>
<line x1="324.7" y1="478.8" x2="327.7" y2="478.8" stroke="#5b2c6f" stroke-width="0.8"/>
<line x1="324.7" y1="488.1" x2="327.7" y2="488.1" stroke="#5b2c6f" stroke-width="0.8"/>
<line x1="323" y1="482.7" x2="329.4" y2="482.7" stroke="#5b2c6f" stroke-width="1.05"/>
<circle cx="335.3" cy="457.7" r="1.15" fill="#c20a2c"/>
<circle cx="336.4" cy="466.4" r="1.15" fill="#c20a2c"/>
<circle cx="335.6" cy="468.6" r="1.15" fill="#c20a2c"/>
<circle cx="336.6" cy="470" r="1.15" fill="#c20a2c"/>
<circle cx="335.4" cy="472.2" r="1.15" fill="#c20a2c"/>
<circle cx="336.1" cy="473.6" r="1.15" fill="#c20a2c"/>
<line x1="335.9" y1="466.4" x2="335.9" y2="472.2" stroke="#c20a2c" stroke-width="0.9"/>
<line x1="334.4" y1="466.4" x2="337.4" y2="466.4" stroke="#c20a2c" stroke-width="0.8"/>
<line x1="334.4" y1="472.2" x2="337.4" y2="472.2" stroke="#c20a2c" stroke-width="0.8"/>
<line x1="332.7" y1="469.3" x2="339.1" y2="469.3" stroke="#c20a2c" stroke-width="1.05"/>
<line x1="380.2" y1="450.2" x2="380.2" y2="502.5" stroke="#111" stroke-width="1.35"/>
<line x1="379.7" y1="502" x2="431.5" y2="502" stroke="#111" stroke-width="1.35"/>
<line x1="378.8" y1="502" x2="380.2" y2="502" stroke="#111" stroke-width="0.6"/>
<line x1="378.8" y1="493.83" x2="380.2" y2="493.83" stroke="#111" stroke-width="0.6"/>
<line x1="378.8" y1="485.67" x2="380.2" y2="485.67" stroke="#111" stroke-width="0.6"/>
<line x1="378.8" y1="477.5" x2="380.2" y2="477.5" stroke="#111" stroke-width="0.6"/>
<line x1="378.8" y1="469.33" x2="380.2" y2="469.33" stroke="#111" stroke-width="0.6"/>
<line x1="378.8" y1="461.17" x2="380.2" y2="461.17" stroke="#111" stroke-width="0.6"/>
<line x1="378.8" y1="453" x2="380.2" y2="453" stroke="#111" stroke-width="0.6"/>
<line x1="377.4" y1="502" x2="380.2" y2="502" stroke="#111" stroke-width="0.9"/>
<text x="373.8" y="504.3" font-size="6.5" text-anchor="end" fill="#333" stroke="#333" stroke-width="0.12" textLength="3.45" lengthAdjust="spacingAndGlyphs">0</text>
<line x1="377.4" y1="485.67" x2="380.2" y2="485.67" stroke="#111" stroke-width="0.9"/>
<text x="373.8" y="487.97" font-size="6.5" text-anchor="end" fill="#333" stroke="#333" stroke-width="0.12" textLength="13.8" lengthAdjust="spacingAndGlyphs">1000</text>
<line x1="377.4" y1="469.33" x2="380.2" y2="469.33" stroke="#111" stroke-width="0.9"/>
<text x="373.8" y="471.63" font-size="6.5" text-anchor="end" fill="#333" stroke="#333" stroke-width="0.12" textLength="13.8" lengthAdjust="spacingAndGlyphs">2000</text>
<line x1="377.4" y1="453" x2="380.2" y2="453" stroke="#111" stroke-width="0.9"/>
<text x="373.8" y="455.3" font-size="6.5" text-anchor="end" fill="#333" stroke="#333" stroke-width="0.12" textLength="13.8" lengthAdjust="spacingAndGlyphs">3000</text>
<line x1="385" y1="502" x2="385" y2="503.8" stroke="#111" stroke-width="0.7"/>
<line x1="394.8" y1="502" x2="394.8" y2="503.8" stroke="#111" stroke-width="0.7"/>
<line x1="404.4" y1="502" x2="404.4" y2="503.8" stroke="#111" stroke-width="0.7"/>
<line x1="414.1" y1="502" x2="414.1" y2="503.8" stroke="#111" stroke-width="0.7"/>
<line x1="423.8" y1="502" x2="423.8" y2="503.8" stroke="#111" stroke-width="0.7"/>
<text x="353.6" y="472.6" font-size="6.3" text-anchor="middle" fill="#333" stroke="#333" stroke-width="0.12" textLength="36" lengthAdjust="spacingAndGlyphs" transform="rotate(-90 353.6 472.6)">IFN-γ (pg/mL)</text>
<line x1="385.4" y1="428.2" x2="423.9" y2="428.2" stroke="#2a2a2a" stroke-width="1"/>
<circle cx="402.6" cy="425.6" r="0.95" fill="#222"/>
<circle cx="405.3" cy="425.6" r="0.95" fill="#222"/>
<circle cx="408" cy="425.6" r="0.95" fill="#222"/>
<line x1="394.6" y1="437.2" x2="423.9" y2="437.2" stroke="#2a2a2a" stroke-width="1"/>
<text x="409.3" y="434.7" font-size="6.1" text-anchor="middle" fill="#2a2a2a" stroke="#2a2a2a" stroke-width="0.12" textLength="6.2" lengthAdjust="spacingAndGlyphs">ns</text>
<line x1="404.4" y1="444.1" x2="423.9" y2="444.1" stroke="#2a2a2a" stroke-width="1"/>
<circle cx="413.65" cy="441.2" r="0.95" fill="#222"/>
<circle cx="416.35" cy="441.2" r="0.95" fill="#222"/>
<line x1="414.2" y1="451.2" x2="423.9" y2="451.2" stroke="#2a2a2a" stroke-width="1"/>
<circle cx="418.8" cy="448.4" r="0.95" fill="#222"/>
<line x1="381.8" y1="501.3" x2="388.2" y2="501.3" stroke="#f39a1e" stroke-width="1.5"/>
<rect x="393.11" y="459.61" width="2.18" height="2.18" fill="#19497f"/>
<rect x="394.21" y="463.41" width="2.18" height="2.18" fill="#19497f"/>
<rect x="393.41" y="473.81" width="2.18" height="2.18" fill="#19497f"/>
<rect x="394.41" y="486.81" width="2.18" height="2.18" fill="#19497f"/>
<rect x="393.21" y="488.51" width="2.18" height="2.18" fill="#19497f"/>
<line x1="394.8" y1="469.7" x2="394.8" y2="481" stroke="#19497f" stroke-width="0.9"/>
<line x1="393.3" y1="469.7" x2="396.3" y2="469.7" stroke="#19497f" stroke-width="0.8"/>
<line x1="393.3" y1="481" x2="396.3" y2="481" stroke="#19497f" stroke-width="0.8"/>
<line x1="391.6" y1="475.2" x2="398" y2="475.2" stroke="#19497f" stroke-width="1.05"/>
<polygon points="402.65,500.34 404.95,500.34 403.8,498.26" fill="#40a638"/>
<polygon points="403.75,501.04 406.05,501.04 404.9,498.96" fill="#40a638"/>
<polygon points="402.95,500.04 405.25,500.04 404.1,497.96" fill="#40a638"/>
<polygon points="403.95,501.44 406.25,501.44 405.1,499.36" fill="#40a638"/>
<line x1="404.4" y1="499" x2="404.4" y2="500.3" stroke="#40a638" stroke-width="0.9"/>
<line x1="402.9" y1="499" x2="405.9" y2="499" stroke="#40a638" stroke-width="0.8"/>
<line x1="402.9" y1="500.3" x2="405.9" y2="500.3" stroke="#40a638" stroke-width="0.8"/>
<line x1="401.2" y1="499.6" x2="407.6" y2="499.6" stroke="#40a638" stroke-width="1.05"/>
<polygon points="412.35,467.76 414.65,467.76 413.5,469.84" fill="#5b2c6f"/>
<polygon points="413.45,474.16 415.75,474.16 414.6,476.24" fill="#5b2c6f"/>
<polygon points="412.65,488.56 414.95,488.56 413.8,490.64" fill="#5b2c6f"/>
<line x1="414.1" y1="478.4" x2="414.1" y2="490.5" stroke="#5b2c6f" stroke-width="0.9"/>
<line x1="412.6" y1="478.4" x2="415.6" y2="478.4" stroke="#5b2c6f" stroke-width="0.8"/>
<line x1="412.6" y1="490.5" x2="415.6" y2="490.5" stroke="#5b2c6f" stroke-width="0.8"/>
<line x1="410.9" y1="484.4" x2="417.3" y2="484.4" stroke="#5b2c6f" stroke-width="1.05"/>
<circle cx="423.2" cy="457.1" r="1.15" fill="#c20a2c"/>
<circle cx="424.3" cy="466.2" r="1.15" fill="#c20a2c"/>
<circle cx="423.5" cy="469.7" r="1.15" fill="#c20a2c"/>
<circle cx="424.5" cy="475.4" r="1.15" fill="#c20a2c"/>
<line x1="423.8" y1="465.7" x2="423.8" y2="472.7" stroke="#c20a2c" stroke-width="0.9"/>
<line x1="422.3" y1="465.7" x2="425.3" y2="465.7" stroke="#c20a2c" stroke-width="0.8"/>
<line x1="422.3" y1="472.7" x2="425.3" y2="472.7" stroke="#c20a2c" stroke-width="0.8"/>
<line x1="420.6" y1="469.4" x2="427" y2="469.4" stroke="#c20a2c" stroke-width="1.05"/>
<line x1="466.6" y1="451.8" x2="466.6" y2="502.5" stroke="#111" stroke-width="1.35"/>
<line x1="466.1" y1="502" x2="518.5" y2="502" stroke="#111" stroke-width="1.35"/>
<line x1="465.2" y1="502" x2="466.6" y2="502" stroke="#111" stroke-width="0.6"/>
<line x1="465.2" y1="496.73" x2="466.6" y2="496.73" stroke="#111" stroke-width="0.6"/>
<line x1="465.2" y1="491.47" x2="466.6" y2="491.47" stroke="#111" stroke-width="0.6"/>
<line x1="465.2" y1="486.2" x2="466.6" y2="486.2" stroke="#111" stroke-width="0.6"/>
<line x1="465.2" y1="480.93" x2="466.6" y2="480.93" stroke="#111" stroke-width="0.6"/>
<line x1="465.2" y1="475.67" x2="466.6" y2="475.67" stroke="#111" stroke-width="0.6"/>
<line x1="465.2" y1="470.4" x2="466.6" y2="470.4" stroke="#111" stroke-width="0.6"/>
<line x1="465.2" y1="465.13" x2="466.6" y2="465.13" stroke="#111" stroke-width="0.6"/>
<line x1="465.2" y1="459.87" x2="466.6" y2="459.87" stroke="#111" stroke-width="0.6"/>
<line x1="465.2" y1="454.6" x2="466.6" y2="454.6" stroke="#111" stroke-width="0.6"/>
<line x1="463.8" y1="502" x2="466.6" y2="502" stroke="#111" stroke-width="0.9"/>
<text x="460.2" y="504.3" font-size="6.5" text-anchor="end" fill="#333" stroke="#333" stroke-width="0.12" textLength="3.45" lengthAdjust="spacingAndGlyphs">0</text>
<line x1="463.8" y1="486.2" x2="466.6" y2="486.2" stroke="#111" stroke-width="0.9"/>
<text x="460.2" y="488.5" font-size="6.5" text-anchor="end" fill="#333" stroke="#333" stroke-width="0.12" textLength="13.8" lengthAdjust="spacingAndGlyphs">1500</text>
<line x1="463.8" y1="470.4" x2="466.6" y2="470.4" stroke="#111" stroke-width="0.9"/>
<text x="460.2" y="472.7" font-size="6.5" text-anchor="end" fill="#333" stroke="#333" stroke-width="0.12" textLength="13.8" lengthAdjust="spacingAndGlyphs">3000</text>
<line x1="463.8" y1="454.6" x2="466.6" y2="454.6" stroke="#111" stroke-width="0.9"/>
<text x="460.2" y="456.9" font-size="6.5" text-anchor="end" fill="#333" stroke="#333" stroke-width="0.12" textLength="13.8" lengthAdjust="spacingAndGlyphs">4500</text>
<line x1="471.4" y1="502" x2="471.4" y2="503.8" stroke="#111" stroke-width="0.7"/>
<line x1="481.2" y1="502" x2="481.2" y2="503.8" stroke="#111" stroke-width="0.7"/>
<line x1="490.8" y1="502" x2="490.8" y2="503.8" stroke="#111" stroke-width="0.7"/>
<line x1="500.5" y1="502" x2="500.5" y2="503.8" stroke="#111" stroke-width="0.7"/>
<line x1="510.2" y1="502" x2="510.2" y2="503.8" stroke="#111" stroke-width="0.7"/>
<text x="440.3" y="472.7" font-size="6.3" text-anchor="middle" fill="#333" stroke="#333" stroke-width="0.12" textLength="39.4" lengthAdjust="spacingAndGlyphs" transform="rotate(-90 440.3 472.7)">TNF-α (pg/mL)</text>
<line x1="471.4" y1="426.8" x2="510.3" y2="426.8" stroke="#2a2a2a" stroke-width="1"/>
<circle cx="489.3" cy="423.8" r="0.95" fill="#222"/>
<circle cx="492" cy="423.8" r="0.95" fill="#222"/>
<circle cx="494.7" cy="423.8" r="0.95" fill="#222"/>
<line x1="481" y1="435.4" x2="510.3" y2="435.4" stroke="#2a2a2a" stroke-width="1"/>
<text x="495.8" y="433.5" font-size="6.1" text-anchor="middle" fill="#2a2a2a" stroke="#2a2a2a" stroke-width="0.12" textLength="6.2" lengthAdjust="spacingAndGlyphs">ns</text>
<line x1="490.7" y1="442.4" x2="510.3" y2="442.4" stroke="#2a2a2a" stroke-width="1"/>
<circle cx="498.6" cy="439.4" r="0.95" fill="#222"/>
<circle cx="501.3" cy="439.4" r="0.95" fill="#222"/>
<circle cx="504" cy="439.4" r="0.95" fill="#222"/>
<line x1="500.6" y1="450.2" x2="510.3" y2="450.2" stroke="#2a2a2a" stroke-width="1"/>
<circle cx="505.6" cy="446.7" r="0.95" fill="#222"/>
<line x1="468.2" y1="501.3" x2="474.6" y2="501.3" stroke="#f39a1e" stroke-width="1.5"/>
<rect x="479.51" y="459.11" width="2.18" height="2.18" fill="#19497f"/>
<rect x="480.61" y="466.51" width="2.18" height="2.18" fill="#19497f"/>
<rect x="479.81" y="471.21" width="2.18" height="2.18" fill="#19497f"/>
<rect x="480.81" y="479.91" width="2.18" height="2.18" fill="#19497f"/>
<rect x="479.61" y="489.41" width="2.18" height="2.18" fill="#19497f"/>
<rect x="480.31" y="494.21" width="2.18" height="2.18" fill="#19497f"/>
<line x1="481.2" y1="472.6" x2="481.2" y2="485.8" stroke="#19497f" stroke-width="0.9"/>
<line x1="479.7" y1="472.6" x2="482.7" y2="472.6" stroke="#19497f" stroke-width="0.8"/>
<line x1="479.7" y1="485.8" x2="482.7" y2="485.8" stroke="#19497f" stroke-width="0.8"/>
<line x1="478" y1="479.2" x2="484.4" y2="479.2" stroke="#19497f" stroke-width="1.05"/>
<polygon points="489.05,500.64 491.35,500.64 490.2,498.56" fill="#40a638"/>
<polygon points="490.15,501.34 492.45,501.34 491.3,499.26" fill="#40a638"/>
<polygon points="489.35,500.34 491.65,500.34 490.5,498.26" fill="#40a638"/>
<polygon points="490.35,501.64 492.65,501.64 491.5,499.56" fill="#40a638"/>
<line x1="490.8" y1="499.2" x2="490.8" y2="500.5" stroke="#40a638" stroke-width="0.9"/>
<line x1="489.3" y1="499.2" x2="492.3" y2="499.2" stroke="#40a638" stroke-width="0.8"/>
<line x1="489.3" y1="500.5" x2="492.3" y2="500.5" stroke="#40a638" stroke-width="0.8"/>
<line x1="487.6" y1="499.8" x2="494" y2="499.8" stroke="#40a638" stroke-width="1.05"/>
<polygon points="498.75,468.66 501.05,468.66 499.9,470.74" fill="#5b2c6f"/>
<polygon points="499.85,482.56 502.15,482.56 501,484.64" fill="#5b2c6f"/>
<polygon points="499.05,492.06 501.35,492.06 500.2,494.14" fill="#5b2c6f"/>
<line x1="500.5" y1="482.7" x2="500.5" y2="492.7" stroke="#5b2c6f" stroke-width="0.9"/>
<line x1="499" y1="482.7" x2="502" y2="482.7" stroke="#5b2c6f" stroke-width="0.8"/>
<line x1="499" y1="492.7" x2="502" y2="492.7" stroke="#5b2c6f" stroke-width="0.8"/>
<line x1="497.3" y1="487.4" x2="503.7" y2="487.4" stroke="#5b2c6f" stroke-width="1.05"/>
<circle cx="509.6" cy="454.1" r="1.15" fill="#c20a2c"/>
<circle cx="510.7" cy="462.8" r="1.15" fill="#c20a2c"/>
<circle cx="509.9" cy="465.4" r="1.15" fill="#c20a2c"/>
<circle cx="510.9" cy="469.7" r="1.15" fill="#c20a2c"/>
<circle cx="509.7" cy="475.8" r="1.15" fill="#c20a2c"/>
<circle cx="510.4" cy="478.4" r="1.15" fill="#c20a2c"/>
<line x1="510.2" y1="465" x2="510.2" y2="473.2" stroke="#c20a2c" stroke-width="0.9"/>
<line x1="508.7" y1="465" x2="511.7" y2="465" stroke="#c20a2c" stroke-width="0.8"/>
<line x1="508.7" y1="473.2" x2="511.7" y2="473.2" stroke="#c20a2c" stroke-width="0.8"/>
<line x1="507" y1="469.4" x2="513.4" y2="469.4" stroke="#c20a2c" stroke-width="1.05"/>
<line x1="292.5" y1="521.8" x2="292.5" y2="574.3" stroke="#111" stroke-width="1.35"/>
<line x1="292" y1="573.8" x2="344" y2="573.8" stroke="#111" stroke-width="1.35"/>
<line x1="291.1" y1="573.8" x2="292.5" y2="573.8" stroke="#111" stroke-width="0.6"/>
<line x1="291.1" y1="568.33" x2="292.5" y2="568.33" stroke="#111" stroke-width="0.6"/>
<line x1="291.1" y1="562.87" x2="292.5" y2="562.87" stroke="#111" stroke-width="0.6"/>
<line x1="291.1" y1="557.4" x2="292.5" y2="557.4" stroke="#111" stroke-width="0.6"/>
<line x1="291.1" y1="551.93" x2="292.5" y2="551.93" stroke="#111" stroke-width="0.6"/>
<line x1="291.1" y1="546.47" x2="292.5" y2="546.47" stroke="#111" stroke-width="0.6"/>
<line x1="291.1" y1="541" x2="292.5" y2="541" stroke="#111" stroke-width="0.6"/>
<line x1="291.1" y1="535.53" x2="292.5" y2="535.53" stroke="#111" stroke-width="0.6"/>
<line x1="291.1" y1="530.07" x2="292.5" y2="530.07" stroke="#111" stroke-width="0.6"/>
<line x1="291.1" y1="524.6" x2="292.5" y2="524.6" stroke="#111" stroke-width="0.6"/>
<line x1="289.7" y1="573.8" x2="292.5" y2="573.8" stroke="#111" stroke-width="0.9"/>
<text x="286.1" y="576.1" font-size="6.5" text-anchor="end" fill="#333" stroke="#333" stroke-width="0.12" textLength="3.45" lengthAdjust="spacingAndGlyphs">0</text>
<line x1="289.7" y1="557.4" x2="292.5" y2="557.4" stroke="#111" stroke-width="0.9"/>
<text x="286.1" y="559.7" font-size="6.5" text-anchor="end" fill="#333" stroke="#333" stroke-width="0.12" textLength="10.35" lengthAdjust="spacingAndGlyphs">150</text>
<line x1="289.7" y1="541" x2="292.5" y2="541" stroke="#111" stroke-width="0.9"/>
<text x="286.1" y="543.3" font-size="6.5" text-anchor="end" fill="#333" stroke="#333" stroke-width="0.12" textLength="10.35" lengthAdjust="spacingAndGlyphs">300</text>
<line x1="289.7" y1="524.6" x2="292.5" y2="524.6" stroke="#111" stroke-width="0.9"/>
<text x="286.1" y="526.9" font-size="6.5" text-anchor="end" fill="#333" stroke="#333" stroke-width="0.12" textLength="10.35" lengthAdjust="spacingAndGlyphs">450</text>
<line x1="297.3" y1="573.8" x2="297.3" y2="575.6" stroke="#111" stroke-width="0.7"/>
<line x1="307.1" y1="573.8" x2="307.1" y2="575.6" stroke="#111" stroke-width="0.7"/>
<line x1="316.7" y1="573.8" x2="316.7" y2="575.6" stroke="#111" stroke-width="0.7"/>
<line x1="326.4" y1="573.8" x2="326.4" y2="575.6" stroke="#111" stroke-width="0.7"/>
<line x1="336.1" y1="573.8" x2="336.1" y2="575.6" stroke="#111" stroke-width="0.7"/>
<text x="269.8" y="548.8" font-size="6.3" text-anchor="middle" fill="#333" stroke="#333" stroke-width="0.12" textLength="31.5" lengthAdjust="spacingAndGlyphs" transform="rotate(-90 269.8 548.8)">IL-4 (pg/mL)</text>
<line x1="298.2" y1="523.6" x2="336.2" y2="523.6" stroke="#2a2a2a" stroke-width="1"/>
<circle cx="315.95" cy="520.3" r="0.95" fill="#222"/>
<circle cx="318.65" cy="520.3" r="0.95" fill="#222"/>
<line x1="307.1" y1="531.9" x2="336.2" y2="531.9" stroke="#2a2a2a" stroke-width="1"/>
<text x="321.4" y="530.3" font-size="6.1" text-anchor="middle" fill="#2a2a2a" stroke="#2a2a2a" stroke-width="0.12" textLength="6.2" lengthAdjust="spacingAndGlyphs">ns</text>
<line x1="317.1" y1="539.5" x2="336.2" y2="539.5" stroke="#2a2a2a" stroke-width="1"/>
<circle cx="325.95" cy="536" r="0.95" fill="#222"/>
<circle cx="328.65" cy="536" r="0.95" fill="#222"/>
<line x1="327.1" y1="546.7" x2="336.2" y2="546.7" stroke="#2a2a2a" stroke-width="1"/>
<text x="331.6" y="545.1" font-size="6.1" text-anchor="middle" fill="#2a2a2a" stroke="#2a2a2a" stroke-width="0.12" textLength="6.2" lengthAdjust="spacingAndGlyphs">ns</text>
<line x1="294.1" y1="573.1" x2="300.5" y2="573.1" stroke="#f39a1e" stroke-width="1.5"/>
<rect x="305.41" y="552.41" width="2.18" height="2.18" fill="#19497f"/>
<rect x="306.51" y="553.71" width="2.18" height="2.18" fill="#19497f"/>
<rect x="305.71" y="555.91" width="2.18" height="2.18" fill="#19497f"/>
<rect x="306.71" y="561.81" width="2.18" height="2.18" fill="#19497f"/>
<rect x="305.51" y="568.01" width="2.18" height="2.18" fill="#19497f"/>
<line x1="307.1" y1="556.5" x2="307.1" y2="564" stroke="#19497f" stroke-width="0.9"/>
<line x1="305.6" y1="556.5" x2="308.6" y2="556.5" stroke="#19497f" stroke-width="0.8"/>
<line x1="305.6" y1="564" x2="308.6" y2="564" stroke="#19497f" stroke-width="0.8"/>
<line x1="303.9" y1="560.2" x2="310.3" y2="560.2" stroke="#19497f" stroke-width="1.05"/>
<polygon points="314.95,573.33 317.25,573.33 316.1,571.26" fill="#40a638"/>
<polygon points="316.05,573.83 318.35,573.83 317.2,571.76" fill="#40a638"/>
<polygon points="315.25,573.03 317.55,573.03 316.4,570.97" fill="#40a638"/>
<polygon points="316.25,574.03 318.55,574.03 317.4,571.97" fill="#40a638"/>
<line x1="316.7" y1="572" x2="316.7" y2="573" stroke="#40a638" stroke-width="0.9"/>
<line x1="315.2" y1="572" x2="318.2" y2="572" stroke="#40a638" stroke-width="0.8"/>
<line x1="315.2" y1="573" x2="318.2" y2="573" stroke="#40a638" stroke-width="0.8"/>
<line x1="313.5" y1="572.6" x2="319.9" y2="572.6" stroke="#40a638" stroke-width="1.05"/>
<polygon points="324.65,555.67 326.95,555.67 325.8,557.74" fill="#5b2c6f"/>
<polygon points="325.75,563.17 328.05,563.17 326.9,565.24" fill="#5b2c6f"/>
<polygon points="324.95,565.37 327.25,565.37 326.1,567.43" fill="#5b2c6f"/>
<polygon points="325.95,567.26 328.25,567.26 327.1,569.33" fill="#5b2c6f"/>
<line x1="326.4" y1="562.5" x2="326.4" y2="568.5" stroke="#5b2c6f" stroke-width="0.9"/>
<line x1="324.9" y1="562.5" x2="327.9" y2="562.5" stroke="#5b2c6f" stroke-width="0.8"/>
<line x1="324.9" y1="568.5" x2="327.9" y2="568.5" stroke="#5b2c6f" stroke-width="0.8"/>
<line x1="323.2" y1="565.6" x2="329.6" y2="565.6" stroke="#5b2c6f" stroke-width="1.05"/>
<circle cx="335.5" cy="556.7" r="1.15" fill="#c20a2c"/>
<circle cx="336.6" cy="561.5" r="1.15" fill="#c20a2c"/>
<circle cx="335.8" cy="562.9" r="1.15" fill="#c20a2c"/>
<circle cx="336.8" cy="568.3" r="1.15" fill="#c20a2c"/>
<line x1="336.1" y1="559.5" x2="336.1" y2="564.8" stroke="#c20a2c" stroke-width="0.9"/>
<line x1="334.6" y1="559.5" x2="337.6" y2="559.5" stroke="#c20a2c" stroke-width="0.8"/>
<line x1="334.6" y1="564.8" x2="337.6" y2="564.8" stroke="#c20a2c" stroke-width="0.8"/>
<line x1="332.9" y1="562.1" x2="339.3" y2="562.1" stroke="#c20a2c" stroke-width="1.05"/>
<line x1="379.3" y1="520.6" x2="379.3" y2="573.8" stroke="#111" stroke-width="1.35"/>
<line x1="378.8" y1="573.3" x2="431.5" y2="573.3" stroke="#111" stroke-width="1.35"/>
<line x1="377.9" y1="573.3" x2="379.3" y2="573.3" stroke="#111" stroke-width="0.6"/>
<line x1="377.9" y1="570.8" x2="379.3" y2="570.8" stroke="#111" stroke-width="0.6"/>
<line x1="377.9" y1="568.31" x2="379.3" y2="568.31" stroke="#111" stroke-width="0.6"/>
<line x1="377.9" y1="565.81" x2="379.3" y2="565.81" stroke="#111" stroke-width="0.6"/>
<line x1="377.9" y1="563.32" x2="379.3" y2="563.32" stroke="#111" stroke-width="0.6"/>
<line x1="377.9" y1="560.82" x2="379.3" y2="560.82" stroke="#111" stroke-width="0.6"/>
<line x1="377.9" y1="558.33" x2="379.3" y2="558.33" stroke="#111" stroke-width="0.6"/>
<line x1="377.9" y1="555.83" x2="379.3" y2="555.83" stroke="#111" stroke-width="0.6"/>
<line x1="377.9" y1="553.34" x2="379.3" y2="553.34" stroke="#111" stroke-width="0.6"/>
<line x1="377.9" y1="550.84" x2="379.3" y2="550.84" stroke="#111" stroke-width="0.6"/>
<line x1="377.9" y1="548.35" x2="379.3" y2="548.35" stroke="#111" stroke-width="0.6"/>
<line x1="377.9" y1="545.86" x2="379.3" y2="545.86" stroke="#111" stroke-width="0.6"/>
<line x1="377.9" y1="543.36" x2="379.3" y2="543.36" stroke="#111" stroke-width="0.6"/>
<line x1="377.9" y1="540.87" x2="379.3" y2="540.87" stroke="#111" stroke-width="0.6"/>
<line x1="377.9" y1="538.37" x2="379.3" y2="538.37" stroke="#111" stroke-width="0.6"/>
<line x1="377.9" y1="535.88" x2="379.3" y2="535.88" stroke="#111" stroke-width="0.6"/>
<line x1="377.9" y1="533.38" x2="379.3" y2="533.38" stroke="#111" stroke-width="0.6"/>
<line x1="377.9" y1="530.88" x2="379.3" y2="530.88" stroke="#111" stroke-width="0.6"/>
<line x1="377.9" y1="528.39" x2="379.3" y2="528.39" stroke="#111" stroke-width="0.6"/>
<line x1="377.9" y1="525.89" x2="379.3" y2="525.89" stroke="#111" stroke-width="0.6"/>
<line x1="377.9" y1="523.4" x2="379.3" y2="523.4" stroke="#111" stroke-width="0.6"/>
<line x1="376.5" y1="573.3" x2="379.3" y2="573.3" stroke="#111" stroke-width="0.9"/>
<text x="372.9" y="575.6" font-size="6.5" text-anchor="end" fill="#333" stroke="#333" stroke-width="0.12" textLength="3.45" lengthAdjust="spacingAndGlyphs">0</text>
<line x1="376.5" y1="560.82" x2="379.3" y2="560.82" stroke="#111" stroke-width="0.9"/>
<text x="372.9" y="563.12" font-size="6.5" text-anchor="end" fill="#333" stroke="#333" stroke-width="0.12" textLength="6.9" lengthAdjust="spacingAndGlyphs">25</text>
<line x1="376.5" y1="548.35" x2="379.3" y2="548.35" stroke="#111" stroke-width="0.9"/>
<text x="372.9" y="550.65" font-size="6.5" text-anchor="end" fill="#333" stroke="#333" stroke-width="0.12" textLength="6.9" lengthAdjust="spacingAndGlyphs">50</text>
<line x1="376.5" y1="535.88" x2="379.3" y2="535.88" stroke="#111" stroke-width="0.9"/>
<text x="372.9" y="538.17" font-size="6.5" text-anchor="end" fill="#333" stroke="#333" stroke-width="0.12" textLength="6.9" lengthAdjust="spacingAndGlyphs">75</text>
<line x1="376.5" y1="523.4" x2="379.3" y2="523.4" stroke="#111" stroke-width="0.9"/>
<text x="372.9" y="525.7" font-size="6.5" text-anchor="end" fill="#333" stroke="#333" stroke-width="0.12" textLength="10.35" lengthAdjust="spacingAndGlyphs">100</text>
<line x1="384.1" y1="573.3" x2="384.1" y2="575.1" stroke="#111" stroke-width="0.7"/>
<line x1="393.9" y1="573.3" x2="393.9" y2="575.1" stroke="#111" stroke-width="0.7"/>
<line x1="403.5" y1="573.3" x2="403.5" y2="575.1" stroke="#111" stroke-width="0.7"/>
<line x1="413.2" y1="573.3" x2="413.2" y2="575.1" stroke="#111" stroke-width="0.7"/>
<line x1="422.9" y1="573.3" x2="422.9" y2="575.1" stroke="#111" stroke-width="0.7"/>
<text x="357.6" y="548.8" font-size="6.3" text-anchor="middle" fill="#333" stroke="#333" stroke-width="0.12" textLength="31.5" lengthAdjust="spacingAndGlyphs" transform="rotate(-90 357.6 548.8)">IL-6 (pg/mL)</text>
<line x1="385.6" y1="524.4" x2="424" y2="524.4" stroke="#2a2a2a" stroke-width="1"/>
<text x="405.3" y="522.5" font-size="6.1" text-anchor="middle" fill="#2a2a2a" stroke="#2a2a2a" stroke-width="0.12" textLength="6.2" lengthAdjust="spacingAndGlyphs">ns</text>
<line x1="395" y1="531.8" x2="424" y2="531.8" stroke="#2a2a2a" stroke-width="1"/>
<text x="409.3" y="529.9" font-size="6.1" text-anchor="middle" fill="#2a2a2a" stroke="#2a2a2a" stroke-width="0.12" textLength="6.2" lengthAdjust="spacingAndGlyphs">ns</text>
<line x1="405" y1="539.6" x2="424" y2="539.6" stroke="#2a2a2a" stroke-width="1"/>
<text x="415" y="537.9" font-size="6.1" text-anchor="middle" fill="#2a2a2a" stroke="#2a2a2a" stroke-width="0.12" textLength="6.2" lengthAdjust="spacingAndGlyphs">ns</text>
<line x1="414.5" y1="546.5" x2="424" y2="546.5" stroke="#2a2a2a" stroke-width="1"/>
<text x="419.7" y="544.7" font-size="6.1" text-anchor="middle" fill="#2a2a2a" stroke="#2a2a2a" stroke-width="0.12" textLength="6.2" lengthAdjust="spacingAndGlyphs">ns</text>
<line x1="380.9" y1="572.6" x2="387.3" y2="572.6" stroke="#f39a1e" stroke-width="1.5"/>
<rect x="392.21" y="563.61" width="2.18" height="2.18" fill="#19497f"/>
<rect x="393.31" y="565.31" width="2.18" height="2.18" fill="#19497f"/>
<rect x="392.51" y="567.11" width="2.18" height="2.18" fill="#19497f"/>
<rect x="393.51" y="567.91" width="2.18" height="2.18" fill="#19497f"/>
<rect x="392.31" y="570.51" width="2.18" height="2.18" fill="#19497f"/>
<line x1="393.9" y1="566.5" x2="393.9" y2="570" stroke="#19497f" stroke-width="0.9"/>
<line x1="392.4" y1="566.5" x2="395.4" y2="566.5" stroke="#19497f" stroke-width="0.8"/>
<line x1="392.4" y1="570" x2="395.4" y2="570" stroke="#19497f" stroke-width="0.8"/>
<line x1="390.7" y1="568.2" x2="397.1" y2="568.2" stroke="#19497f" stroke-width="1.05"/>
<polygon points="401.75,573.43 404.05,573.43 402.9,571.37" fill="#40a638"/>
<polygon points="402.85,573.93 405.15,573.93 404,571.87" fill="#40a638"/>
<polygon points="402.05,573.24 404.35,573.24 403.2,571.17" fill="#40a638"/>
<line x1="403.5" y1="572.2" x2="403.5" y2="573" stroke="#40a638" stroke-width="0.9"/>
<line x1="402" y1="572.2" x2="405" y2="572.2" stroke="#40a638" stroke-width="0.8"/>
<line x1="402" y1="573" x2="405" y2="573" stroke="#40a638" stroke-width="0.8"/>
<line x1="400.3" y1="572.6" x2="406.7" y2="572.6" stroke="#40a638" stroke-width="1.05"/>
<polygon points="411.45,561.97 413.75,561.97 412.6,564.03" fill="#5b2c6f"/>
<polygon points="412.55,568.87 414.85,568.87 413.7,570.93" fill="#5b2c6f"/>
<polygon points="411.75,569.76 414.05,569.76 412.9,571.83" fill="#5b2c6f"/>
<polygon points="412.75,571.97 415.05,571.97 413.9,574.03" fill="#5b2c6f"/>
<line x1="413.2" y1="568.8" x2="413.2" y2="572.3" stroke="#5b2c6f" stroke-width="0.9"/>
<line x1="411.7" y1="568.8" x2="414.7" y2="568.8" stroke="#5b2c6f" stroke-width="0.8"/>
<line x1="411.7" y1="572.3" x2="414.7" y2="572.3" stroke="#5b2c6f" stroke-width="0.8"/>
<line x1="410" y1="570.5" x2="416.4" y2="570.5" stroke="#5b2c6f" stroke-width="1.05"/>
<circle cx="422.3" cy="566.4" r="1.15" fill="#c20a2c"/>
<circle cx="423.4" cy="568.2" r="1.15" fill="#c20a2c"/>
<circle cx="422.6" cy="570" r="1.15" fill="#c20a2c"/>
<circle cx="423.6" cy="571.6" r="1.15" fill="#c20a2c"/>
<line x1="422.9" y1="568.8" x2="422.9" y2="572" stroke="#c20a2c" stroke-width="0.9"/>
<line x1="421.4" y1="568.8" x2="424.4" y2="568.8" stroke="#c20a2c" stroke-width="0.8"/>
<line x1="421.4" y1="572" x2="424.4" y2="572" stroke="#c20a2c" stroke-width="0.8"/>
<line x1="419.7" y1="570.3" x2="426.1" y2="570.3" stroke="#c20a2c" stroke-width="1.05"/>
<line x1="467" y1="521" x2="467" y2="573.5" stroke="#111" stroke-width="1.35"/>
<line x1="466.5" y1="573" x2="518.5" y2="573" stroke="#111" stroke-width="1.35"/>
<line x1="465.6" y1="573" x2="467" y2="573" stroke="#111" stroke-width="0.6"/>
<line x1="465.6" y1="570.54" x2="467" y2="570.54" stroke="#111" stroke-width="0.6"/>
<line x1="465.6" y1="568.08" x2="467" y2="568.08" stroke="#111" stroke-width="0.6"/>
<line x1="465.6" y1="565.62" x2="467" y2="565.62" stroke="#111" stroke-width="0.6"/>
<line x1="465.6" y1="563.16" x2="467" y2="563.16" stroke="#111" stroke-width="0.6"/>
<line x1="465.6" y1="560.7" x2="467" y2="560.7" stroke="#111" stroke-width="0.6"/>
<line x1="465.6" y1="558.24" x2="467" y2="558.24" stroke="#111" stroke-width="0.6"/>
<line x1="465.6" y1="555.78" x2="467" y2="555.78" stroke="#111" stroke-width="0.6"/>
<line x1="465.6" y1="553.32" x2="467" y2="553.32" stroke="#111" stroke-width="0.6"/>
<line x1="465.6" y1="550.86" x2="467" y2="550.86" stroke="#111" stroke-width="0.6"/>
<line x1="465.6" y1="548.4" x2="467" y2="548.4" stroke="#111" stroke-width="0.6"/>
<line x1="465.6" y1="545.94" x2="467" y2="545.94" stroke="#111" stroke-width="0.6"/>
<line x1="465.6" y1="543.48" x2="467" y2="543.48" stroke="#111" stroke-width="0.6"/>
<line x1="465.6" y1="541.02" x2="467" y2="541.02" stroke="#111" stroke-width="0.6"/>
<line x1="465.6" y1="538.56" x2="467" y2="538.56" stroke="#111" stroke-width="0.6"/>
<line x1="465.6" y1="536.1" x2="467" y2="536.1" stroke="#111" stroke-width="0.6"/>
<line x1="465.6" y1="533.64" x2="467" y2="533.64" stroke="#111" stroke-width="0.6"/>
<line x1="465.6" y1="531.18" x2="467" y2="531.18" stroke="#111" stroke-width="0.6"/>
<line x1="465.6" y1="528.72" x2="467" y2="528.72" stroke="#111" stroke-width="0.6"/>
<line x1="465.6" y1="526.26" x2="467" y2="526.26" stroke="#111" stroke-width="0.6"/>
<line x1="465.6" y1="523.8" x2="467" y2="523.8" stroke="#111" stroke-width="0.6"/>
<line x1="464.2" y1="573" x2="467" y2="573" stroke="#111" stroke-width="0.9"/>
<text x="460.6" y="575.3" font-size="6.5" text-anchor="end" fill="#333" stroke="#333" stroke-width="0.12" textLength="3.45" lengthAdjust="spacingAndGlyphs">0</text>
<line x1="464.2" y1="560.7" x2="467" y2="560.7" stroke="#111" stroke-width="0.9"/>
<text x="460.6" y="563" font-size="6.5" text-anchor="end" fill="#333" stroke="#333" stroke-width="0.12" textLength="6.9" lengthAdjust="spacingAndGlyphs">50</text>
<line x1="464.2" y1="548.4" x2="467" y2="548.4" stroke="#111" stroke-width="0.9"/>
<text x="460.6" y="550.7" font-size="6.5" text-anchor="end" fill="#333" stroke="#333" stroke-width="0.12" textLength="10.35" lengthAdjust="spacingAndGlyphs">100</text>
<line x1="464.2" y1="536.1" x2="467" y2="536.1" stroke="#111" stroke-width="0.9"/>
<text x="460.6" y="538.4" font-size="6.5" text-anchor="end" fill="#333" stroke="#333" stroke-width="0.12" textLength="10.35" lengthAdjust="spacingAndGlyphs">150</text>
<line x1="464.2" y1="523.8" x2="467" y2="523.8" stroke="#111" stroke-width="0.9"/>
<text x="460.6" y="526.1" font-size="6.5" text-anchor="end" fill="#333" stroke="#333" stroke-width="0.12" textLength="10.35" lengthAdjust="spacingAndGlyphs">200</text>
<line x1="471.8" y1="573" x2="471.8" y2="574.8" stroke="#111" stroke-width="0.7"/>
<line x1="481.6" y1="573" x2="481.6" y2="574.8" stroke="#111" stroke-width="0.7"/>
<line x1="491.2" y1="573" x2="491.2" y2="574.8" stroke="#111" stroke-width="0.7"/>
<line x1="500.9" y1="573" x2="500.9" y2="574.8" stroke="#111" stroke-width="0.7"/>
<line x1="510.6" y1="573" x2="510.6" y2="574.8" stroke="#111" stroke-width="0.7"/>
<text x="444.8" y="548.8" font-size="6.3" text-anchor="middle" fill="#333" stroke="#333" stroke-width="0.12" textLength="36" lengthAdjust="spacingAndGlyphs" transform="rotate(-90 444.8 548.8)">IL-10 (pg/mL)</text>
<line x1="472.4" y1="524" x2="511.3" y2="524" stroke="#2a2a2a" stroke-width="1"/>
<text x="492.3" y="522.1" font-size="6.1" text-anchor="middle" fill="#2a2a2a" stroke="#2a2a2a" stroke-width="0.12" textLength="6.2" lengthAdjust="spacingAndGlyphs">ns</text>
<line x1="482.3" y1="531.8" x2="511.3" y2="531.8" stroke="#2a2a2a" stroke-width="1"/>
<text x="495.8" y="529.4" font-size="6.1" text-anchor="middle" fill="#2a2a2a" stroke="#2a2a2a" stroke-width="0.12" textLength="6.2" lengthAdjust="spacingAndGlyphs">ns</text>
<line x1="492" y1="539.3" x2="511.3" y2="539.3" stroke="#2a2a2a" stroke-width="1"/>
<text x="502.7" y="537.5" font-size="6.1" text-anchor="middle" fill="#2a2a2a" stroke="#2a2a2a" stroke-width="0.12" textLength="6.2" lengthAdjust="spacingAndGlyphs">ns</text>
<line x1="502.3" y1="546.5" x2="511.3" y2="546.5" stroke="#2a2a2a" stroke-width="1"/>
<text x="507" y="544.1" font-size="6.1" text-anchor="middle" fill="#2a2a2a" stroke="#2a2a2a" stroke-width="0.12" textLength="6.2" lengthAdjust="spacingAndGlyphs">ns</text>
<line x1="468.6" y1="572.3" x2="475" y2="572.3" stroke="#f39a1e" stroke-width="1.5"/>
<rect x="479.91" y="554.91" width="2.18" height="2.18" fill="#19497f"/>
<rect x="481.01" y="560.11" width="2.18" height="2.18" fill="#19497f"/>
<rect x="480.21" y="563.41" width="2.18" height="2.18" fill="#19497f"/>
<rect x="481.21" y="568.81" width="2.18" height="2.18" fill="#19497f"/>
<rect x="480.01" y="569.71" width="2.18" height="2.18" fill="#19497f"/>
<line x1="481.6" y1="560.4" x2="481.6" y2="568.2" stroke="#19497f" stroke-width="0.9"/>
<line x1="480.1" y1="560.4" x2="483.1" y2="560.4" stroke="#19497f" stroke-width="0.8"/>
<line x1="480.1" y1="568.2" x2="483.1" y2="568.2" stroke="#19497f" stroke-width="0.8"/>
<line x1="478.4" y1="564.2" x2="484.8" y2="564.2" stroke="#19497f" stroke-width="1.05"/>
<polygon points="489.45,551.93 491.75,551.93 490.6,549.87" fill="#40a638"/>
<polygon points="490.55,564.03 492.85,564.03 491.7,561.97" fill="#40a638"/>
<polygon points="489.75,571.83 492.05,571.83 490.9,569.76" fill="#40a638"/>
<polygon points="490.75,573.33 493.05,573.33 491.9,571.26" fill="#40a638"/>
<line x1="491.2" y1="563" x2="491.2" y2="572.3" stroke="#40a638" stroke-width="0.9"/>
<line x1="489.7" y1="563" x2="492.7" y2="563" stroke="#40a638" stroke-width="0.8"/>
<line x1="489.7" y1="572.3" x2="492.7" y2="572.3" stroke="#40a638" stroke-width="0.8"/>
<line x1="488" y1="567" x2="494.4" y2="567" stroke="#40a638" stroke-width="1.05"/>
<polygon points="499.15,553.26 501.45,553.26 500.3,555.33" fill="#5b2c6f"/>
<polygon points="500.25,554.17 502.55,554.17 501.4,556.24" fill="#5b2c6f"/>
<polygon points="499.45,560.17 501.75,560.17 500.6,562.24" fill="#5b2c6f"/>
<polygon points="500.45,564.47 502.75,564.47 501.6,566.53" fill="#5b2c6f"/>
<polygon points="499.25,569.76 501.55,569.76 500.4,571.83" fill="#5b2c6f"/>
<line x1="500.9" y1="560.4" x2="500.9" y2="569.9" stroke="#5b2c6f" stroke-width="0.9"/>
<line x1="499.4" y1="560.4" x2="502.4" y2="560.4" stroke="#5b2c6f" stroke-width="0.8"/>
<line x1="499.4" y1="569.9" x2="502.4" y2="569.9" stroke="#5b2c6f" stroke-width="0.8"/>
<line x1="497.7" y1="564.7" x2="504.1" y2="564.7" stroke="#5b2c6f" stroke-width="1.05"/>
<circle cx="510" cy="561.2" r="1.15" fill="#c20a2c"/>
<circle cx="511.1" cy="564.5" r="1.15" fill="#c20a2c"/>
<circle cx="510.3" cy="566.2" r="1.15" fill="#c20a2c"/>
<circle cx="511.3" cy="567.3" r="1.15" fill="#c20a2c"/>
<line x1="510.6" y1="564" x2="510.6" y2="567.5" stroke="#c20a2c" stroke-width="0.9"/>
<line x1="509.1" y1="564" x2="512.1" y2="564" stroke="#c20a2c" stroke-width="0.8"/>
<line x1="509.1" y1="567.5" x2="512.1" y2="567.5" stroke="#c20a2c" stroke-width="0.8"/>
<line x1="507.4" y1="565.9" x2="513.8" y2="565.9" stroke="#c20a2c" stroke-width="1.05"/>
</svg>
</body></html>
